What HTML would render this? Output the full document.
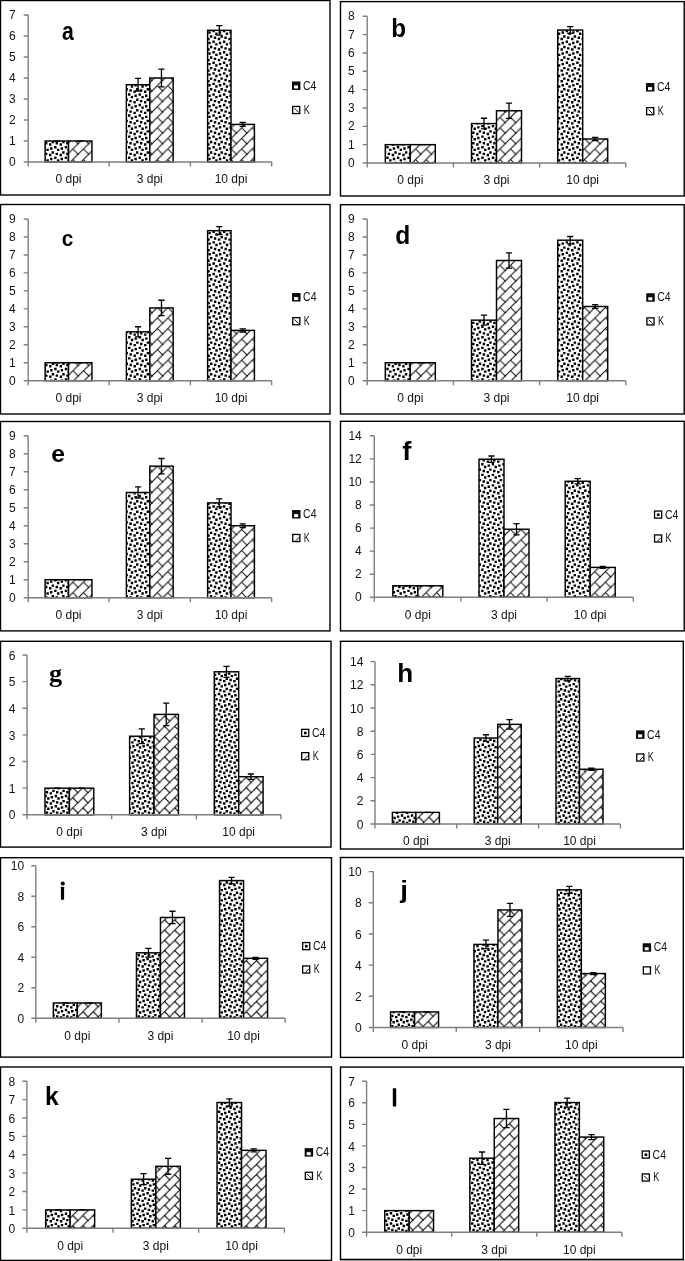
<!DOCTYPE html>
<html><head><meta charset="utf-8"><style>
html,body{margin:0;padding:0;background:#fff;}
svg{display:block;}

.t{font-family:"Liberation Sans",sans-serif;font-size:12px;fill:#111;}
.lg{font-family:"Liberation Sans",sans-serif;font-size:12.3px;fill:#111;}
.L{font-family:"Liberation Sans",sans-serif;font-size:100px;font-weight:bold;fill:#000;}
</style></head><body>
<svg style="will-change:transform" width="685" height="1261" viewBox="0 0 685 1261">
<rect width="685" height="1261" fill="#fff"/>
<defs>
<pattern id="bra" patternUnits="userSpaceOnUse" x="4.3" y="6.56" width="10.55" height="10.55">
<rect width="10.55" height="10.55" fill="#fff"/>
<path d="M-1 11.55 L11.55 -1 M5.28 5.28 L11.55 11.55 M-1 -1 L0.5 0.5" stroke="#000" stroke-width="1" fill="none"/>
</pattern>
<pattern id="brb" patternUnits="userSpaceOnUse" x="9.4" y="6.56" width="10.55" height="10.55">
<rect width="10.55" height="10.55" fill="#fff"/>
<path d="M-1 11.55 L11.55 -1 M5.28 5.28 L11.55 11.55 M-1 -1 L0.5 0.5" stroke="#000" stroke-width="1" fill="none"/>
</pattern>
<pattern id="brc" patternUnits="userSpaceOnUse" x="4.4" y="6.76" width="10.55" height="10.55">
<rect width="10.55" height="10.55" fill="#fff"/>
<path d="M-1 11.55 L11.55 -1 M5.28 5.28 L11.55 11.55 M-1 -1 L0.5 0.5" stroke="#000" stroke-width="1" fill="none"/>
</pattern>
<pattern id="brd" patternUnits="userSpaceOnUse" x="9.4" y="6.76" width="10.55" height="10.55">
<rect width="10.55" height="10.55" fill="#fff"/>
<path d="M-1 11.55 L11.55 -1 M5.28 5.28 L11.55 11.55 M-1 -1 L0.5 0.5" stroke="#000" stroke-width="1" fill="none"/>
</pattern>
<pattern id="bre" patternUnits="userSpaceOnUse" x="4.3" y="7.16" width="10.55" height="10.55">
<rect width="10.55" height="10.55" fill="#fff"/>
<path d="M-1 11.55 L11.55 -1 M5.28 5.28 L11.55 11.55 M-1 -1 L0.5 0.5" stroke="#000" stroke-width="1" fill="none"/>
</pattern>
<pattern id="brf" patternUnits="userSpaceOnUse" x="9.3" y="7.16" width="10.55" height="10.55">
<rect width="10.55" height="10.55" fill="#fff"/>
<path d="M-1 11.55 L11.55 -1 M5.28 5.28 L11.55 11.55 M-1 -1 L0.5 0.5" stroke="#000" stroke-width="1" fill="none"/>
</pattern>
<pattern id="brg" patternUnits="userSpaceOnUse" x="6.46" y="7.2" width="10.2" height="10.2">
<rect width="10.2" height="10.2" fill="#fff"/>
<path d="M-1 11.2 L11.2 -1 M5.1 5.1 L11.2 11.2 M-1 -1 L0.5 0.5" stroke="#000" stroke-width="1" fill="none"/>
</pattern>
<pattern id="brh" patternUnits="userSpaceOnUse" x="9.72" y="4.08" width="10.1" height="10.1">
<rect width="10.1" height="10.1" fill="#fff"/>
<path d="M-1 11.1 L11.1 -1 M5.05 5.05 L11.1 11.1 M-1 -1 L0.5 0.5" stroke="#000" stroke-width="1" fill="none"/>
</pattern>
<pattern id="bri" patternUnits="userSpaceOnUse" x="6.46" y="7" width="10.2" height="10.2">
<rect width="10.2" height="10.2" fill="#fff"/>
<path d="M-1 11.2 L11.2 -1 M5.1 5.1 L11.2 11.2 M-1 -1 L0.5 0.5" stroke="#000" stroke-width="1" fill="none"/>
</pattern>
<pattern id="brj" patternUnits="userSpaceOnUse" x="6.94" y="11.49" width="10.15" height="10.15">
<rect width="10.15" height="10.15" fill="#fff"/>
<path d="M-1 11.15 L11.15 -1 M5.08 5.08 L11.15 11.15 M-1 -1 L0.5 0.5" stroke="#000" stroke-width="1" fill="none"/>
</pattern>
<pattern id="brk" patternUnits="userSpaceOnUse" x="6.46" y="6.7" width="10.2" height="10.2">
<rect width="10.2" height="10.2" fill="#fff"/>
<path d="M-1 11.2 L11.2 -1 M5.1 5.1 L11.2 11.2 M-1 -1 L0.5 0.5" stroke="#000" stroke-width="1" fill="none"/>
</pattern>
<pattern id="brl" patternUnits="userSpaceOnUse" x="6.94" y="2.09" width="10.15" height="10.15">
<rect width="10.15" height="10.15" fill="#fff"/>
<path d="M-1 11.15 L11.15 -1 M5.08 5.08 L11.15 11.15 M-1 -1 L0.5 0.5" stroke="#000" stroke-width="1" fill="none"/>
</pattern>
</defs>
<rect x="0.5" y="0.5" width="329.5" height="194.5" fill="none" stroke="#000" stroke-width="1.4"/>
<rect x="45.13" y="141" width="23.4" height="21" fill="#fff"/>
<path d="M45.13 142.12h2.27v2.4h-2.27zM49 143.3h2.4v2.4h-2.4zM45.13 146h0.87v2.4h-0.87zM50.05 147.3h2.4v2.4h-2.4zM46.4 148.65h2.4v2.4h-2.4zM45.13 152.67h2.27v2.4h-2.27zM49 153.85h2.4v2.4h-2.4zM45.13 156.55h0.87v2.4h-0.87zM50.05 157.85h2.4v2.4h-2.4zM46.4 159.2h2.4v2.4h-2.4zM51.65 141h2.4v2.15h-2.4zM55.55 142.12h2.4v2.4h-2.4zM59.55 143.3h2.4v2.4h-2.4zM54.15 146h2.4v2.4h-2.4zM60.6 147.3h2.4v2.4h-2.4zM56.95 148.65h2.4v2.4h-2.4zM51.65 151.3h2.4v2.4h-2.4zM55.55 152.67h2.4v2.4h-2.4zM59.55 153.85h2.4v2.4h-2.4zM54.15 156.55h2.4v2.4h-2.4zM60.6 157.85h2.4v2.4h-2.4zM56.95 159.2h2.4v2.4h-2.4zM62.2 141h2.4v2.15h-2.4zM66.1 142.12h2.4v2.4h-2.4zM64.7 146h2.4v2.4h-2.4zM67.5 148.65h1.03v2.4h-1.03zM62.2 151.3h2.4v2.4h-2.4zM66.1 152.67h2.4v2.4h-2.4zM64.7 156.55h2.4v2.4h-2.4zM67.5 159.2h1.03v2.4h-1.03z" fill="#000"/>
<rect x="45.13" y="141" width="23.4" height="21" fill="none" stroke="#000" stroke-width="1.45"/>
<path d="M53.73 141 H59.93" stroke="#000" stroke-width="1.3" fill="none"/>
<rect x="68.53" y="141" width="23.4" height="21" fill="url(#bra)" stroke="#000" stroke-width="1.45"/>
<path d="M77.13 141 H83.33" stroke="#000" stroke-width="1.3" fill="none"/>
<rect x="126.38" y="84.72" width="23.4" height="77.28" fill="#fff"/>
<path d="M128 84.72h2.4v0.38h-2.4zM134.45 84.72h2.4v1.68h-2.4zM130.8 85.35h2.4v2.4h-2.4zM126.38 88h1.53v2.4h-1.53zM129.4 89.37h2.4v2.4h-2.4zM133.4 90.55h2.4v2.4h-2.4zM128 93.25h2.4v2.4h-2.4zM134.45 94.55h2.4v2.4h-2.4zM130.8 95.9h2.4v2.4h-2.4zM126.38 98.55h1.53v2.4h-1.53zM129.4 99.92h2.4v2.4h-2.4zM133.4 101.1h2.4v2.4h-2.4zM128 103.8h2.4v2.4h-2.4zM134.45 105.1h2.4v2.4h-2.4zM130.8 106.45h2.4v2.4h-2.4zM126.38 109.1h1.53v2.4h-1.53zM129.4 110.47h2.4v2.4h-2.4zM133.4 111.65h2.4v2.4h-2.4zM128 114.35h2.4v2.4h-2.4zM134.45 115.65h2.4v2.4h-2.4zM130.8 117h2.4v2.4h-2.4zM126.38 119.65h1.53v2.4h-1.53zM129.4 121.02h2.4v2.4h-2.4zM133.4 122.2h2.4v2.4h-2.4zM128 124.9h2.4v2.4h-2.4zM134.45 126.2h2.4v2.4h-2.4zM130.8 127.55h2.4v2.4h-2.4zM126.38 130.2h1.53v2.4h-1.53zM129.4 131.57h2.4v2.4h-2.4zM133.4 132.75h2.4v2.4h-2.4zM128 135.45h2.4v2.4h-2.4zM134.45 136.75h2.4v2.4h-2.4zM130.8 138.1h2.4v2.4h-2.4zM126.38 140.75h1.53v2.4h-1.53zM129.4 142.12h2.4v2.4h-2.4zM133.4 143.3h2.4v2.4h-2.4zM128 146h2.4v2.4h-2.4zM134.45 147.3h2.4v2.4h-2.4zM130.8 148.65h2.4v2.4h-2.4zM126.38 151.3h1.53v2.4h-1.53zM129.4 152.67h2.4v2.4h-2.4zM133.4 153.85h2.4v2.4h-2.4zM128 156.55h2.4v2.4h-2.4zM134.45 157.85h2.4v2.4h-2.4zM130.8 159.2h2.4v2.4h-2.4zM138.55 84.72h2.4v0.38h-2.4zM145 84.72h2.4v1.68h-2.4zM141.35 85.35h2.4v2.4h-2.4zM136.05 88h2.4v2.4h-2.4zM139.95 89.37h2.4v2.4h-2.4zM143.95 90.55h2.4v2.4h-2.4zM138.55 93.25h2.4v2.4h-2.4zM145 94.55h2.4v2.4h-2.4zM141.35 95.9h2.4v2.4h-2.4zM136.05 98.55h2.4v2.4h-2.4zM139.95 99.92h2.4v2.4h-2.4zM143.95 101.1h2.4v2.4h-2.4zM138.55 103.8h2.4v2.4h-2.4zM145 105.1h2.4v2.4h-2.4zM141.35 106.45h2.4v2.4h-2.4zM136.05 109.1h2.4v2.4h-2.4zM139.95 110.47h2.4v2.4h-2.4zM143.95 111.65h2.4v2.4h-2.4zM138.55 114.35h2.4v2.4h-2.4zM145 115.65h2.4v2.4h-2.4zM141.35 117h2.4v2.4h-2.4zM136.05 119.65h2.4v2.4h-2.4zM139.95 121.02h2.4v2.4h-2.4zM143.95 122.2h2.4v2.4h-2.4zM138.55 124.9h2.4v2.4h-2.4zM145 126.2h2.4v2.4h-2.4zM141.35 127.55h2.4v2.4h-2.4zM136.05 130.2h2.4v2.4h-2.4zM139.95 131.57h2.4v2.4h-2.4zM143.95 132.75h2.4v2.4h-2.4zM138.55 135.45h2.4v2.4h-2.4zM145 136.75h2.4v2.4h-2.4zM141.35 138.1h2.4v2.4h-2.4zM136.05 140.75h2.4v2.4h-2.4zM139.95 142.12h2.4v2.4h-2.4zM143.95 143.3h2.4v2.4h-2.4zM138.55 146h2.4v2.4h-2.4zM145 147.3h2.4v2.4h-2.4zM141.35 148.65h2.4v2.4h-2.4zM136.05 151.3h2.4v2.4h-2.4zM139.95 152.67h2.4v2.4h-2.4zM143.95 153.85h2.4v2.4h-2.4zM138.55 156.55h2.4v2.4h-2.4zM145 157.85h2.4v2.4h-2.4zM141.35 159.2h2.4v2.4h-2.4zM149.1 84.72h0.67v0.38h-0.67zM146.6 88h2.4v2.4h-2.4zM149.1 93.25h0.67v2.4h-0.67zM146.6 98.55h2.4v2.4h-2.4zM149.1 103.8h0.67v2.4h-0.67zM146.6 109.1h2.4v2.4h-2.4zM149.1 114.35h0.67v2.4h-0.67zM146.6 119.65h2.4v2.4h-2.4zM149.1 124.9h0.67v2.4h-0.67zM146.6 130.2h2.4v2.4h-2.4zM149.1 135.45h0.67v2.4h-0.67zM146.6 140.75h2.4v2.4h-2.4zM149.1 146h0.67v2.4h-0.67zM146.6 151.3h2.4v2.4h-2.4zM149.1 156.55h0.67v2.4h-0.67z" fill="#000"/>
<rect x="126.38" y="84.72" width="23.4" height="77.28" fill="none" stroke="#000" stroke-width="1.45"/>
<path d="M138.07 78.42 V91.02 M134.97 78.42 H141.17 M134.97 91.02 H141.17" stroke="#000" stroke-width="1.3" fill="none"/>
<rect x="149.78" y="78" width="23.4" height="84" fill="url(#bra)" stroke="#000" stroke-width="1.45"/>
<path d="M161.47 69.1 V86.9 M158.38 69.1 H164.57 M158.38 86.9 H164.57" stroke="#000" stroke-width="1.3" fill="none"/>
<rect x="207.62" y="30.33" width="23.4" height="131.67" fill="#fff"/>
<path d="M208.3 31.25h2.4v2.4h-2.4zM207.62 37.8h2.03v2.4h-2.03zM208.3 41.8h2.4v2.4h-2.4zM207.62 48.35h2.03v2.4h-2.03zM208.3 52.35h2.4v2.4h-2.4zM207.62 58.9h2.03v2.4h-2.03zM208.3 62.9h2.4v2.4h-2.4zM207.62 69.45h2.03v2.4h-2.03zM208.3 73.45h2.4v2.4h-2.4zM207.62 80h2.03v2.4h-2.03zM208.3 84h2.4v2.4h-2.4zM207.62 90.55h2.03v2.4h-2.03zM208.3 94.55h2.4v2.4h-2.4zM207.62 101.1h2.03v2.4h-2.03zM208.3 105.1h2.4v2.4h-2.4zM207.62 111.65h2.03v2.4h-2.03zM208.3 115.65h2.4v2.4h-2.4zM207.62 122.2h2.03v2.4h-2.03zM208.3 126.2h2.4v2.4h-2.4zM207.62 132.75h2.03v2.4h-2.03zM208.3 136.75h2.4v2.4h-2.4zM207.62 143.3h2.03v2.4h-2.03zM208.3 147.3h2.4v2.4h-2.4zM207.62 153.85h2.03v2.4h-2.03zM208.3 157.85h2.4v2.4h-2.4zM212.4 30.33h2.4v2.02h-2.4zM218.85 31.25h2.4v2.4h-2.4zM215.2 32.6h2.4v2.4h-2.4zM209.9 35.25h2.4v2.4h-2.4zM213.8 36.62h2.4v2.4h-2.4zM217.8 37.8h2.4v2.4h-2.4zM212.4 40.5h2.4v2.4h-2.4zM218.85 41.8h2.4v2.4h-2.4zM215.2 43.15h2.4v2.4h-2.4zM209.9 45.8h2.4v2.4h-2.4zM213.8 47.17h2.4v2.4h-2.4zM217.8 48.35h2.4v2.4h-2.4zM212.4 51.05h2.4v2.4h-2.4zM218.85 52.35h2.4v2.4h-2.4zM215.2 53.7h2.4v2.4h-2.4zM209.9 56.35h2.4v2.4h-2.4zM213.8 57.72h2.4v2.4h-2.4zM217.8 58.9h2.4v2.4h-2.4zM212.4 61.6h2.4v2.4h-2.4zM218.85 62.9h2.4v2.4h-2.4zM215.2 64.25h2.4v2.4h-2.4zM209.9 66.9h2.4v2.4h-2.4zM213.8 68.27h2.4v2.4h-2.4zM217.8 69.45h2.4v2.4h-2.4zM212.4 72.15h2.4v2.4h-2.4zM218.85 73.45h2.4v2.4h-2.4zM215.2 74.8h2.4v2.4h-2.4zM209.9 77.45h2.4v2.4h-2.4zM213.8 78.82h2.4v2.4h-2.4zM217.8 80h2.4v2.4h-2.4zM212.4 82.7h2.4v2.4h-2.4zM218.85 84h2.4v2.4h-2.4zM215.2 85.35h2.4v2.4h-2.4zM209.9 88h2.4v2.4h-2.4zM213.8 89.37h2.4v2.4h-2.4zM217.8 90.55h2.4v2.4h-2.4zM212.4 93.25h2.4v2.4h-2.4zM218.85 94.55h2.4v2.4h-2.4zM215.2 95.9h2.4v2.4h-2.4zM209.9 98.55h2.4v2.4h-2.4zM213.8 99.92h2.4v2.4h-2.4zM217.8 101.1h2.4v2.4h-2.4zM212.4 103.8h2.4v2.4h-2.4zM218.85 105.1h2.4v2.4h-2.4zM215.2 106.45h2.4v2.4h-2.4zM209.9 109.1h2.4v2.4h-2.4zM213.8 110.47h2.4v2.4h-2.4zM217.8 111.65h2.4v2.4h-2.4zM212.4 114.35h2.4v2.4h-2.4zM218.85 115.65h2.4v2.4h-2.4zM215.2 117h2.4v2.4h-2.4zM209.9 119.65h2.4v2.4h-2.4zM213.8 121.02h2.4v2.4h-2.4zM217.8 122.2h2.4v2.4h-2.4zM212.4 124.9h2.4v2.4h-2.4zM218.85 126.2h2.4v2.4h-2.4zM215.2 127.55h2.4v2.4h-2.4zM209.9 130.2h2.4v2.4h-2.4zM213.8 131.57h2.4v2.4h-2.4zM217.8 132.75h2.4v2.4h-2.4zM212.4 135.45h2.4v2.4h-2.4zM218.85 136.75h2.4v2.4h-2.4zM215.2 138.1h2.4v2.4h-2.4zM209.9 140.75h2.4v2.4h-2.4zM213.8 142.12h2.4v2.4h-2.4zM217.8 143.3h2.4v2.4h-2.4zM212.4 146h2.4v2.4h-2.4zM218.85 147.3h2.4v2.4h-2.4zM215.2 148.65h2.4v2.4h-2.4zM209.9 151.3h2.4v2.4h-2.4zM213.8 152.67h2.4v2.4h-2.4zM217.8 153.85h2.4v2.4h-2.4zM212.4 156.55h2.4v2.4h-2.4zM218.85 157.85h2.4v2.4h-2.4zM215.2 159.2h2.4v2.4h-2.4zM222.95 30.33h2.4v2.02h-2.4zM229.4 31.25h1.62v2.4h-1.62zM225.75 32.6h2.4v2.4h-2.4zM220.45 35.25h2.4v2.4h-2.4zM224.35 36.62h2.4v2.4h-2.4zM228.35 37.8h2.4v2.4h-2.4zM222.95 40.5h2.4v2.4h-2.4zM229.4 41.8h1.62v2.4h-1.62zM225.75 43.15h2.4v2.4h-2.4zM220.45 45.8h2.4v2.4h-2.4zM224.35 47.17h2.4v2.4h-2.4zM228.35 48.35h2.4v2.4h-2.4zM222.95 51.05h2.4v2.4h-2.4zM229.4 52.35h1.62v2.4h-1.62zM225.75 53.7h2.4v2.4h-2.4zM220.45 56.35h2.4v2.4h-2.4zM224.35 57.72h2.4v2.4h-2.4zM228.35 58.9h2.4v2.4h-2.4zM222.95 61.6h2.4v2.4h-2.4zM229.4 62.9h1.62v2.4h-1.62zM225.75 64.25h2.4v2.4h-2.4zM220.45 66.9h2.4v2.4h-2.4zM224.35 68.27h2.4v2.4h-2.4zM228.35 69.45h2.4v2.4h-2.4zM222.95 72.15h2.4v2.4h-2.4zM229.4 73.45h1.62v2.4h-1.62zM225.75 74.8h2.4v2.4h-2.4zM220.45 77.45h2.4v2.4h-2.4zM224.35 78.82h2.4v2.4h-2.4zM228.35 80h2.4v2.4h-2.4zM222.95 82.7h2.4v2.4h-2.4zM229.4 84h1.62v2.4h-1.62zM225.75 85.35h2.4v2.4h-2.4zM220.45 88h2.4v2.4h-2.4zM224.35 89.37h2.4v2.4h-2.4zM228.35 90.55h2.4v2.4h-2.4zM222.95 93.25h2.4v2.4h-2.4zM229.4 94.55h1.62v2.4h-1.62zM225.75 95.9h2.4v2.4h-2.4zM220.45 98.55h2.4v2.4h-2.4zM224.35 99.92h2.4v2.4h-2.4zM228.35 101.1h2.4v2.4h-2.4zM222.95 103.8h2.4v2.4h-2.4zM229.4 105.1h1.62v2.4h-1.62zM225.75 106.45h2.4v2.4h-2.4zM220.45 109.1h2.4v2.4h-2.4zM224.35 110.47h2.4v2.4h-2.4zM228.35 111.65h2.4v2.4h-2.4zM222.95 114.35h2.4v2.4h-2.4zM229.4 115.65h1.62v2.4h-1.62zM225.75 117h2.4v2.4h-2.4zM220.45 119.65h2.4v2.4h-2.4zM224.35 121.02h2.4v2.4h-2.4zM228.35 122.2h2.4v2.4h-2.4zM222.95 124.9h2.4v2.4h-2.4zM229.4 126.2h1.62v2.4h-1.62zM225.75 127.55h2.4v2.4h-2.4zM220.45 130.2h2.4v2.4h-2.4zM224.35 131.57h2.4v2.4h-2.4zM228.35 132.75h2.4v2.4h-2.4zM222.95 135.45h2.4v2.4h-2.4zM229.4 136.75h1.62v2.4h-1.62zM225.75 138.1h2.4v2.4h-2.4zM220.45 140.75h2.4v2.4h-2.4zM224.35 142.12h2.4v2.4h-2.4zM228.35 143.3h2.4v2.4h-2.4zM222.95 146h2.4v2.4h-2.4zM229.4 147.3h1.62v2.4h-1.62zM225.75 148.65h2.4v2.4h-2.4zM220.45 151.3h2.4v2.4h-2.4zM224.35 152.67h2.4v2.4h-2.4zM228.35 153.85h2.4v2.4h-2.4zM222.95 156.55h2.4v2.4h-2.4zM229.4 157.85h1.62v2.4h-1.62zM225.75 159.2h2.4v2.4h-2.4z" fill="#000"/>
<rect x="207.62" y="30.33" width="23.4" height="131.67" fill="none" stroke="#000" stroke-width="1.45"/>
<path d="M219.32 25.63 V35.03 M216.22 25.63 H222.42 M216.22 35.03 H222.42" stroke="#000" stroke-width="1.3" fill="none"/>
<rect x="231.03" y="124.41" width="23.4" height="37.59" fill="url(#bra)" stroke="#000" stroke-width="1.45"/>
<path d="M242.72 122.51 V126.31 M239.62 122.51 H245.82 M239.62 126.31 H245.82" stroke="#000" stroke-width="1.3" fill="none"/>
<path d="M28.2 15 V162 M23.7 162 H28.2 M23.7 141 H28.2 M23.7 120 H28.2 M23.7 99 H28.2 M23.7 78 H28.2 M23.7 57 H28.2 M23.7 36 H28.2 M23.7 15 H28.2 M27.9 162 H271.65 M28.2 162 V166.5 M109.15 162 V166.5 M190.4 162 V166.5 M271.65 162 V166.5" stroke="#7f7f7f" stroke-width="1.4" fill="none"/>
<text x="15.7" y="166.1" text-anchor="end" class="t">0</text>
<text x="15.7" y="145.1" text-anchor="end" class="t">1</text>
<text x="15.7" y="124.1" text-anchor="end" class="t">2</text>
<text x="15.7" y="103.1" text-anchor="end" class="t">3</text>
<text x="15.7" y="82.1" text-anchor="end" class="t">4</text>
<text x="15.7" y="61.1" text-anchor="end" class="t">5</text>
<text x="15.7" y="40.1" text-anchor="end" class="t">6</text>
<text x="15.7" y="19.1" text-anchor="end" class="t">7</text>
<text x="68.53" y="182.8" text-anchor="middle" class="t">0 dpi</text>
<text x="149.78" y="182.8" text-anchor="middle" class="t">3 dpi</text>
<text x="231.03" y="182.8" text-anchor="middle" class="t">10 dpi</text>
<rect x="292.65" y="82.15" width="7.1" height="7.1" fill="#111" stroke="#000" stroke-width="1.3"/>
<rect x="294" y="85.5" width="4" height="3" fill="#fff"/>
<rect x="292.65" y="106.45" width="7.1" height="7.1" fill="#fff" stroke="#000" stroke-width="1.3"/>
<path d="M294.5 108.3 L298.5 112.3" stroke="#000" stroke-width="1"/>
<text x="303" y="89.6" class="lg" textLength="13.4" lengthAdjust="spacingAndGlyphs">C4</text>
<text x="303.7" y="113.9" class="lg" textLength="6.0" lengthAdjust="spacingAndGlyphs">K</text>
<text transform="translate(61.99 40.15) scale(0.21161 0.25000)" class="L">a</text>
<rect x="340.5" y="1.6" width="343.7" height="194.4" fill="none" stroke="#000" stroke-width="1.4"/>
<rect x="385.3" y="144.66" width="25" height="18.34" fill="#fff"/>
<path d="M391.7 144.66h2.4v1.04h-2.4zM386.3 146h2.4v2.4h-2.4zM392.75 147.3h2.4v2.4h-2.4zM389.1 148.65h2.4v2.4h-2.4zM385.3 151.3h0.9v2.4h-0.9zM387.7 152.67h2.4v2.4h-2.4zM391.7 153.85h2.4v2.4h-2.4zM386.3 156.55h2.4v2.4h-2.4zM392.75 157.85h2.4v2.4h-2.4zM389.1 159.2h2.4v2.4h-2.4zM385.3 161.85h0.9v1.15h-0.9zM402.25 144.66h2.4v1.04h-2.4zM396.85 146h2.4v2.4h-2.4zM403.3 147.3h2.4v2.4h-2.4zM399.65 148.65h2.4v2.4h-2.4zM394.35 151.3h2.4v2.4h-2.4zM398.25 152.67h2.4v2.4h-2.4zM402.25 153.85h2.4v2.4h-2.4zM396.85 156.55h2.4v2.4h-2.4zM403.3 157.85h2.4v2.4h-2.4zM399.65 159.2h2.4v2.4h-2.4zM394.35 161.85h2.4v1.15h-2.4zM407.4 146h2.4v2.4h-2.4zM404.9 151.3h2.4v2.4h-2.4zM408.8 152.67h1.5v2.4h-1.5zM407.4 156.55h2.4v2.4h-2.4zM404.9 161.85h2.4v1.15h-2.4z" fill="#000"/>
<rect x="385.3" y="144.66" width="25" height="18.34" fill="none" stroke="#000" stroke-width="1.45"/>
<path d="M394.7 144.66 H400.9" stroke="#000" stroke-width="1.3" fill="none"/>
<rect x="410.3" y="144.66" width="25" height="18.34" fill="url(#brb)" stroke="#000" stroke-width="1.45"/>
<path d="M419.7 144.66 H425.9" stroke="#000" stroke-width="1.3" fill="none"/>
<rect x="471.5" y="123.57" width="25" height="39.43" fill="#fff"/>
<path d="M476.1 123.57h2.4v1.03h-2.4zM471.5 124.9h1.6v2.4h-1.6zM477.15 126.2h2.4v2.4h-2.4zM473.5 127.55h2.4v2.4h-2.4zM472.1 131.57h2.4v2.4h-2.4zM476.1 132.75h2.4v2.4h-2.4zM471.5 135.45h1.6v2.4h-1.6zM477.15 136.75h2.4v2.4h-2.4zM473.5 138.1h2.4v2.4h-2.4zM472.1 142.12h2.4v2.4h-2.4zM476.1 143.3h2.4v2.4h-2.4zM471.5 146h1.6v2.4h-1.6zM477.15 147.3h2.4v2.4h-2.4zM473.5 148.65h2.4v2.4h-2.4zM472.1 152.67h2.4v2.4h-2.4zM476.1 153.85h2.4v2.4h-2.4zM471.5 156.55h1.6v2.4h-1.6zM477.15 157.85h2.4v2.4h-2.4zM473.5 159.2h2.4v2.4h-2.4zM486.65 123.57h2.4v1.03h-2.4zM481.25 124.9h2.4v2.4h-2.4zM487.7 126.2h2.4v2.4h-2.4zM484.05 127.55h2.4v2.4h-2.4zM478.75 130.2h2.4v2.4h-2.4zM482.65 131.57h2.4v2.4h-2.4zM486.65 132.75h2.4v2.4h-2.4zM481.25 135.45h2.4v2.4h-2.4zM487.7 136.75h2.4v2.4h-2.4zM484.05 138.1h2.4v2.4h-2.4zM478.75 140.75h2.4v2.4h-2.4zM482.65 142.12h2.4v2.4h-2.4zM486.65 143.3h2.4v2.4h-2.4zM481.25 146h2.4v2.4h-2.4zM487.7 147.3h2.4v2.4h-2.4zM484.05 148.65h2.4v2.4h-2.4zM478.75 151.3h2.4v2.4h-2.4zM482.65 152.67h2.4v2.4h-2.4zM486.65 153.85h2.4v2.4h-2.4zM481.25 156.55h2.4v2.4h-2.4zM487.7 157.85h2.4v2.4h-2.4zM484.05 159.2h2.4v2.4h-2.4zM478.75 161.85h2.4v1.15h-2.4zM491.8 124.9h2.4v2.4h-2.4zM494.6 127.55h1.9v2.4h-1.9zM489.3 130.2h2.4v2.4h-2.4zM493.2 131.57h2.4v2.4h-2.4zM491.8 135.45h2.4v2.4h-2.4zM494.6 138.1h1.9v2.4h-1.9zM489.3 140.75h2.4v2.4h-2.4zM493.2 142.12h2.4v2.4h-2.4zM491.8 146h2.4v2.4h-2.4zM494.6 148.65h1.9v2.4h-1.9zM489.3 151.3h2.4v2.4h-2.4zM493.2 152.67h2.4v2.4h-2.4zM491.8 156.55h2.4v2.4h-2.4zM494.6 159.2h1.9v2.4h-1.9zM489.3 161.85h2.4v1.15h-2.4z" fill="#000"/>
<rect x="471.5" y="123.57" width="25" height="39.43" fill="none" stroke="#000" stroke-width="1.45"/>
<path d="M484 118.27 V128.87 M480.9 118.27 H487.1 M480.9 128.87 H487.1" stroke="#000" stroke-width="1.3" fill="none"/>
<rect x="496.5" y="110.74" width="25" height="52.26" fill="url(#brb)" stroke="#000" stroke-width="1.45"/>
<path d="M509 103.14 V118.34 M505.9 103.14 H512.1 M505.9 118.34 H512.1" stroke="#000" stroke-width="1.3" fill="none"/>
<rect x="557.7" y="30.05" width="25" height="132.95" fill="#fff"/>
<path d="M561.55 31.25h2.4v2.4h-2.4zM557.9 32.6h2.4v2.4h-2.4zM557.7 36.62h1.2v2.4h-1.2zM560.5 37.8h2.4v2.4h-2.4zM561.55 41.8h2.4v2.4h-2.4zM557.9 43.15h2.4v2.4h-2.4zM557.7 47.17h1.2v2.4h-1.2zM560.5 48.35h2.4v2.4h-2.4zM561.55 52.35h2.4v2.4h-2.4zM557.9 53.7h2.4v2.4h-2.4zM557.7 57.72h1.2v2.4h-1.2zM560.5 58.9h2.4v2.4h-2.4zM561.55 62.9h2.4v2.4h-2.4zM557.9 64.25h2.4v2.4h-2.4zM557.7 68.27h1.2v2.4h-1.2zM560.5 69.45h2.4v2.4h-2.4zM561.55 73.45h2.4v2.4h-2.4zM557.9 74.8h2.4v2.4h-2.4zM557.7 78.82h1.2v2.4h-1.2zM560.5 80h2.4v2.4h-2.4zM561.55 84h2.4v2.4h-2.4zM557.9 85.35h2.4v2.4h-2.4zM557.7 89.37h1.2v2.4h-1.2zM560.5 90.55h2.4v2.4h-2.4zM561.55 94.55h2.4v2.4h-2.4zM557.9 95.9h2.4v2.4h-2.4zM557.7 99.92h1.2v2.4h-1.2zM560.5 101.1h2.4v2.4h-2.4zM561.55 105.1h2.4v2.4h-2.4zM557.9 106.45h2.4v2.4h-2.4zM557.7 110.47h1.2v2.4h-1.2zM560.5 111.65h2.4v2.4h-2.4zM561.55 115.65h2.4v2.4h-2.4zM557.9 117h2.4v2.4h-2.4zM557.7 121.02h1.2v2.4h-1.2zM560.5 122.2h2.4v2.4h-2.4zM561.55 126.2h2.4v2.4h-2.4zM557.9 127.55h2.4v2.4h-2.4zM557.7 131.57h1.2v2.4h-1.2zM560.5 132.75h2.4v2.4h-2.4zM561.55 136.75h2.4v2.4h-2.4zM557.9 138.1h2.4v2.4h-2.4zM557.7 142.12h1.2v2.4h-1.2zM560.5 143.3h2.4v2.4h-2.4zM561.55 147.3h2.4v2.4h-2.4zM557.9 148.65h2.4v2.4h-2.4zM557.7 152.67h1.2v2.4h-1.2zM560.5 153.85h2.4v2.4h-2.4zM561.55 157.85h2.4v2.4h-2.4zM557.9 159.2h2.4v2.4h-2.4zM565.65 30.05h2.4v2.3h-2.4zM572.1 31.25h2.4v2.4h-2.4zM568.45 32.6h2.4v2.4h-2.4zM563.15 35.25h2.4v2.4h-2.4zM567.05 36.62h2.4v2.4h-2.4zM571.05 37.8h2.4v2.4h-2.4zM565.65 40.5h2.4v2.4h-2.4zM572.1 41.8h2.4v2.4h-2.4zM568.45 43.15h2.4v2.4h-2.4zM563.15 45.8h2.4v2.4h-2.4zM567.05 47.17h2.4v2.4h-2.4zM571.05 48.35h2.4v2.4h-2.4zM565.65 51.05h2.4v2.4h-2.4zM572.1 52.35h2.4v2.4h-2.4zM568.45 53.7h2.4v2.4h-2.4zM563.15 56.35h2.4v2.4h-2.4zM567.05 57.72h2.4v2.4h-2.4zM571.05 58.9h2.4v2.4h-2.4zM565.65 61.6h2.4v2.4h-2.4zM572.1 62.9h2.4v2.4h-2.4zM568.45 64.25h2.4v2.4h-2.4zM563.15 66.9h2.4v2.4h-2.4zM567.05 68.27h2.4v2.4h-2.4zM571.05 69.45h2.4v2.4h-2.4zM565.65 72.15h2.4v2.4h-2.4zM572.1 73.45h2.4v2.4h-2.4zM568.45 74.8h2.4v2.4h-2.4zM563.15 77.45h2.4v2.4h-2.4zM567.05 78.82h2.4v2.4h-2.4zM571.05 80h2.4v2.4h-2.4zM565.65 82.7h2.4v2.4h-2.4zM572.1 84h2.4v2.4h-2.4zM568.45 85.35h2.4v2.4h-2.4zM563.15 88h2.4v2.4h-2.4zM567.05 89.37h2.4v2.4h-2.4zM571.05 90.55h2.4v2.4h-2.4zM565.65 93.25h2.4v2.4h-2.4zM572.1 94.55h2.4v2.4h-2.4zM568.45 95.9h2.4v2.4h-2.4zM563.15 98.55h2.4v2.4h-2.4zM567.05 99.92h2.4v2.4h-2.4zM571.05 101.1h2.4v2.4h-2.4zM565.65 103.8h2.4v2.4h-2.4zM572.1 105.1h2.4v2.4h-2.4zM568.45 106.45h2.4v2.4h-2.4zM563.15 109.1h2.4v2.4h-2.4zM567.05 110.47h2.4v2.4h-2.4zM571.05 111.65h2.4v2.4h-2.4zM565.65 114.35h2.4v2.4h-2.4zM572.1 115.65h2.4v2.4h-2.4zM568.45 117h2.4v2.4h-2.4zM563.15 119.65h2.4v2.4h-2.4zM567.05 121.02h2.4v2.4h-2.4zM571.05 122.2h2.4v2.4h-2.4zM565.65 124.9h2.4v2.4h-2.4zM572.1 126.2h2.4v2.4h-2.4zM568.45 127.55h2.4v2.4h-2.4zM563.15 130.2h2.4v2.4h-2.4zM567.05 131.57h2.4v2.4h-2.4zM571.05 132.75h2.4v2.4h-2.4zM565.65 135.45h2.4v2.4h-2.4zM572.1 136.75h2.4v2.4h-2.4zM568.45 138.1h2.4v2.4h-2.4zM563.15 140.75h2.4v2.4h-2.4zM567.05 142.12h2.4v2.4h-2.4zM571.05 143.3h2.4v2.4h-2.4zM565.65 146h2.4v2.4h-2.4zM572.1 147.3h2.4v2.4h-2.4zM568.45 148.65h2.4v2.4h-2.4zM563.15 151.3h2.4v2.4h-2.4zM567.05 152.67h2.4v2.4h-2.4zM571.05 153.85h2.4v2.4h-2.4zM565.65 156.55h2.4v2.4h-2.4zM572.1 157.85h2.4v2.4h-2.4zM568.45 159.2h2.4v2.4h-2.4zM563.15 161.85h2.4v1.15h-2.4zM576.2 30.05h2.4v2.3h-2.4zM579 32.6h2.4v2.4h-2.4zM573.7 35.25h2.4v2.4h-2.4zM577.6 36.62h2.4v2.4h-2.4zM581.6 37.8h1.1v2.4h-1.1zM576.2 40.5h2.4v2.4h-2.4zM579 43.15h2.4v2.4h-2.4zM573.7 45.8h2.4v2.4h-2.4zM577.6 47.17h2.4v2.4h-2.4zM581.6 48.35h1.1v2.4h-1.1zM576.2 51.05h2.4v2.4h-2.4zM579 53.7h2.4v2.4h-2.4zM573.7 56.35h2.4v2.4h-2.4zM577.6 57.72h2.4v2.4h-2.4zM581.6 58.9h1.1v2.4h-1.1zM576.2 61.6h2.4v2.4h-2.4zM579 64.25h2.4v2.4h-2.4zM573.7 66.9h2.4v2.4h-2.4zM577.6 68.27h2.4v2.4h-2.4zM581.6 69.45h1.1v2.4h-1.1zM576.2 72.15h2.4v2.4h-2.4zM579 74.8h2.4v2.4h-2.4zM573.7 77.45h2.4v2.4h-2.4zM577.6 78.82h2.4v2.4h-2.4zM581.6 80h1.1v2.4h-1.1zM576.2 82.7h2.4v2.4h-2.4zM579 85.35h2.4v2.4h-2.4zM573.7 88h2.4v2.4h-2.4zM577.6 89.37h2.4v2.4h-2.4zM581.6 90.55h1.1v2.4h-1.1zM576.2 93.25h2.4v2.4h-2.4zM579 95.9h2.4v2.4h-2.4zM573.7 98.55h2.4v2.4h-2.4zM577.6 99.92h2.4v2.4h-2.4zM581.6 101.1h1.1v2.4h-1.1zM576.2 103.8h2.4v2.4h-2.4zM579 106.45h2.4v2.4h-2.4zM573.7 109.1h2.4v2.4h-2.4zM577.6 110.47h2.4v2.4h-2.4zM581.6 111.65h1.1v2.4h-1.1zM576.2 114.35h2.4v2.4h-2.4zM579 117h2.4v2.4h-2.4zM573.7 119.65h2.4v2.4h-2.4zM577.6 121.02h2.4v2.4h-2.4zM581.6 122.2h1.1v2.4h-1.1zM576.2 124.9h2.4v2.4h-2.4zM579 127.55h2.4v2.4h-2.4zM573.7 130.2h2.4v2.4h-2.4zM577.6 131.57h2.4v2.4h-2.4zM581.6 132.75h1.1v2.4h-1.1zM576.2 135.45h2.4v2.4h-2.4zM579 138.1h2.4v2.4h-2.4zM573.7 140.75h2.4v2.4h-2.4zM577.6 142.12h2.4v2.4h-2.4zM581.6 143.3h1.1v2.4h-1.1zM576.2 146h2.4v2.4h-2.4zM579 148.65h2.4v2.4h-2.4zM573.7 151.3h2.4v2.4h-2.4zM577.6 152.67h2.4v2.4h-2.4zM581.6 153.85h1.1v2.4h-1.1zM576.2 156.55h2.4v2.4h-2.4zM579 159.2h2.4v2.4h-2.4zM573.7 161.85h2.4v1.15h-2.4z" fill="#000"/>
<rect x="557.7" y="30.05" width="25" height="132.95" fill="none" stroke="#000" stroke-width="1.45"/>
<path d="M570.2 26.65 V33.45 M567.1 26.65 H573.3 M567.1 33.45 H573.3" stroke="#000" stroke-width="1.3" fill="none"/>
<rect x="582.7" y="138.98" width="25" height="24.02" fill="url(#brb)" stroke="#000" stroke-width="1.45"/>
<path d="M595.2 137.38 V140.58 M592.1 137.38 H598.3 M592.1 140.58 H598.3" stroke="#000" stroke-width="1.3" fill="none"/>
<path d="M367.2 16.3 V163 M362.7 163 H367.2 M362.7 144.66 H367.2 M362.7 126.33 H367.2 M362.7 107.99 H367.2 M362.7 89.65 H367.2 M362.7 71.31 H367.2 M362.7 52.98 H367.2 M362.7 34.64 H367.2 M362.7 16.3 H367.2 M367.2 163 H625.8 M367.2 163 V167.5 M453.4 163 V167.5 M539.6 163 V167.5 M625.8 163 V167.5" stroke="#7f7f7f" stroke-width="1.4" fill="none"/>
<text x="354.7" y="167.1" text-anchor="end" class="t">0</text>
<text x="354.7" y="148.76" text-anchor="end" class="t">1</text>
<text x="354.7" y="130.43" text-anchor="end" class="t">2</text>
<text x="354.7" y="112.09" text-anchor="end" class="t">3</text>
<text x="354.7" y="93.75" text-anchor="end" class="t">4</text>
<text x="354.7" y="75.41" text-anchor="end" class="t">5</text>
<text x="354.7" y="57.08" text-anchor="end" class="t">6</text>
<text x="354.7" y="38.74" text-anchor="end" class="t">7</text>
<text x="354.7" y="20.4" text-anchor="end" class="t">8</text>
<text x="410.3" y="184.3" text-anchor="middle" class="t">0 dpi</text>
<text x="496.5" y="184.3" text-anchor="middle" class="t">3 dpi</text>
<text x="582.7" y="184.3" text-anchor="middle" class="t">10 dpi</text>
<rect x="646.65" y="83.75" width="7.1" height="7.1" fill="#111" stroke="#000" stroke-width="1.3"/>
<rect x="648" y="87.1" width="4" height="3" fill="#fff"/>
<rect x="646.65" y="107.65" width="7.1" height="7.1" fill="#fff" stroke="#000" stroke-width="1.3"/>
<path d="M648.5 109.5 L652.5 113.5" stroke="#000" stroke-width="1"/>
<text x="657" y="91.2" class="lg" textLength="13.4" lengthAdjust="spacingAndGlyphs">C4</text>
<text x="657.7" y="115.1" class="lg" textLength="6.0" lengthAdjust="spacingAndGlyphs">K</text>
<text transform="translate(391.2 36.95) scale(0.24206 0.25170)" class="L">b</text>
<rect x="0.5" y="204.5" width="329.5" height="209.5" fill="none" stroke="#000" stroke-width="1.4"/>
<rect x="45.13" y="362.73" width="23.4" height="17.97" fill="#fff"/>
<path d="M45.13 363.87h2.37v2.4h-2.37zM49.1 365.05h2.4v2.4h-2.4zM45.13 367.75h0.97v2.4h-0.97zM50.15 369.05h2.4v2.4h-2.4zM46.5 370.4h2.4v2.4h-2.4zM45.13 374.42h2.37v2.4h-2.37zM49.1 375.6h2.4v2.4h-2.4zM45.13 378.3h0.97v2.4h-0.97zM50.15 379.6h2.4v1.1h-2.4zM51.75 362.73h2.4v2.17h-2.4zM55.65 363.87h2.4v2.4h-2.4zM59.65 365.05h2.4v2.4h-2.4zM54.25 367.75h2.4v2.4h-2.4zM60.7 369.05h2.4v2.4h-2.4zM57.05 370.4h2.4v2.4h-2.4zM51.75 373.05h2.4v2.4h-2.4zM55.65 374.42h2.4v2.4h-2.4zM59.65 375.6h2.4v2.4h-2.4zM54.25 378.3h2.4v2.4h-2.4zM60.7 379.6h2.4v1.1h-2.4zM62.3 362.73h2.4v2.17h-2.4zM66.2 363.87h2.33v2.4h-2.33zM64.8 367.75h2.4v2.4h-2.4zM67.6 370.4h0.92v2.4h-0.92zM62.3 373.05h2.4v2.4h-2.4zM66.2 374.42h2.33v2.4h-2.33zM64.8 378.3h2.4v2.4h-2.4z" fill="#000"/>
<rect x="45.13" y="362.73" width="23.4" height="17.97" fill="none" stroke="#000" stroke-width="1.45"/>
<path d="M53.73 362.73 H59.93" stroke="#000" stroke-width="1.3" fill="none"/>
<rect x="68.53" y="362.73" width="23.4" height="17.97" fill="url(#brc)" stroke="#000" stroke-width="1.45"/>
<path d="M77.13 362.73 H83.33" stroke="#000" stroke-width="1.3" fill="none"/>
<rect x="126.38" y="331.83" width="23.4" height="48.87" fill="#fff"/>
<path d="M126.38 331.83h1.62v1.42h-1.62zM129.5 332.22h2.4v2.4h-2.4zM133.5 333.4h2.4v2.4h-2.4zM128.1 336.1h2.4v2.4h-2.4zM134.55 337.4h2.4v2.4h-2.4zM130.9 338.75h2.4v2.4h-2.4zM126.38 341.4h1.62v2.4h-1.62zM129.5 342.77h2.4v2.4h-2.4zM133.5 343.95h2.4v2.4h-2.4zM128.1 346.65h2.4v2.4h-2.4zM134.55 347.95h2.4v2.4h-2.4zM130.9 349.3h2.4v2.4h-2.4zM126.38 351.95h1.62v2.4h-1.62zM129.5 353.32h2.4v2.4h-2.4zM133.5 354.5h2.4v2.4h-2.4zM128.1 357.2h2.4v2.4h-2.4zM134.55 358.5h2.4v2.4h-2.4zM130.9 359.85h2.4v2.4h-2.4zM126.38 362.5h1.62v2.4h-1.62zM129.5 363.87h2.4v2.4h-2.4zM133.5 365.05h2.4v2.4h-2.4zM128.1 367.75h2.4v2.4h-2.4zM134.55 369.05h2.4v2.4h-2.4zM130.9 370.4h2.4v2.4h-2.4zM126.38 373.05h1.62v2.4h-1.62zM129.5 374.42h2.4v2.4h-2.4zM133.5 375.6h2.4v2.4h-2.4zM128.1 378.3h2.4v2.4h-2.4zM134.55 379.6h2.4v1.1h-2.4zM136.15 331.83h2.4v1.42h-2.4zM140.05 332.22h2.4v2.4h-2.4zM144.05 333.4h2.4v2.4h-2.4zM138.65 336.1h2.4v2.4h-2.4zM145.1 337.4h2.4v2.4h-2.4zM141.45 338.75h2.4v2.4h-2.4zM136.15 341.4h2.4v2.4h-2.4zM140.05 342.77h2.4v2.4h-2.4zM144.05 343.95h2.4v2.4h-2.4zM138.65 346.65h2.4v2.4h-2.4zM145.1 347.95h2.4v2.4h-2.4zM141.45 349.3h2.4v2.4h-2.4zM136.15 351.95h2.4v2.4h-2.4zM140.05 353.32h2.4v2.4h-2.4zM144.05 354.5h2.4v2.4h-2.4zM138.65 357.2h2.4v2.4h-2.4zM145.1 358.5h2.4v2.4h-2.4zM141.45 359.85h2.4v2.4h-2.4zM136.15 362.5h2.4v2.4h-2.4zM140.05 363.87h2.4v2.4h-2.4zM144.05 365.05h2.4v2.4h-2.4zM138.65 367.75h2.4v2.4h-2.4zM145.1 369.05h2.4v2.4h-2.4zM141.45 370.4h2.4v2.4h-2.4zM136.15 373.05h2.4v2.4h-2.4zM140.05 374.42h2.4v2.4h-2.4zM144.05 375.6h2.4v2.4h-2.4zM138.65 378.3h2.4v2.4h-2.4zM145.1 379.6h2.4v1.1h-2.4zM146.7 331.83h2.4v1.42h-2.4zM149.2 336.1h0.57v2.4h-0.57zM146.7 341.4h2.4v2.4h-2.4zM149.2 346.65h0.57v2.4h-0.57zM146.7 351.95h2.4v2.4h-2.4zM149.2 357.2h0.57v2.4h-0.57zM146.7 362.5h2.4v2.4h-2.4zM149.2 367.75h0.57v2.4h-0.57zM146.7 373.05h2.4v2.4h-2.4zM149.2 378.3h0.57v2.4h-0.57z" fill="#000"/>
<rect x="126.38" y="331.83" width="23.4" height="48.87" fill="none" stroke="#000" stroke-width="1.45"/>
<path d="M138.07 326.73 V336.93 M134.97 326.73 H141.17 M134.97 336.93 H141.17" stroke="#000" stroke-width="1.3" fill="none"/>
<rect x="149.78" y="307.94" width="23.4" height="72.76" fill="url(#brc)" stroke="#000" stroke-width="1.45"/>
<path d="M161.47 300.24 V315.63 M158.38 300.24 H164.57 M158.38 315.63 H164.57" stroke="#000" stroke-width="1.3" fill="none"/>
<rect x="207.62" y="230.68" width="23.4" height="150.02" fill="#fff"/>
<path d="M208.4 231.9h2.4v2.4h-2.4zM207.62 238.45h2.13v2.4h-2.13zM208.4 242.45h2.4v2.4h-2.4zM207.62 249h2.13v2.4h-2.13zM208.4 253h2.4v2.4h-2.4zM207.62 259.55h2.13v2.4h-2.13zM208.4 263.55h2.4v2.4h-2.4zM207.62 270.1h2.13v2.4h-2.13zM208.4 274.1h2.4v2.4h-2.4zM207.62 280.65h2.13v2.4h-2.13zM208.4 284.65h2.4v2.4h-2.4zM207.62 291.2h2.13v2.4h-2.13zM208.4 295.2h2.4v2.4h-2.4zM207.62 301.75h2.13v2.4h-2.13zM208.4 305.75h2.4v2.4h-2.4zM207.62 312.3h2.13v2.4h-2.13zM208.4 316.3h2.4v2.4h-2.4zM207.62 322.85h2.13v2.4h-2.13zM208.4 326.85h2.4v2.4h-2.4zM207.62 333.4h2.13v2.4h-2.13zM208.4 337.4h2.4v2.4h-2.4zM207.62 343.95h2.13v2.4h-2.13zM208.4 347.95h2.4v2.4h-2.4zM207.62 354.5h2.13v2.4h-2.13zM208.4 358.5h2.4v2.4h-2.4zM207.62 365.05h2.13v2.4h-2.13zM208.4 369.05h2.4v2.4h-2.4zM207.62 375.6h2.13v2.4h-2.13zM208.4 379.6h2.4v1.1h-2.4zM212.5 230.68h2.4v2.32h-2.4zM218.95 231.9h2.4v2.4h-2.4zM215.3 233.25h2.4v2.4h-2.4zM210 235.9h2.4v2.4h-2.4zM213.9 237.27h2.4v2.4h-2.4zM217.9 238.45h2.4v2.4h-2.4zM212.5 241.15h2.4v2.4h-2.4zM218.95 242.45h2.4v2.4h-2.4zM215.3 243.8h2.4v2.4h-2.4zM210 246.45h2.4v2.4h-2.4zM213.9 247.82h2.4v2.4h-2.4zM217.9 249h2.4v2.4h-2.4zM212.5 251.7h2.4v2.4h-2.4zM218.95 253h2.4v2.4h-2.4zM215.3 254.35h2.4v2.4h-2.4zM210 257h2.4v2.4h-2.4zM213.9 258.37h2.4v2.4h-2.4zM217.9 259.55h2.4v2.4h-2.4zM212.5 262.25h2.4v2.4h-2.4zM218.95 263.55h2.4v2.4h-2.4zM215.3 264.9h2.4v2.4h-2.4zM210 267.55h2.4v2.4h-2.4zM213.9 268.92h2.4v2.4h-2.4zM217.9 270.1h2.4v2.4h-2.4zM212.5 272.8h2.4v2.4h-2.4zM218.95 274.1h2.4v2.4h-2.4zM215.3 275.45h2.4v2.4h-2.4zM210 278.1h2.4v2.4h-2.4zM213.9 279.47h2.4v2.4h-2.4zM217.9 280.65h2.4v2.4h-2.4zM212.5 283.35h2.4v2.4h-2.4zM218.95 284.65h2.4v2.4h-2.4zM215.3 286h2.4v2.4h-2.4zM210 288.65h2.4v2.4h-2.4zM213.9 290.02h2.4v2.4h-2.4zM217.9 291.2h2.4v2.4h-2.4zM212.5 293.9h2.4v2.4h-2.4zM218.95 295.2h2.4v2.4h-2.4zM215.3 296.55h2.4v2.4h-2.4zM210 299.2h2.4v2.4h-2.4zM213.9 300.57h2.4v2.4h-2.4zM217.9 301.75h2.4v2.4h-2.4zM212.5 304.45h2.4v2.4h-2.4zM218.95 305.75h2.4v2.4h-2.4zM215.3 307.1h2.4v2.4h-2.4zM210 309.75h2.4v2.4h-2.4zM213.9 311.12h2.4v2.4h-2.4zM217.9 312.3h2.4v2.4h-2.4zM212.5 315h2.4v2.4h-2.4zM218.95 316.3h2.4v2.4h-2.4zM215.3 317.65h2.4v2.4h-2.4zM210 320.3h2.4v2.4h-2.4zM213.9 321.67h2.4v2.4h-2.4zM217.9 322.85h2.4v2.4h-2.4zM212.5 325.55h2.4v2.4h-2.4zM218.95 326.85h2.4v2.4h-2.4zM215.3 328.2h2.4v2.4h-2.4zM210 330.85h2.4v2.4h-2.4zM213.9 332.22h2.4v2.4h-2.4zM217.9 333.4h2.4v2.4h-2.4zM212.5 336.1h2.4v2.4h-2.4zM218.95 337.4h2.4v2.4h-2.4zM215.3 338.75h2.4v2.4h-2.4zM210 341.4h2.4v2.4h-2.4zM213.9 342.77h2.4v2.4h-2.4zM217.9 343.95h2.4v2.4h-2.4zM212.5 346.65h2.4v2.4h-2.4zM218.95 347.95h2.4v2.4h-2.4zM215.3 349.3h2.4v2.4h-2.4zM210 351.95h2.4v2.4h-2.4zM213.9 353.32h2.4v2.4h-2.4zM217.9 354.5h2.4v2.4h-2.4zM212.5 357.2h2.4v2.4h-2.4zM218.95 358.5h2.4v2.4h-2.4zM215.3 359.85h2.4v2.4h-2.4zM210 362.5h2.4v2.4h-2.4zM213.9 363.87h2.4v2.4h-2.4zM217.9 365.05h2.4v2.4h-2.4zM212.5 367.75h2.4v2.4h-2.4zM218.95 369.05h2.4v2.4h-2.4zM215.3 370.4h2.4v2.4h-2.4zM210 373.05h2.4v2.4h-2.4zM213.9 374.42h2.4v2.4h-2.4zM217.9 375.6h2.4v2.4h-2.4zM212.5 378.3h2.4v2.4h-2.4zM218.95 379.6h2.4v1.1h-2.4zM223.05 230.68h2.4v2.32h-2.4zM229.5 231.9h1.53v2.4h-1.53zM225.85 233.25h2.4v2.4h-2.4zM220.55 235.9h2.4v2.4h-2.4zM224.45 237.27h2.4v2.4h-2.4zM228.45 238.45h2.4v2.4h-2.4zM223.05 241.15h2.4v2.4h-2.4zM229.5 242.45h1.53v2.4h-1.53zM225.85 243.8h2.4v2.4h-2.4zM220.55 246.45h2.4v2.4h-2.4zM224.45 247.82h2.4v2.4h-2.4zM228.45 249h2.4v2.4h-2.4zM223.05 251.7h2.4v2.4h-2.4zM229.5 253h1.53v2.4h-1.53zM225.85 254.35h2.4v2.4h-2.4zM220.55 257h2.4v2.4h-2.4zM224.45 258.37h2.4v2.4h-2.4zM228.45 259.55h2.4v2.4h-2.4zM223.05 262.25h2.4v2.4h-2.4zM229.5 263.55h1.53v2.4h-1.53zM225.85 264.9h2.4v2.4h-2.4zM220.55 267.55h2.4v2.4h-2.4zM224.45 268.92h2.4v2.4h-2.4zM228.45 270.1h2.4v2.4h-2.4zM223.05 272.8h2.4v2.4h-2.4zM229.5 274.1h1.53v2.4h-1.53zM225.85 275.45h2.4v2.4h-2.4zM220.55 278.1h2.4v2.4h-2.4zM224.45 279.47h2.4v2.4h-2.4zM228.45 280.65h2.4v2.4h-2.4zM223.05 283.35h2.4v2.4h-2.4zM229.5 284.65h1.53v2.4h-1.53zM225.85 286h2.4v2.4h-2.4zM220.55 288.65h2.4v2.4h-2.4zM224.45 290.02h2.4v2.4h-2.4zM228.45 291.2h2.4v2.4h-2.4zM223.05 293.9h2.4v2.4h-2.4zM229.5 295.2h1.53v2.4h-1.53zM225.85 296.55h2.4v2.4h-2.4zM220.55 299.2h2.4v2.4h-2.4zM224.45 300.57h2.4v2.4h-2.4zM228.45 301.75h2.4v2.4h-2.4zM223.05 304.45h2.4v2.4h-2.4zM229.5 305.75h1.53v2.4h-1.53zM225.85 307.1h2.4v2.4h-2.4zM220.55 309.75h2.4v2.4h-2.4zM224.45 311.12h2.4v2.4h-2.4zM228.45 312.3h2.4v2.4h-2.4zM223.05 315h2.4v2.4h-2.4zM229.5 316.3h1.53v2.4h-1.53zM225.85 317.65h2.4v2.4h-2.4zM220.55 320.3h2.4v2.4h-2.4zM224.45 321.67h2.4v2.4h-2.4zM228.45 322.85h2.4v2.4h-2.4zM223.05 325.55h2.4v2.4h-2.4zM229.5 326.85h1.53v2.4h-1.53zM225.85 328.2h2.4v2.4h-2.4zM220.55 330.85h2.4v2.4h-2.4zM224.45 332.22h2.4v2.4h-2.4zM228.45 333.4h2.4v2.4h-2.4zM223.05 336.1h2.4v2.4h-2.4zM229.5 337.4h1.53v2.4h-1.53zM225.85 338.75h2.4v2.4h-2.4zM220.55 341.4h2.4v2.4h-2.4zM224.45 342.77h2.4v2.4h-2.4zM228.45 343.95h2.4v2.4h-2.4zM223.05 346.65h2.4v2.4h-2.4zM229.5 347.95h1.53v2.4h-1.53zM225.85 349.3h2.4v2.4h-2.4zM220.55 351.95h2.4v2.4h-2.4zM224.45 353.32h2.4v2.4h-2.4zM228.45 354.5h2.4v2.4h-2.4zM223.05 357.2h2.4v2.4h-2.4zM229.5 358.5h1.53v2.4h-1.53zM225.85 359.85h2.4v2.4h-2.4zM220.55 362.5h2.4v2.4h-2.4zM224.45 363.87h2.4v2.4h-2.4zM228.45 365.05h2.4v2.4h-2.4zM223.05 367.75h2.4v2.4h-2.4zM229.5 369.05h1.53v2.4h-1.53zM225.85 370.4h2.4v2.4h-2.4zM220.55 373.05h2.4v2.4h-2.4zM224.45 374.42h2.4v2.4h-2.4zM228.45 375.6h2.4v2.4h-2.4zM223.05 378.3h2.4v2.4h-2.4zM229.5 379.6h1.53v1.1h-1.53z" fill="#000"/>
<rect x="207.62" y="230.68" width="23.4" height="150.02" fill="none" stroke="#000" stroke-width="1.45"/>
<path d="M219.32 226.68 V234.68 M216.22 226.68 H222.42 M216.22 234.68 H222.42" stroke="#000" stroke-width="1.3" fill="none"/>
<rect x="231.03" y="330.39" width="23.4" height="50.31" fill="url(#brc)" stroke="#000" stroke-width="1.45"/>
<path d="M242.72 328.79 V331.99 M239.62 328.79 H245.82 M239.62 331.99 H245.82" stroke="#000" stroke-width="1.3" fill="none"/>
<path d="M28.2 219 V380.7 M23.7 380.7 H28.2 M23.7 362.73 H28.2 M23.7 344.77 H28.2 M23.7 326.8 H28.2 M23.7 308.83 H28.2 M23.7 290.87 H28.2 M23.7 272.9 H28.2 M23.7 254.93 H28.2 M23.7 236.97 H28.2 M23.7 219 H28.2 M27.9 380.7 H271.65 M28.2 380.7 V385.2 M109.15 380.7 V385.2 M190.4 380.7 V385.2 M271.65 380.7 V385.2" stroke="#7f7f7f" stroke-width="1.4" fill="none"/>
<text x="15.7" y="384.8" text-anchor="end" class="t">0</text>
<text x="15.7" y="366.83" text-anchor="end" class="t">1</text>
<text x="15.7" y="348.87" text-anchor="end" class="t">2</text>
<text x="15.7" y="330.9" text-anchor="end" class="t">3</text>
<text x="15.7" y="312.93" text-anchor="end" class="t">4</text>
<text x="15.7" y="294.97" text-anchor="end" class="t">5</text>
<text x="15.7" y="277" text-anchor="end" class="t">6</text>
<text x="15.7" y="259.03" text-anchor="end" class="t">7</text>
<text x="15.7" y="241.07" text-anchor="end" class="t">8</text>
<text x="15.7" y="223.1" text-anchor="end" class="t">9</text>
<text x="68.53" y="402" text-anchor="middle" class="t">0 dpi</text>
<text x="149.78" y="402" text-anchor="middle" class="t">3 dpi</text>
<text x="231.03" y="402" text-anchor="middle" class="t">10 dpi</text>
<rect x="292.75" y="293.75" width="7.1" height="7.1" fill="#111" stroke="#000" stroke-width="1.3"/>
<rect x="294.1" y="297.1" width="4" height="3" fill="#fff"/>
<rect x="292.75" y="317.65" width="7.1" height="7.1" fill="#fff" stroke="#000" stroke-width="1.3"/>
<path d="M294.6 319.5 L298.6 323.5" stroke="#000" stroke-width="1"/>
<text x="303.1" y="301.2" class="lg" textLength="13.4" lengthAdjust="spacingAndGlyphs">C4</text>
<text x="303.8" y="325.1" class="lg" textLength="6.0" lengthAdjust="spacingAndGlyphs">K</text>
<text transform="translate(61.69 246.38) scale(0.20697 0.21715)" class="L">c</text>
<rect x="340.5" y="204.7" width="343.7" height="209.3" fill="none" stroke="#000" stroke-width="1.4"/>
<rect x="385.3" y="362.73" width="25" height="17.97" fill="#fff"/>
<path d="M385.3 362.73h0.9v2.17h-0.9zM387.7 363.87h2.4v2.4h-2.4zM391.7 365.05h2.4v2.4h-2.4zM386.3 367.75h2.4v2.4h-2.4zM392.75 369.05h2.4v2.4h-2.4zM389.1 370.4h2.4v2.4h-2.4zM385.3 373.05h0.9v2.4h-0.9zM387.7 374.42h2.4v2.4h-2.4zM391.7 375.6h2.4v2.4h-2.4zM386.3 378.3h2.4v2.4h-2.4zM392.75 379.6h2.4v1.1h-2.4zM394.35 362.73h2.4v2.17h-2.4zM398.25 363.87h2.4v2.4h-2.4zM402.25 365.05h2.4v2.4h-2.4zM396.85 367.75h2.4v2.4h-2.4zM403.3 369.05h2.4v2.4h-2.4zM399.65 370.4h2.4v2.4h-2.4zM394.35 373.05h2.4v2.4h-2.4zM398.25 374.42h2.4v2.4h-2.4zM402.25 375.6h2.4v2.4h-2.4zM396.85 378.3h2.4v2.4h-2.4zM403.3 379.6h2.4v1.1h-2.4zM404.9 362.73h2.4v2.17h-2.4zM408.8 363.87h1.5v2.4h-1.5zM407.4 367.75h2.4v2.4h-2.4zM404.9 373.05h2.4v2.4h-2.4zM408.8 374.42h1.5v2.4h-1.5zM407.4 378.3h2.4v2.4h-2.4z" fill="#000"/>
<rect x="385.3" y="362.73" width="25" height="17.97" fill="none" stroke="#000" stroke-width="1.45"/>
<path d="M394.7 362.73 H400.9" stroke="#000" stroke-width="1.3" fill="none"/>
<rect x="410.3" y="362.73" width="25" height="17.97" fill="url(#brd)" stroke="#000" stroke-width="1.45"/>
<path d="M419.7 362.73 H425.9" stroke="#000" stroke-width="1.3" fill="none"/>
<rect x="471.5" y="320.15" width="25" height="60.55" fill="#fff"/>
<path d="M472.1 321.67h2.4v2.4h-2.4zM476.1 322.85h2.4v2.4h-2.4zM471.5 325.55h1.6v2.4h-1.6zM477.15 326.85h2.4v2.4h-2.4zM473.5 328.2h2.4v2.4h-2.4zM472.1 332.22h2.4v2.4h-2.4zM476.1 333.4h2.4v2.4h-2.4zM471.5 336.1h1.6v2.4h-1.6zM477.15 337.4h2.4v2.4h-2.4zM473.5 338.75h2.4v2.4h-2.4zM472.1 342.77h2.4v2.4h-2.4zM476.1 343.95h2.4v2.4h-2.4zM471.5 346.65h1.6v2.4h-1.6zM477.15 347.95h2.4v2.4h-2.4zM473.5 349.3h2.4v2.4h-2.4zM472.1 353.32h2.4v2.4h-2.4zM476.1 354.5h2.4v2.4h-2.4zM471.5 357.2h1.6v2.4h-1.6zM477.15 358.5h2.4v2.4h-2.4zM473.5 359.85h2.4v2.4h-2.4zM472.1 363.87h2.4v2.4h-2.4zM476.1 365.05h2.4v2.4h-2.4zM471.5 367.75h1.6v2.4h-1.6zM477.15 369.05h2.4v2.4h-2.4zM473.5 370.4h2.4v2.4h-2.4zM472.1 374.42h2.4v2.4h-2.4zM476.1 375.6h2.4v2.4h-2.4zM471.5 378.3h1.6v2.4h-1.6zM477.15 379.6h2.4v1.1h-2.4zM478.75 320.3h2.4v2.4h-2.4zM482.65 321.67h2.4v2.4h-2.4zM486.65 322.85h2.4v2.4h-2.4zM481.25 325.55h2.4v2.4h-2.4zM487.7 326.85h2.4v2.4h-2.4zM484.05 328.2h2.4v2.4h-2.4zM478.75 330.85h2.4v2.4h-2.4zM482.65 332.22h2.4v2.4h-2.4zM486.65 333.4h2.4v2.4h-2.4zM481.25 336.1h2.4v2.4h-2.4zM487.7 337.4h2.4v2.4h-2.4zM484.05 338.75h2.4v2.4h-2.4zM478.75 341.4h2.4v2.4h-2.4zM482.65 342.77h2.4v2.4h-2.4zM486.65 343.95h2.4v2.4h-2.4zM481.25 346.65h2.4v2.4h-2.4zM487.7 347.95h2.4v2.4h-2.4zM484.05 349.3h2.4v2.4h-2.4zM478.75 351.95h2.4v2.4h-2.4zM482.65 353.32h2.4v2.4h-2.4zM486.65 354.5h2.4v2.4h-2.4zM481.25 357.2h2.4v2.4h-2.4zM487.7 358.5h2.4v2.4h-2.4zM484.05 359.85h2.4v2.4h-2.4zM478.75 362.5h2.4v2.4h-2.4zM482.65 363.87h2.4v2.4h-2.4zM486.65 365.05h2.4v2.4h-2.4zM481.25 367.75h2.4v2.4h-2.4zM487.7 369.05h2.4v2.4h-2.4zM484.05 370.4h2.4v2.4h-2.4zM478.75 373.05h2.4v2.4h-2.4zM482.65 374.42h2.4v2.4h-2.4zM486.65 375.6h2.4v2.4h-2.4zM481.25 378.3h2.4v2.4h-2.4zM487.7 379.6h2.4v1.1h-2.4zM489.3 320.3h2.4v2.4h-2.4zM493.2 321.67h2.4v2.4h-2.4zM491.8 325.55h2.4v2.4h-2.4zM494.6 328.2h1.9v2.4h-1.9zM489.3 330.85h2.4v2.4h-2.4zM493.2 332.22h2.4v2.4h-2.4zM491.8 336.1h2.4v2.4h-2.4zM494.6 338.75h1.9v2.4h-1.9zM489.3 341.4h2.4v2.4h-2.4zM493.2 342.77h2.4v2.4h-2.4zM491.8 346.65h2.4v2.4h-2.4zM494.6 349.3h1.9v2.4h-1.9zM489.3 351.95h2.4v2.4h-2.4zM493.2 353.32h2.4v2.4h-2.4zM491.8 357.2h2.4v2.4h-2.4zM494.6 359.85h1.9v2.4h-1.9zM489.3 362.5h2.4v2.4h-2.4zM493.2 363.87h2.4v2.4h-2.4zM491.8 367.75h2.4v2.4h-2.4zM494.6 370.4h1.9v2.4h-1.9zM489.3 373.05h2.4v2.4h-2.4zM493.2 374.42h2.4v2.4h-2.4zM491.8 378.3h2.4v2.4h-2.4z" fill="#000"/>
<rect x="471.5" y="320.15" width="25" height="60.55" fill="none" stroke="#000" stroke-width="1.45"/>
<path d="M484 315.15 V325.15 M480.9 315.15 H487.1 M480.9 325.15 H487.1" stroke="#000" stroke-width="1.3" fill="none"/>
<rect x="496.5" y="260.5" width="25" height="120.2" fill="url(#brd)" stroke="#000" stroke-width="1.45"/>
<path d="M509 252.8 V268.2 M505.9 252.8 H512.1 M505.9 268.2 H512.1" stroke="#000" stroke-width="1.3" fill="none"/>
<rect x="557.7" y="240.2" width="25" height="140.5" fill="#fff"/>
<path d="M560.5 240.2h2.4v0.65h-2.4zM561.55 242.45h2.4v2.4h-2.4zM557.9 243.8h2.4v2.4h-2.4zM557.7 247.82h1.2v2.4h-1.2zM560.5 249h2.4v2.4h-2.4zM561.55 253h2.4v2.4h-2.4zM557.9 254.35h2.4v2.4h-2.4zM557.7 258.37h1.2v2.4h-1.2zM560.5 259.55h2.4v2.4h-2.4zM561.55 263.55h2.4v2.4h-2.4zM557.9 264.9h2.4v2.4h-2.4zM557.7 268.92h1.2v2.4h-1.2zM560.5 270.1h2.4v2.4h-2.4zM561.55 274.1h2.4v2.4h-2.4zM557.9 275.45h2.4v2.4h-2.4zM557.7 279.47h1.2v2.4h-1.2zM560.5 280.65h2.4v2.4h-2.4zM561.55 284.65h2.4v2.4h-2.4zM557.9 286h2.4v2.4h-2.4zM557.7 290.02h1.2v2.4h-1.2zM560.5 291.2h2.4v2.4h-2.4zM561.55 295.2h2.4v2.4h-2.4zM557.9 296.55h2.4v2.4h-2.4zM557.7 300.57h1.2v2.4h-1.2zM560.5 301.75h2.4v2.4h-2.4zM561.55 305.75h2.4v2.4h-2.4zM557.9 307.1h2.4v2.4h-2.4zM557.7 311.12h1.2v2.4h-1.2zM560.5 312.3h2.4v2.4h-2.4zM561.55 316.3h2.4v2.4h-2.4zM557.9 317.65h2.4v2.4h-2.4zM557.7 321.67h1.2v2.4h-1.2zM560.5 322.85h2.4v2.4h-2.4zM561.55 326.85h2.4v2.4h-2.4zM557.9 328.2h2.4v2.4h-2.4zM557.7 332.22h1.2v2.4h-1.2zM560.5 333.4h2.4v2.4h-2.4zM561.55 337.4h2.4v2.4h-2.4zM557.9 338.75h2.4v2.4h-2.4zM557.7 342.77h1.2v2.4h-1.2zM560.5 343.95h2.4v2.4h-2.4zM561.55 347.95h2.4v2.4h-2.4zM557.9 349.3h2.4v2.4h-2.4zM557.7 353.32h1.2v2.4h-1.2zM560.5 354.5h2.4v2.4h-2.4zM561.55 358.5h2.4v2.4h-2.4zM557.9 359.85h2.4v2.4h-2.4zM557.7 363.87h1.2v2.4h-1.2zM560.5 365.05h2.4v2.4h-2.4zM561.55 369.05h2.4v2.4h-2.4zM557.9 370.4h2.4v2.4h-2.4zM557.7 374.42h1.2v2.4h-1.2zM560.5 375.6h2.4v2.4h-2.4zM561.55 379.6h2.4v1.1h-2.4zM571.05 240.2h2.4v0.65h-2.4zM565.65 241.15h2.4v2.4h-2.4zM572.1 242.45h2.4v2.4h-2.4zM568.45 243.8h2.4v2.4h-2.4zM563.15 246.45h2.4v2.4h-2.4zM567.05 247.82h2.4v2.4h-2.4zM571.05 249h2.4v2.4h-2.4zM565.65 251.7h2.4v2.4h-2.4zM572.1 253h2.4v2.4h-2.4zM568.45 254.35h2.4v2.4h-2.4zM563.15 257h2.4v2.4h-2.4zM567.05 258.37h2.4v2.4h-2.4zM571.05 259.55h2.4v2.4h-2.4zM565.65 262.25h2.4v2.4h-2.4zM572.1 263.55h2.4v2.4h-2.4zM568.45 264.9h2.4v2.4h-2.4zM563.15 267.55h2.4v2.4h-2.4zM567.05 268.92h2.4v2.4h-2.4zM571.05 270.1h2.4v2.4h-2.4zM565.65 272.8h2.4v2.4h-2.4zM572.1 274.1h2.4v2.4h-2.4zM568.45 275.45h2.4v2.4h-2.4zM563.15 278.1h2.4v2.4h-2.4zM567.05 279.47h2.4v2.4h-2.4zM571.05 280.65h2.4v2.4h-2.4zM565.65 283.35h2.4v2.4h-2.4zM572.1 284.65h2.4v2.4h-2.4zM568.45 286h2.4v2.4h-2.4zM563.15 288.65h2.4v2.4h-2.4zM567.05 290.02h2.4v2.4h-2.4zM571.05 291.2h2.4v2.4h-2.4zM565.65 293.9h2.4v2.4h-2.4zM572.1 295.2h2.4v2.4h-2.4zM568.45 296.55h2.4v2.4h-2.4zM563.15 299.2h2.4v2.4h-2.4zM567.05 300.57h2.4v2.4h-2.4zM571.05 301.75h2.4v2.4h-2.4zM565.65 304.45h2.4v2.4h-2.4zM572.1 305.75h2.4v2.4h-2.4zM568.45 307.1h2.4v2.4h-2.4zM563.15 309.75h2.4v2.4h-2.4zM567.05 311.12h2.4v2.4h-2.4zM571.05 312.3h2.4v2.4h-2.4zM565.65 315h2.4v2.4h-2.4zM572.1 316.3h2.4v2.4h-2.4zM568.45 317.65h2.4v2.4h-2.4zM563.15 320.3h2.4v2.4h-2.4zM567.05 321.67h2.4v2.4h-2.4zM571.05 322.85h2.4v2.4h-2.4zM565.65 325.55h2.4v2.4h-2.4zM572.1 326.85h2.4v2.4h-2.4zM568.45 328.2h2.4v2.4h-2.4zM563.15 330.85h2.4v2.4h-2.4zM567.05 332.22h2.4v2.4h-2.4zM571.05 333.4h2.4v2.4h-2.4zM565.65 336.1h2.4v2.4h-2.4zM572.1 337.4h2.4v2.4h-2.4zM568.45 338.75h2.4v2.4h-2.4zM563.15 341.4h2.4v2.4h-2.4zM567.05 342.77h2.4v2.4h-2.4zM571.05 343.95h2.4v2.4h-2.4zM565.65 346.65h2.4v2.4h-2.4zM572.1 347.95h2.4v2.4h-2.4zM568.45 349.3h2.4v2.4h-2.4zM563.15 351.95h2.4v2.4h-2.4zM567.05 353.32h2.4v2.4h-2.4zM571.05 354.5h2.4v2.4h-2.4zM565.65 357.2h2.4v2.4h-2.4zM572.1 358.5h2.4v2.4h-2.4zM568.45 359.85h2.4v2.4h-2.4zM563.15 362.5h2.4v2.4h-2.4zM567.05 363.87h2.4v2.4h-2.4zM571.05 365.05h2.4v2.4h-2.4zM565.65 367.75h2.4v2.4h-2.4zM572.1 369.05h2.4v2.4h-2.4zM568.45 370.4h2.4v2.4h-2.4zM563.15 373.05h2.4v2.4h-2.4zM567.05 374.42h2.4v2.4h-2.4zM571.05 375.6h2.4v2.4h-2.4zM565.65 378.3h2.4v2.4h-2.4zM572.1 379.6h2.4v1.1h-2.4zM581.6 240.2h1.1v0.65h-1.1zM576.2 241.15h2.4v2.4h-2.4zM579 243.8h2.4v2.4h-2.4zM573.7 246.45h2.4v2.4h-2.4zM577.6 247.82h2.4v2.4h-2.4zM581.6 249h1.1v2.4h-1.1zM576.2 251.7h2.4v2.4h-2.4zM579 254.35h2.4v2.4h-2.4zM573.7 257h2.4v2.4h-2.4zM577.6 258.37h2.4v2.4h-2.4zM581.6 259.55h1.1v2.4h-1.1zM576.2 262.25h2.4v2.4h-2.4zM579 264.9h2.4v2.4h-2.4zM573.7 267.55h2.4v2.4h-2.4zM577.6 268.92h2.4v2.4h-2.4zM581.6 270.1h1.1v2.4h-1.1zM576.2 272.8h2.4v2.4h-2.4zM579 275.45h2.4v2.4h-2.4zM573.7 278.1h2.4v2.4h-2.4zM577.6 279.47h2.4v2.4h-2.4zM581.6 280.65h1.1v2.4h-1.1zM576.2 283.35h2.4v2.4h-2.4zM579 286h2.4v2.4h-2.4zM573.7 288.65h2.4v2.4h-2.4zM577.6 290.02h2.4v2.4h-2.4zM581.6 291.2h1.1v2.4h-1.1zM576.2 293.9h2.4v2.4h-2.4zM579 296.55h2.4v2.4h-2.4zM573.7 299.2h2.4v2.4h-2.4zM577.6 300.57h2.4v2.4h-2.4zM581.6 301.75h1.1v2.4h-1.1zM576.2 304.45h2.4v2.4h-2.4zM579 307.1h2.4v2.4h-2.4zM573.7 309.75h2.4v2.4h-2.4zM577.6 311.12h2.4v2.4h-2.4zM581.6 312.3h1.1v2.4h-1.1zM576.2 315h2.4v2.4h-2.4zM579 317.65h2.4v2.4h-2.4zM573.7 320.3h2.4v2.4h-2.4zM577.6 321.67h2.4v2.4h-2.4zM581.6 322.85h1.1v2.4h-1.1zM576.2 325.55h2.4v2.4h-2.4zM579 328.2h2.4v2.4h-2.4zM573.7 330.85h2.4v2.4h-2.4zM577.6 332.22h2.4v2.4h-2.4zM581.6 333.4h1.1v2.4h-1.1zM576.2 336.1h2.4v2.4h-2.4zM579 338.75h2.4v2.4h-2.4zM573.7 341.4h2.4v2.4h-2.4zM577.6 342.77h2.4v2.4h-2.4zM581.6 343.95h1.1v2.4h-1.1zM576.2 346.65h2.4v2.4h-2.4zM579 349.3h2.4v2.4h-2.4zM573.7 351.95h2.4v2.4h-2.4zM577.6 353.32h2.4v2.4h-2.4zM581.6 354.5h1.1v2.4h-1.1zM576.2 357.2h2.4v2.4h-2.4zM579 359.85h2.4v2.4h-2.4zM573.7 362.5h2.4v2.4h-2.4zM577.6 363.87h2.4v2.4h-2.4zM581.6 365.05h1.1v2.4h-1.1zM576.2 367.75h2.4v2.4h-2.4zM579 370.4h2.4v2.4h-2.4zM573.7 373.05h2.4v2.4h-2.4zM577.6 374.42h2.4v2.4h-2.4zM581.6 375.6h1.1v2.4h-1.1zM576.2 378.3h2.4v2.4h-2.4z" fill="#000"/>
<rect x="557.7" y="240.2" width="25" height="140.5" fill="none" stroke="#000" stroke-width="1.45"/>
<path d="M570.2 236.5 V243.9 M567.1 236.5 H573.3 M567.1 243.9 H573.3" stroke="#000" stroke-width="1.3" fill="none"/>
<rect x="582.7" y="306.5" width="25" height="74.2" fill="url(#brd)" stroke="#000" stroke-width="1.45"/>
<path d="M595.2 304.7 V308.3 M592.1 304.7 H598.3 M592.1 308.3 H598.3" stroke="#000" stroke-width="1.3" fill="none"/>
<path d="M367.2 219 V380.7 M362.7 380.7 H367.2 M362.7 362.73 H367.2 M362.7 344.77 H367.2 M362.7 326.8 H367.2 M362.7 308.83 H367.2 M362.7 290.87 H367.2 M362.7 272.9 H367.2 M362.7 254.93 H367.2 M362.7 236.97 H367.2 M362.7 219 H367.2 M367.2 380.7 H625.8 M367.2 380.7 V385.2 M453.4 380.7 V385.2 M539.6 380.7 V385.2 M625.8 380.7 V385.2" stroke="#7f7f7f" stroke-width="1.4" fill="none"/>
<text x="354.7" y="384.8" text-anchor="end" class="t">0</text>
<text x="354.7" y="366.83" text-anchor="end" class="t">1</text>
<text x="354.7" y="348.87" text-anchor="end" class="t">2</text>
<text x="354.7" y="330.9" text-anchor="end" class="t">3</text>
<text x="354.7" y="312.93" text-anchor="end" class="t">4</text>
<text x="354.7" y="294.97" text-anchor="end" class="t">5</text>
<text x="354.7" y="277" text-anchor="end" class="t">6</text>
<text x="354.7" y="259.03" text-anchor="end" class="t">7</text>
<text x="354.7" y="241.07" text-anchor="end" class="t">8</text>
<text x="354.7" y="223.1" text-anchor="end" class="t">9</text>
<text x="410.3" y="402" text-anchor="middle" class="t">0 dpi</text>
<text x="496.5" y="402" text-anchor="middle" class="t">3 dpi</text>
<text x="582.7" y="402" text-anchor="middle" class="t">10 dpi</text>
<rect x="646.95" y="293.95" width="7.1" height="7.1" fill="#111" stroke="#000" stroke-width="1.3"/>
<rect x="648.3" y="297.3" width="4" height="3" fill="#fff"/>
<rect x="646.95" y="317.85" width="7.1" height="7.1" fill="#fff" stroke="#000" stroke-width="1.3"/>
<path d="M648.8 319.7 L652.8 323.7" stroke="#000" stroke-width="1"/>
<text x="657.3" y="301.4" class="lg" textLength="13.4" lengthAdjust="spacingAndGlyphs">C4</text>
<text x="658" y="325.3" class="lg" textLength="6.0" lengthAdjust="spacingAndGlyphs">K</text>
<text transform="translate(395.19 243.85) scale(0.24603 0.25170)" class="L">d</text>
<rect x="0.5" y="421.5" width="329.5" height="209.4" fill="none" stroke="#000" stroke-width="1.4"/>
<rect x="45.13" y="579.71" width="23.4" height="17.99" fill="#fff"/>
<path d="M45.13 579.71h0.87v1.84h-0.87zM50.05 580.45h2.4v2.4h-2.4zM46.4 581.8h2.4v2.4h-2.4zM45.13 585.82h2.27v2.4h-2.27zM49 587h2.4v2.4h-2.4zM45.13 589.7h0.87v2.4h-0.87zM50.05 591h2.4v2.4h-2.4zM46.4 592.35h2.4v2.4h-2.4zM45.13 596.37h2.27v1.33h-2.27zM54.15 579.71h2.4v1.84h-2.4zM60.6 580.45h2.4v2.4h-2.4zM56.95 581.8h2.4v2.4h-2.4zM51.65 584.45h2.4v2.4h-2.4zM55.55 585.82h2.4v2.4h-2.4zM59.55 587h2.4v2.4h-2.4zM54.15 589.7h2.4v2.4h-2.4zM60.6 591h2.4v2.4h-2.4zM56.95 592.35h2.4v2.4h-2.4zM51.65 595h2.4v2.4h-2.4zM55.55 596.37h2.4v1.33h-2.4zM64.7 579.71h2.4v1.84h-2.4zM67.5 581.8h1.03v2.4h-1.03zM62.2 584.45h2.4v2.4h-2.4zM66.1 585.82h2.4v2.4h-2.4zM64.7 589.7h2.4v2.4h-2.4zM67.5 592.35h1.03v2.4h-1.03zM62.2 595h2.4v2.4h-2.4zM66.1 596.37h2.4v1.33h-2.4z" fill="#000"/>
<rect x="45.13" y="579.71" width="23.4" height="17.99" fill="none" stroke="#000" stroke-width="1.45"/>
<path d="M53.73 579.71 H59.93" stroke="#000" stroke-width="1.3" fill="none"/>
<rect x="68.53" y="579.71" width="23.4" height="17.99" fill="url(#bre)" stroke="#000" stroke-width="1.45"/>
<path d="M77.13 579.71 H83.33" stroke="#000" stroke-width="1.3" fill="none"/>
<rect x="126.38" y="492.47" width="23.4" height="105.24" fill="#fff"/>
<path d="M129.4 492.47h2.4v0.8h-2.4zM133.4 492.47h2.4v1.98h-2.4zM128 494.75h2.4v2.4h-2.4zM134.45 496.05h2.4v2.4h-2.4zM130.8 497.4h2.4v2.4h-2.4zM126.38 500.05h1.53v2.4h-1.53zM129.4 501.42h2.4v2.4h-2.4zM133.4 502.6h2.4v2.4h-2.4zM128 505.3h2.4v2.4h-2.4zM134.45 506.6h2.4v2.4h-2.4zM130.8 507.95h2.4v2.4h-2.4zM126.38 510.6h1.53v2.4h-1.53zM129.4 511.97h2.4v2.4h-2.4zM133.4 513.15h2.4v2.4h-2.4zM128 515.85h2.4v2.4h-2.4zM134.45 517.15h2.4v2.4h-2.4zM130.8 518.5h2.4v2.4h-2.4zM126.38 521.15h1.53v2.4h-1.53zM129.4 522.52h2.4v2.4h-2.4zM133.4 523.7h2.4v2.4h-2.4zM128 526.4h2.4v2.4h-2.4zM134.45 527.7h2.4v2.4h-2.4zM130.8 529.05h2.4v2.4h-2.4zM126.38 531.7h1.53v2.4h-1.53zM129.4 533.07h2.4v2.4h-2.4zM133.4 534.25h2.4v2.4h-2.4zM128 536.95h2.4v2.4h-2.4zM134.45 538.25h2.4v2.4h-2.4zM130.8 539.6h2.4v2.4h-2.4zM126.38 542.25h1.53v2.4h-1.53zM129.4 543.62h2.4v2.4h-2.4zM133.4 544.8h2.4v2.4h-2.4zM128 547.5h2.4v2.4h-2.4zM134.45 548.8h2.4v2.4h-2.4zM130.8 550.15h2.4v2.4h-2.4zM126.38 552.8h1.53v2.4h-1.53zM129.4 554.17h2.4v2.4h-2.4zM133.4 555.35h2.4v2.4h-2.4zM128 558.05h2.4v2.4h-2.4zM134.45 559.35h2.4v2.4h-2.4zM130.8 560.7h2.4v2.4h-2.4zM126.38 563.35h1.53v2.4h-1.53zM129.4 564.72h2.4v2.4h-2.4zM133.4 565.9h2.4v2.4h-2.4zM128 568.6h2.4v2.4h-2.4zM134.45 569.9h2.4v2.4h-2.4zM130.8 571.25h2.4v2.4h-2.4zM126.38 573.9h1.53v2.4h-1.53zM129.4 575.27h2.4v2.4h-2.4zM133.4 576.45h2.4v2.4h-2.4zM128 579.15h2.4v2.4h-2.4zM134.45 580.45h2.4v2.4h-2.4zM130.8 581.8h2.4v2.4h-2.4zM126.38 584.45h1.53v2.4h-1.53zM129.4 585.82h2.4v2.4h-2.4zM133.4 587h2.4v2.4h-2.4zM128 589.7h2.4v2.4h-2.4zM134.45 591h2.4v2.4h-2.4zM130.8 592.35h2.4v2.4h-2.4zM126.38 595h1.53v2.4h-1.53zM129.4 596.37h2.4v1.33h-2.4zM139.95 492.47h2.4v0.8h-2.4zM143.95 492.47h2.4v1.98h-2.4zM138.55 494.75h2.4v2.4h-2.4zM145 496.05h2.4v2.4h-2.4zM141.35 497.4h2.4v2.4h-2.4zM136.05 500.05h2.4v2.4h-2.4zM139.95 501.42h2.4v2.4h-2.4zM143.95 502.6h2.4v2.4h-2.4zM138.55 505.3h2.4v2.4h-2.4zM145 506.6h2.4v2.4h-2.4zM141.35 507.95h2.4v2.4h-2.4zM136.05 510.6h2.4v2.4h-2.4zM139.95 511.97h2.4v2.4h-2.4zM143.95 513.15h2.4v2.4h-2.4zM138.55 515.85h2.4v2.4h-2.4zM145 517.15h2.4v2.4h-2.4zM141.35 518.5h2.4v2.4h-2.4zM136.05 521.15h2.4v2.4h-2.4zM139.95 522.52h2.4v2.4h-2.4zM143.95 523.7h2.4v2.4h-2.4zM138.55 526.4h2.4v2.4h-2.4zM145 527.7h2.4v2.4h-2.4zM141.35 529.05h2.4v2.4h-2.4zM136.05 531.7h2.4v2.4h-2.4zM139.95 533.07h2.4v2.4h-2.4zM143.95 534.25h2.4v2.4h-2.4zM138.55 536.95h2.4v2.4h-2.4zM145 538.25h2.4v2.4h-2.4zM141.35 539.6h2.4v2.4h-2.4zM136.05 542.25h2.4v2.4h-2.4zM139.95 543.62h2.4v2.4h-2.4zM143.95 544.8h2.4v2.4h-2.4zM138.55 547.5h2.4v2.4h-2.4zM145 548.8h2.4v2.4h-2.4zM141.35 550.15h2.4v2.4h-2.4zM136.05 552.8h2.4v2.4h-2.4zM139.95 554.17h2.4v2.4h-2.4zM143.95 555.35h2.4v2.4h-2.4zM138.55 558.05h2.4v2.4h-2.4zM145 559.35h2.4v2.4h-2.4zM141.35 560.7h2.4v2.4h-2.4zM136.05 563.35h2.4v2.4h-2.4zM139.95 564.72h2.4v2.4h-2.4zM143.95 565.9h2.4v2.4h-2.4zM138.55 568.6h2.4v2.4h-2.4zM145 569.9h2.4v2.4h-2.4zM141.35 571.25h2.4v2.4h-2.4zM136.05 573.9h2.4v2.4h-2.4zM139.95 575.27h2.4v2.4h-2.4zM143.95 576.45h2.4v2.4h-2.4zM138.55 579.15h2.4v2.4h-2.4zM145 580.45h2.4v2.4h-2.4zM141.35 581.8h2.4v2.4h-2.4zM136.05 584.45h2.4v2.4h-2.4zM139.95 585.82h2.4v2.4h-2.4zM143.95 587h2.4v2.4h-2.4zM138.55 589.7h2.4v2.4h-2.4zM145 591h2.4v2.4h-2.4zM141.35 592.35h2.4v2.4h-2.4zM136.05 595h2.4v2.4h-2.4zM139.95 596.37h2.4v1.33h-2.4zM149.1 494.75h0.67v2.4h-0.67zM146.6 500.05h2.4v2.4h-2.4zM149.1 505.3h0.67v2.4h-0.67zM146.6 510.6h2.4v2.4h-2.4zM149.1 515.85h0.67v2.4h-0.67zM146.6 521.15h2.4v2.4h-2.4zM149.1 526.4h0.67v2.4h-0.67zM146.6 531.7h2.4v2.4h-2.4zM149.1 536.95h0.67v2.4h-0.67zM146.6 542.25h2.4v2.4h-2.4zM149.1 547.5h0.67v2.4h-0.67zM146.6 552.8h2.4v2.4h-2.4zM149.1 558.05h0.67v2.4h-0.67zM146.6 563.35h2.4v2.4h-2.4zM149.1 568.6h0.67v2.4h-0.67zM146.6 573.9h2.4v2.4h-2.4zM149.1 579.15h0.67v2.4h-0.67zM146.6 584.45h2.4v2.4h-2.4zM149.1 589.7h0.67v2.4h-0.67zM146.6 595h2.4v2.4h-2.4z" fill="#000"/>
<rect x="126.38" y="492.47" width="23.4" height="105.24" fill="none" stroke="#000" stroke-width="1.45"/>
<path d="M138.07 486.87 V498.07 M134.97 486.87 H141.17 M134.97 498.07 H141.17" stroke="#000" stroke-width="1.3" fill="none"/>
<rect x="149.78" y="466.2" width="23.4" height="131.5" fill="url(#bre)" stroke="#000" stroke-width="1.45"/>
<path d="M161.47 458.5 V473.9 M158.38 458.5 H164.57 M158.38 473.9 H164.57" stroke="#000" stroke-width="1.3" fill="none"/>
<rect x="207.62" y="502.9" width="23.4" height="94.8" fill="#fff"/>
<path d="M207.62 502.9h2.03v2.1h-2.03zM208.3 506.6h2.4v2.4h-2.4zM207.62 513.15h2.03v2.4h-2.03zM208.3 517.15h2.4v2.4h-2.4zM207.62 523.7h2.03v2.4h-2.03zM208.3 527.7h2.4v2.4h-2.4zM207.62 534.25h2.03v2.4h-2.03zM208.3 538.25h2.4v2.4h-2.4zM207.62 544.8h2.03v2.4h-2.03zM208.3 548.8h2.4v2.4h-2.4zM207.62 555.35h2.03v2.4h-2.03zM208.3 559.35h2.4v2.4h-2.4zM207.62 565.9h2.03v2.4h-2.03zM208.3 569.9h2.4v2.4h-2.4zM207.62 576.45h2.03v2.4h-2.03zM208.3 580.45h2.4v2.4h-2.4zM207.62 587h2.03v2.4h-2.03zM208.3 591h2.4v2.4h-2.4zM213.8 502.9h2.4v0.92h-2.4zM217.8 502.9h2.4v2.1h-2.4zM212.4 505.3h2.4v2.4h-2.4zM218.85 506.6h2.4v2.4h-2.4zM215.2 507.95h2.4v2.4h-2.4zM209.9 510.6h2.4v2.4h-2.4zM213.8 511.97h2.4v2.4h-2.4zM217.8 513.15h2.4v2.4h-2.4zM212.4 515.85h2.4v2.4h-2.4zM218.85 517.15h2.4v2.4h-2.4zM215.2 518.5h2.4v2.4h-2.4zM209.9 521.15h2.4v2.4h-2.4zM213.8 522.52h2.4v2.4h-2.4zM217.8 523.7h2.4v2.4h-2.4zM212.4 526.4h2.4v2.4h-2.4zM218.85 527.7h2.4v2.4h-2.4zM215.2 529.05h2.4v2.4h-2.4zM209.9 531.7h2.4v2.4h-2.4zM213.8 533.07h2.4v2.4h-2.4zM217.8 534.25h2.4v2.4h-2.4zM212.4 536.95h2.4v2.4h-2.4zM218.85 538.25h2.4v2.4h-2.4zM215.2 539.6h2.4v2.4h-2.4zM209.9 542.25h2.4v2.4h-2.4zM213.8 543.62h2.4v2.4h-2.4zM217.8 544.8h2.4v2.4h-2.4zM212.4 547.5h2.4v2.4h-2.4zM218.85 548.8h2.4v2.4h-2.4zM215.2 550.15h2.4v2.4h-2.4zM209.9 552.8h2.4v2.4h-2.4zM213.8 554.17h2.4v2.4h-2.4zM217.8 555.35h2.4v2.4h-2.4zM212.4 558.05h2.4v2.4h-2.4zM218.85 559.35h2.4v2.4h-2.4zM215.2 560.7h2.4v2.4h-2.4zM209.9 563.35h2.4v2.4h-2.4zM213.8 564.72h2.4v2.4h-2.4zM217.8 565.9h2.4v2.4h-2.4zM212.4 568.6h2.4v2.4h-2.4zM218.85 569.9h2.4v2.4h-2.4zM215.2 571.25h2.4v2.4h-2.4zM209.9 573.9h2.4v2.4h-2.4zM213.8 575.27h2.4v2.4h-2.4zM217.8 576.45h2.4v2.4h-2.4zM212.4 579.15h2.4v2.4h-2.4zM218.85 580.45h2.4v2.4h-2.4zM215.2 581.8h2.4v2.4h-2.4zM209.9 584.45h2.4v2.4h-2.4zM213.8 585.82h2.4v2.4h-2.4zM217.8 587h2.4v2.4h-2.4zM212.4 589.7h2.4v2.4h-2.4zM218.85 591h2.4v2.4h-2.4zM215.2 592.35h2.4v2.4h-2.4zM209.9 595h2.4v2.4h-2.4zM213.8 596.37h2.4v1.33h-2.4zM224.35 502.9h2.4v0.92h-2.4zM228.35 502.9h2.4v2.1h-2.4zM222.95 505.3h2.4v2.4h-2.4zM229.4 506.6h1.62v2.4h-1.62zM225.75 507.95h2.4v2.4h-2.4zM220.45 510.6h2.4v2.4h-2.4zM224.35 511.97h2.4v2.4h-2.4zM228.35 513.15h2.4v2.4h-2.4zM222.95 515.85h2.4v2.4h-2.4zM229.4 517.15h1.62v2.4h-1.62zM225.75 518.5h2.4v2.4h-2.4zM220.45 521.15h2.4v2.4h-2.4zM224.35 522.52h2.4v2.4h-2.4zM228.35 523.7h2.4v2.4h-2.4zM222.95 526.4h2.4v2.4h-2.4zM229.4 527.7h1.62v2.4h-1.62zM225.75 529.05h2.4v2.4h-2.4zM220.45 531.7h2.4v2.4h-2.4zM224.35 533.07h2.4v2.4h-2.4zM228.35 534.25h2.4v2.4h-2.4zM222.95 536.95h2.4v2.4h-2.4zM229.4 538.25h1.62v2.4h-1.62zM225.75 539.6h2.4v2.4h-2.4zM220.45 542.25h2.4v2.4h-2.4zM224.35 543.62h2.4v2.4h-2.4zM228.35 544.8h2.4v2.4h-2.4zM222.95 547.5h2.4v2.4h-2.4zM229.4 548.8h1.62v2.4h-1.62zM225.75 550.15h2.4v2.4h-2.4zM220.45 552.8h2.4v2.4h-2.4zM224.35 554.17h2.4v2.4h-2.4zM228.35 555.35h2.4v2.4h-2.4zM222.95 558.05h2.4v2.4h-2.4zM229.4 559.35h1.62v2.4h-1.62zM225.75 560.7h2.4v2.4h-2.4zM220.45 563.35h2.4v2.4h-2.4zM224.35 564.72h2.4v2.4h-2.4zM228.35 565.9h2.4v2.4h-2.4zM222.95 568.6h2.4v2.4h-2.4zM229.4 569.9h1.62v2.4h-1.62zM225.75 571.25h2.4v2.4h-2.4zM220.45 573.9h2.4v2.4h-2.4zM224.35 575.27h2.4v2.4h-2.4zM228.35 576.45h2.4v2.4h-2.4zM222.95 579.15h2.4v2.4h-2.4zM229.4 580.45h1.62v2.4h-1.62zM225.75 581.8h2.4v2.4h-2.4zM220.45 584.45h2.4v2.4h-2.4zM224.35 585.82h2.4v2.4h-2.4zM228.35 587h2.4v2.4h-2.4zM222.95 589.7h2.4v2.4h-2.4zM229.4 591h1.62v2.4h-1.62zM225.75 592.35h2.4v2.4h-2.4zM220.45 595h2.4v2.4h-2.4zM224.35 596.37h2.4v1.33h-2.4z" fill="#000"/>
<rect x="207.62" y="502.9" width="23.4" height="94.8" fill="none" stroke="#000" stroke-width="1.45"/>
<path d="M219.32 498.9 V506.9 M216.22 498.9 H222.42 M216.22 506.9 H222.42" stroke="#000" stroke-width="1.3" fill="none"/>
<rect x="231.03" y="525.74" width="23.4" height="71.96" fill="url(#bre)" stroke="#000" stroke-width="1.45"/>
<path d="M242.72 523.84 V527.64 M239.62 523.84 H245.82 M239.62 527.64 H245.82" stroke="#000" stroke-width="1.3" fill="none"/>
<path d="M28.2 435.8 V597.7 M23.7 597.7 H28.2 M23.7 579.71 H28.2 M23.7 561.72 H28.2 M23.7 543.73 H28.2 M23.7 525.74 H28.2 M23.7 507.76 H28.2 M23.7 489.77 H28.2 M23.7 471.78 H28.2 M23.7 453.79 H28.2 M23.7 435.8 H28.2 M27.9 597.7 H271.65 M28.2 597.7 V602.2 M109.15 597.7 V602.2 M190.4 597.7 V602.2 M271.65 597.7 V602.2" stroke="#7f7f7f" stroke-width="1.4" fill="none"/>
<text x="15.7" y="601.8" text-anchor="end" class="t">0</text>
<text x="15.7" y="583.81" text-anchor="end" class="t">1</text>
<text x="15.7" y="565.82" text-anchor="end" class="t">2</text>
<text x="15.7" y="547.83" text-anchor="end" class="t">3</text>
<text x="15.7" y="529.84" text-anchor="end" class="t">4</text>
<text x="15.7" y="511.86" text-anchor="end" class="t">5</text>
<text x="15.7" y="493.87" text-anchor="end" class="t">6</text>
<text x="15.7" y="475.88" text-anchor="end" class="t">7</text>
<text x="15.7" y="457.89" text-anchor="end" class="t">8</text>
<text x="15.7" y="439.9" text-anchor="end" class="t">9</text>
<text x="68.53" y="619" text-anchor="middle" class="t">0 dpi</text>
<text x="149.78" y="619" text-anchor="middle" class="t">3 dpi</text>
<text x="231.03" y="619" text-anchor="middle" class="t">10 dpi</text>
<rect x="292.75" y="510.75" width="7.1" height="7.1" fill="#111" stroke="#000" stroke-width="1.3"/>
<rect x="294.1" y="514.1" width="4" height="3" fill="#fff"/>
<rect x="292.75" y="534.45" width="7.1" height="7.1" fill="#fff" stroke="#000" stroke-width="1.3"/>
<path d="M295.6 540.8 L299.1 537.3" stroke="#000" stroke-width="1"/>
<text x="303.1" y="518.2" class="lg" textLength="13.4" lengthAdjust="spacingAndGlyphs">C4</text>
<text x="303.8" y="541.9" class="lg" textLength="6.0" lengthAdjust="spacingAndGlyphs">K</text>
<text transform="translate(51.34 462.36) scale(0.24638 0.24453)" class="L">e</text>
<rect x="340.5" y="421.3" width="343.7" height="209.6" fill="none" stroke="#000" stroke-width="1.4"/>
<rect x="392.8" y="585.76" width="25" height="11.54" fill="#fff"/>
<path d="M392.8 587h1.2v2.4h-1.2zM392.8 591h2.25v2.4h-2.25zM394.25 585.76h2.4v1.09h-2.4zM398.15 585.82h2.4v2.4h-2.4zM402.15 587h2.4v2.4h-2.4zM396.75 589.7h2.4v2.4h-2.4zM403.2 591h2.4v2.4h-2.4zM399.55 592.35h2.4v2.4h-2.4zM394.25 595h2.4v2.3h-2.4zM398.15 596.37h2.4v0.93h-2.4zM404.8 585.76h2.4v1.09h-2.4zM408.7 585.82h2.4v2.4h-2.4zM412.7 587h2.4v2.4h-2.4zM407.3 589.7h2.4v2.4h-2.4zM413.75 591h2.4v2.4h-2.4zM410.1 592.35h2.4v2.4h-2.4zM404.8 595h2.4v2.3h-2.4zM408.7 596.37h2.4v0.93h-2.4zM415.35 585.76h2.4v1.09h-2.4zM415.35 595h2.4v2.3h-2.4z" fill="#000"/>
<rect x="392.8" y="585.76" width="25" height="11.54" fill="none" stroke="#000" stroke-width="1.45"/>
<path d="M402.2 585.76 H408.4" stroke="#000" stroke-width="1.3" fill="none"/>
<rect x="417.8" y="585.76" width="25" height="11.54" fill="url(#brf)" stroke="#000" stroke-width="1.45"/>
<path d="M427.2 585.76 H433.4" stroke="#000" stroke-width="1.3" fill="none"/>
<rect x="479" y="459.22" width="25" height="138.08" fill="#fff"/>
<path d="M479 464.4h0.45v2.4h-0.45zM479 474.95h0.45v2.4h-0.45zM479 485.5h0.45v2.4h-0.45zM479 496.05h0.45v2.4h-0.45zM479 506.6h0.45v2.4h-0.45zM479 517.15h0.45v2.4h-0.45zM479 527.7h0.45v2.4h-0.45zM479 538.25h0.45v2.4h-0.45zM479 548.8h0.45v2.4h-0.45zM479 559.35h0.45v2.4h-0.45zM479 569.9h0.45v2.4h-0.45zM479 580.45h0.45v2.4h-0.45zM479 591h0.45v2.4h-0.45zM479 459.22h2.05v1.03h-2.05zM482.55 459.22h2.4v2.4h-2.4zM486.55 460.4h2.4v2.4h-2.4zM481.15 463.1h2.4v2.4h-2.4zM487.6 464.4h2.4v2.4h-2.4zM483.95 465.75h2.4v2.4h-2.4zM479 468.4h2.05v2.4h-2.05zM482.55 469.77h2.4v2.4h-2.4zM486.55 470.95h2.4v2.4h-2.4zM481.15 473.65h2.4v2.4h-2.4zM487.6 474.95h2.4v2.4h-2.4zM483.95 476.3h2.4v2.4h-2.4zM479 478.95h2.05v2.4h-2.05zM482.55 480.32h2.4v2.4h-2.4zM486.55 481.5h2.4v2.4h-2.4zM481.15 484.2h2.4v2.4h-2.4zM487.6 485.5h2.4v2.4h-2.4zM483.95 486.85h2.4v2.4h-2.4zM479 489.5h2.05v2.4h-2.05zM482.55 490.87h2.4v2.4h-2.4zM486.55 492.05h2.4v2.4h-2.4zM481.15 494.75h2.4v2.4h-2.4zM487.6 496.05h2.4v2.4h-2.4zM483.95 497.4h2.4v2.4h-2.4zM479 500.05h2.05v2.4h-2.05zM482.55 501.42h2.4v2.4h-2.4zM486.55 502.6h2.4v2.4h-2.4zM481.15 505.3h2.4v2.4h-2.4zM487.6 506.6h2.4v2.4h-2.4zM483.95 507.95h2.4v2.4h-2.4zM479 510.6h2.05v2.4h-2.05zM482.55 511.97h2.4v2.4h-2.4zM486.55 513.15h2.4v2.4h-2.4zM481.15 515.85h2.4v2.4h-2.4zM487.6 517.15h2.4v2.4h-2.4zM483.95 518.5h2.4v2.4h-2.4zM479 521.15h2.05v2.4h-2.05zM482.55 522.52h2.4v2.4h-2.4zM486.55 523.7h2.4v2.4h-2.4zM481.15 526.4h2.4v2.4h-2.4zM487.6 527.7h2.4v2.4h-2.4zM483.95 529.05h2.4v2.4h-2.4zM479 531.7h2.05v2.4h-2.05zM482.55 533.07h2.4v2.4h-2.4zM486.55 534.25h2.4v2.4h-2.4zM481.15 536.95h2.4v2.4h-2.4zM487.6 538.25h2.4v2.4h-2.4zM483.95 539.6h2.4v2.4h-2.4zM479 542.25h2.05v2.4h-2.05zM482.55 543.62h2.4v2.4h-2.4zM486.55 544.8h2.4v2.4h-2.4zM481.15 547.5h2.4v2.4h-2.4zM487.6 548.8h2.4v2.4h-2.4zM483.95 550.15h2.4v2.4h-2.4zM479 552.8h2.05v2.4h-2.05zM482.55 554.17h2.4v2.4h-2.4zM486.55 555.35h2.4v2.4h-2.4zM481.15 558.05h2.4v2.4h-2.4zM487.6 559.35h2.4v2.4h-2.4zM483.95 560.7h2.4v2.4h-2.4zM479 563.35h2.05v2.4h-2.05zM482.55 564.72h2.4v2.4h-2.4zM486.55 565.9h2.4v2.4h-2.4zM481.15 568.6h2.4v2.4h-2.4zM487.6 569.9h2.4v2.4h-2.4zM483.95 571.25h2.4v2.4h-2.4zM479 573.9h2.05v2.4h-2.05zM482.55 575.27h2.4v2.4h-2.4zM486.55 576.45h2.4v2.4h-2.4zM481.15 579.15h2.4v2.4h-2.4zM487.6 580.45h2.4v2.4h-2.4zM483.95 581.8h2.4v2.4h-2.4zM479 584.45h2.05v2.4h-2.05zM482.55 585.82h2.4v2.4h-2.4zM486.55 587h2.4v2.4h-2.4zM481.15 589.7h2.4v2.4h-2.4zM487.6 591h2.4v2.4h-2.4zM483.95 592.35h2.4v2.4h-2.4zM479 595h2.05v2.3h-2.05zM482.55 596.37h2.4v0.93h-2.4zM489.2 459.22h2.4v1.03h-2.4zM493.1 459.22h2.4v2.4h-2.4zM497.1 460.4h2.4v2.4h-2.4zM491.7 463.1h2.4v2.4h-2.4zM498.15 464.4h2.4v2.4h-2.4zM494.5 465.75h2.4v2.4h-2.4zM489.2 468.4h2.4v2.4h-2.4zM493.1 469.77h2.4v2.4h-2.4zM497.1 470.95h2.4v2.4h-2.4zM491.7 473.65h2.4v2.4h-2.4zM498.15 474.95h2.4v2.4h-2.4zM494.5 476.3h2.4v2.4h-2.4zM489.2 478.95h2.4v2.4h-2.4zM493.1 480.32h2.4v2.4h-2.4zM497.1 481.5h2.4v2.4h-2.4zM491.7 484.2h2.4v2.4h-2.4zM498.15 485.5h2.4v2.4h-2.4zM494.5 486.85h2.4v2.4h-2.4zM489.2 489.5h2.4v2.4h-2.4zM493.1 490.87h2.4v2.4h-2.4zM497.1 492.05h2.4v2.4h-2.4zM491.7 494.75h2.4v2.4h-2.4zM498.15 496.05h2.4v2.4h-2.4zM494.5 497.4h2.4v2.4h-2.4zM489.2 500.05h2.4v2.4h-2.4zM493.1 501.42h2.4v2.4h-2.4zM497.1 502.6h2.4v2.4h-2.4zM491.7 505.3h2.4v2.4h-2.4zM498.15 506.6h2.4v2.4h-2.4zM494.5 507.95h2.4v2.4h-2.4zM489.2 510.6h2.4v2.4h-2.4zM493.1 511.97h2.4v2.4h-2.4zM497.1 513.15h2.4v2.4h-2.4zM491.7 515.85h2.4v2.4h-2.4zM498.15 517.15h2.4v2.4h-2.4zM494.5 518.5h2.4v2.4h-2.4zM489.2 521.15h2.4v2.4h-2.4zM493.1 522.52h2.4v2.4h-2.4zM497.1 523.7h2.4v2.4h-2.4zM491.7 526.4h2.4v2.4h-2.4zM498.15 527.7h2.4v2.4h-2.4zM494.5 529.05h2.4v2.4h-2.4zM489.2 531.7h2.4v2.4h-2.4zM493.1 533.07h2.4v2.4h-2.4zM497.1 534.25h2.4v2.4h-2.4zM491.7 536.95h2.4v2.4h-2.4zM498.15 538.25h2.4v2.4h-2.4zM494.5 539.6h2.4v2.4h-2.4zM489.2 542.25h2.4v2.4h-2.4zM493.1 543.62h2.4v2.4h-2.4zM497.1 544.8h2.4v2.4h-2.4zM491.7 547.5h2.4v2.4h-2.4zM498.15 548.8h2.4v2.4h-2.4zM494.5 550.15h2.4v2.4h-2.4zM489.2 552.8h2.4v2.4h-2.4zM493.1 554.17h2.4v2.4h-2.4zM497.1 555.35h2.4v2.4h-2.4zM491.7 558.05h2.4v2.4h-2.4zM498.15 559.35h2.4v2.4h-2.4zM494.5 560.7h2.4v2.4h-2.4zM489.2 563.35h2.4v2.4h-2.4zM493.1 564.72h2.4v2.4h-2.4zM497.1 565.9h2.4v2.4h-2.4zM491.7 568.6h2.4v2.4h-2.4zM498.15 569.9h2.4v2.4h-2.4zM494.5 571.25h2.4v2.4h-2.4zM489.2 573.9h2.4v2.4h-2.4zM493.1 575.27h2.4v2.4h-2.4zM497.1 576.45h2.4v2.4h-2.4zM491.7 579.15h2.4v2.4h-2.4zM498.15 580.45h2.4v2.4h-2.4zM494.5 581.8h2.4v2.4h-2.4zM489.2 584.45h2.4v2.4h-2.4zM493.1 585.82h2.4v2.4h-2.4zM497.1 587h2.4v2.4h-2.4zM491.7 589.7h2.4v2.4h-2.4zM498.15 591h2.4v2.4h-2.4zM494.5 592.35h2.4v2.4h-2.4zM489.2 595h2.4v2.3h-2.4zM493.1 596.37h2.4v0.93h-2.4zM499.75 459.22h2.4v1.03h-2.4zM503.65 459.22h0.35v2.4h-0.35zM502.25 463.1h1.75v2.4h-1.75zM499.75 468.4h2.4v2.4h-2.4zM503.65 469.77h0.35v2.4h-0.35zM502.25 473.65h1.75v2.4h-1.75zM499.75 478.95h2.4v2.4h-2.4zM503.65 480.32h0.35v2.4h-0.35zM502.25 484.2h1.75v2.4h-1.75zM499.75 489.5h2.4v2.4h-2.4zM503.65 490.87h0.35v2.4h-0.35zM502.25 494.75h1.75v2.4h-1.75zM499.75 500.05h2.4v2.4h-2.4zM503.65 501.42h0.35v2.4h-0.35zM502.25 505.3h1.75v2.4h-1.75zM499.75 510.6h2.4v2.4h-2.4zM503.65 511.97h0.35v2.4h-0.35zM502.25 515.85h1.75v2.4h-1.75zM499.75 521.15h2.4v2.4h-2.4zM503.65 522.52h0.35v2.4h-0.35zM502.25 526.4h1.75v2.4h-1.75zM499.75 531.7h2.4v2.4h-2.4zM503.65 533.07h0.35v2.4h-0.35zM502.25 536.95h1.75v2.4h-1.75zM499.75 542.25h2.4v2.4h-2.4zM503.65 543.62h0.35v2.4h-0.35zM502.25 547.5h1.75v2.4h-1.75zM499.75 552.8h2.4v2.4h-2.4zM503.65 554.17h0.35v2.4h-0.35zM502.25 558.05h1.75v2.4h-1.75zM499.75 563.35h2.4v2.4h-2.4zM503.65 564.72h0.35v2.4h-0.35zM502.25 568.6h1.75v2.4h-1.75zM499.75 573.9h2.4v2.4h-2.4zM503.65 575.27h0.35v2.4h-0.35zM502.25 579.15h1.75v2.4h-1.75zM499.75 584.45h2.4v2.4h-2.4zM503.65 585.82h0.35v2.4h-0.35zM502.25 589.7h1.75v2.4h-1.75zM499.75 595h2.4v2.3h-2.4zM503.65 596.37h0.35v0.93h-0.35z" fill="#000"/>
<rect x="479" y="459.22" width="25" height="138.08" fill="none" stroke="#000" stroke-width="1.45"/>
<path d="M491.5 456.02 V462.42 M488.4 456.02 H494.6 M488.4 462.42 H494.6" stroke="#000" stroke-width="1.3" fill="none"/>
<rect x="504" y="529.24" width="25" height="68.06" fill="url(#brf)" stroke="#000" stroke-width="1.45"/>
<path d="M516.5 523.64 V534.84 M513.4 523.64 H519.6 M513.4 534.84 H519.6" stroke="#000" stroke-width="1.3" fill="none"/>
<rect x="565.2" y="481.25" width="25" height="116.05" fill="#fff"/>
<path d="M566.95 481.25h2.4v1.47h-2.4zM570.95 481.5h2.4v2.4h-2.4zM565.55 484.2h2.4v2.4h-2.4zM572 485.5h2.4v2.4h-2.4zM568.35 486.85h2.4v2.4h-2.4zM566.95 490.87h2.4v2.4h-2.4zM570.95 492.05h2.4v2.4h-2.4zM565.55 494.75h2.4v2.4h-2.4zM572 496.05h2.4v2.4h-2.4zM568.35 497.4h2.4v2.4h-2.4zM566.95 501.42h2.4v2.4h-2.4zM570.95 502.6h2.4v2.4h-2.4zM565.55 505.3h2.4v2.4h-2.4zM572 506.6h2.4v2.4h-2.4zM568.35 507.95h2.4v2.4h-2.4zM566.95 511.97h2.4v2.4h-2.4zM570.95 513.15h2.4v2.4h-2.4zM565.55 515.85h2.4v2.4h-2.4zM572 517.15h2.4v2.4h-2.4zM568.35 518.5h2.4v2.4h-2.4zM566.95 522.52h2.4v2.4h-2.4zM570.95 523.7h2.4v2.4h-2.4zM565.55 526.4h2.4v2.4h-2.4zM572 527.7h2.4v2.4h-2.4zM568.35 529.05h2.4v2.4h-2.4zM566.95 533.07h2.4v2.4h-2.4zM570.95 534.25h2.4v2.4h-2.4zM565.55 536.95h2.4v2.4h-2.4zM572 538.25h2.4v2.4h-2.4zM568.35 539.6h2.4v2.4h-2.4zM566.95 543.62h2.4v2.4h-2.4zM570.95 544.8h2.4v2.4h-2.4zM565.55 547.5h2.4v2.4h-2.4zM572 548.8h2.4v2.4h-2.4zM568.35 550.15h2.4v2.4h-2.4zM566.95 554.17h2.4v2.4h-2.4zM570.95 555.35h2.4v2.4h-2.4zM565.55 558.05h2.4v2.4h-2.4zM572 559.35h2.4v2.4h-2.4zM568.35 560.7h2.4v2.4h-2.4zM566.95 564.72h2.4v2.4h-2.4zM570.95 565.9h2.4v2.4h-2.4zM565.55 568.6h2.4v2.4h-2.4zM572 569.9h2.4v2.4h-2.4zM568.35 571.25h2.4v2.4h-2.4zM566.95 575.27h2.4v2.4h-2.4zM570.95 576.45h2.4v2.4h-2.4zM565.55 579.15h2.4v2.4h-2.4zM572 580.45h2.4v2.4h-2.4zM568.35 581.8h2.4v2.4h-2.4zM566.95 585.82h2.4v2.4h-2.4zM570.95 587h2.4v2.4h-2.4zM565.55 589.7h2.4v2.4h-2.4zM572 591h2.4v2.4h-2.4zM568.35 592.35h2.4v2.4h-2.4zM566.95 596.37h2.4v0.93h-2.4zM577.5 481.25h2.4v1.47h-2.4zM581.5 481.5h2.4v2.4h-2.4zM576.1 484.2h2.4v2.4h-2.4zM582.55 485.5h2.4v2.4h-2.4zM578.9 486.85h2.4v2.4h-2.4zM573.6 489.5h2.4v2.4h-2.4zM577.5 490.87h2.4v2.4h-2.4zM581.5 492.05h2.4v2.4h-2.4zM576.1 494.75h2.4v2.4h-2.4zM582.55 496.05h2.4v2.4h-2.4zM578.9 497.4h2.4v2.4h-2.4zM573.6 500.05h2.4v2.4h-2.4zM577.5 501.42h2.4v2.4h-2.4zM581.5 502.6h2.4v2.4h-2.4zM576.1 505.3h2.4v2.4h-2.4zM582.55 506.6h2.4v2.4h-2.4zM578.9 507.95h2.4v2.4h-2.4zM573.6 510.6h2.4v2.4h-2.4zM577.5 511.97h2.4v2.4h-2.4zM581.5 513.15h2.4v2.4h-2.4zM576.1 515.85h2.4v2.4h-2.4zM582.55 517.15h2.4v2.4h-2.4zM578.9 518.5h2.4v2.4h-2.4zM573.6 521.15h2.4v2.4h-2.4zM577.5 522.52h2.4v2.4h-2.4zM581.5 523.7h2.4v2.4h-2.4zM576.1 526.4h2.4v2.4h-2.4zM582.55 527.7h2.4v2.4h-2.4zM578.9 529.05h2.4v2.4h-2.4zM573.6 531.7h2.4v2.4h-2.4zM577.5 533.07h2.4v2.4h-2.4zM581.5 534.25h2.4v2.4h-2.4zM576.1 536.95h2.4v2.4h-2.4zM582.55 538.25h2.4v2.4h-2.4zM578.9 539.6h2.4v2.4h-2.4zM573.6 542.25h2.4v2.4h-2.4zM577.5 543.62h2.4v2.4h-2.4zM581.5 544.8h2.4v2.4h-2.4zM576.1 547.5h2.4v2.4h-2.4zM582.55 548.8h2.4v2.4h-2.4zM578.9 550.15h2.4v2.4h-2.4zM573.6 552.8h2.4v2.4h-2.4zM577.5 554.17h2.4v2.4h-2.4zM581.5 555.35h2.4v2.4h-2.4zM576.1 558.05h2.4v2.4h-2.4zM582.55 559.35h2.4v2.4h-2.4zM578.9 560.7h2.4v2.4h-2.4zM573.6 563.35h2.4v2.4h-2.4zM577.5 564.72h2.4v2.4h-2.4zM581.5 565.9h2.4v2.4h-2.4zM576.1 568.6h2.4v2.4h-2.4zM582.55 569.9h2.4v2.4h-2.4zM578.9 571.25h2.4v2.4h-2.4zM573.6 573.9h2.4v2.4h-2.4zM577.5 575.27h2.4v2.4h-2.4zM581.5 576.45h2.4v2.4h-2.4zM576.1 579.15h2.4v2.4h-2.4zM582.55 580.45h2.4v2.4h-2.4zM578.9 581.8h2.4v2.4h-2.4zM573.6 584.45h2.4v2.4h-2.4zM577.5 585.82h2.4v2.4h-2.4zM581.5 587h2.4v2.4h-2.4zM576.1 589.7h2.4v2.4h-2.4zM582.55 591h2.4v2.4h-2.4zM578.9 592.35h2.4v2.4h-2.4zM573.6 595h2.4v2.3h-2.4zM577.5 596.37h2.4v0.93h-2.4zM588.05 481.25h2.15v1.47h-2.15zM586.65 484.2h2.4v2.4h-2.4zM589.45 486.85h0.75v2.4h-0.75zM584.15 489.5h2.4v2.4h-2.4zM588.05 490.87h2.15v2.4h-2.15zM586.65 494.75h2.4v2.4h-2.4zM589.45 497.4h0.75v2.4h-0.75zM584.15 500.05h2.4v2.4h-2.4zM588.05 501.42h2.15v2.4h-2.15zM586.65 505.3h2.4v2.4h-2.4zM589.45 507.95h0.75v2.4h-0.75zM584.15 510.6h2.4v2.4h-2.4zM588.05 511.97h2.15v2.4h-2.15zM586.65 515.85h2.4v2.4h-2.4zM589.45 518.5h0.75v2.4h-0.75zM584.15 521.15h2.4v2.4h-2.4zM588.05 522.52h2.15v2.4h-2.15zM586.65 526.4h2.4v2.4h-2.4zM589.45 529.05h0.75v2.4h-0.75zM584.15 531.7h2.4v2.4h-2.4zM588.05 533.07h2.15v2.4h-2.15zM586.65 536.95h2.4v2.4h-2.4zM589.45 539.6h0.75v2.4h-0.75zM584.15 542.25h2.4v2.4h-2.4zM588.05 543.62h2.15v2.4h-2.15zM586.65 547.5h2.4v2.4h-2.4zM589.45 550.15h0.75v2.4h-0.75zM584.15 552.8h2.4v2.4h-2.4zM588.05 554.17h2.15v2.4h-2.15zM586.65 558.05h2.4v2.4h-2.4zM589.45 560.7h0.75v2.4h-0.75zM584.15 563.35h2.4v2.4h-2.4zM588.05 564.72h2.15v2.4h-2.15zM586.65 568.6h2.4v2.4h-2.4zM589.45 571.25h0.75v2.4h-0.75zM584.15 573.9h2.4v2.4h-2.4zM588.05 575.27h2.15v2.4h-2.15zM586.65 579.15h2.4v2.4h-2.4zM589.45 581.8h0.75v2.4h-0.75zM584.15 584.45h2.4v2.4h-2.4zM588.05 585.82h2.15v2.4h-2.15zM586.65 589.7h2.4v2.4h-2.4zM589.45 592.35h0.75v2.4h-0.75zM584.15 595h2.4v2.3h-2.4zM588.05 596.37h2.15v0.93h-2.15z" fill="#000"/>
<rect x="565.2" y="481.25" width="25" height="116.05" fill="none" stroke="#000" stroke-width="1.45"/>
<path d="M577.7 478.55 V483.95 M574.6 478.55 H580.8 M574.6 483.95 H580.8" stroke="#000" stroke-width="1.3" fill="none"/>
<rect x="590.2" y="567.42" width="25" height="29.88" fill="url(#brf)" stroke="#000" stroke-width="1.45"/>
<path d="M602.7 566.42 V568.42 M599.6 566.42 H605.8 M599.6 568.42 H605.8" stroke="#000" stroke-width="1.3" fill="none"/>
<path d="M374.3 435.8 V597.3 M369.8 597.3 H374.3 M369.8 574.23 H374.3 M369.8 551.16 H374.3 M369.8 528.09 H374.3 M369.8 505.01 H374.3 M369.8 481.94 H374.3 M369.8 458.87 H374.3 M369.8 435.8 H374.3 M374.3 597.3 H633.3 M374.3 597.3 V601.8 M460.9 597.3 V601.8 M547.1 597.3 V601.8 M633.3 597.3 V601.8" stroke="#7f7f7f" stroke-width="1.4" fill="none"/>
<text x="361.8" y="601.4" text-anchor="end" class="t">0</text>
<text x="361.8" y="578.33" text-anchor="end" class="t">2</text>
<text x="361.8" y="555.26" text-anchor="end" class="t">4</text>
<text x="361.8" y="532.19" text-anchor="end" class="t">6</text>
<text x="361.8" y="509.11" text-anchor="end" class="t">8</text>
<text x="361.8" y="486.04" text-anchor="end" class="t">10</text>
<text x="361.8" y="462.97" text-anchor="end" class="t">12</text>
<text x="361.8" y="439.9" text-anchor="end" class="t">14</text>
<text x="417.8" y="618.6" text-anchor="middle" class="t">0 dpi</text>
<text x="504" y="618.6" text-anchor="middle" class="t">3 dpi</text>
<text x="590.2" y="618.6" text-anchor="middle" class="t">10 dpi</text>
<rect x="654.55" y="511.05" width="7.1" height="7.1" fill="#fff" stroke="#000" stroke-width="1.3"/>
<rect x="656.9" y="513.4" width="2.6" height="2.6" fill="#000"/>
<rect x="654.55" y="534.95" width="7.1" height="7.1" fill="#fff" stroke="#000" stroke-width="1.3"/>
<path d="M657.4 541.3 L660.9 537.8" stroke="#000" stroke-width="1"/>
<text x="664.9" y="518.5" class="lg" textLength="13.4" lengthAdjust="spacingAndGlyphs">C4</text>
<text x="665.6" y="542.4" class="lg" textLength="6.0" lengthAdjust="spacingAndGlyphs">K</text>
<text transform="translate(402.33 459.7) scale(0.27358 0.24966)" class="L">f</text>
<rect x="0.5" y="641.3" width="330.5" height="205.8" fill="none" stroke="#000" stroke-width="1.4"/>
<rect x="44.98" y="788.17" width="24.4" height="26.63" fill="#fff"/>
<path d="M47.12 788.17h2.4v1.37h-2.4zM45.77 791.02h2.4v2.4h-2.4zM49.64 792.17h2.4v2.4h-2.4zM44.98 794.78h1.84v2.4h-1.84zM50.65 796.03h2.4v2.4h-2.4zM47.12 797.34h2.4v2.4h-2.4zM45.77 801.22h2.4v2.4h-2.4zM49.64 802.37h2.4v2.4h-2.4zM44.98 804.98h1.84v2.4h-1.84zM50.65 806.23h2.4v2.4h-2.4zM47.12 807.54h2.4v2.4h-2.4zM45.77 811.42h2.4v2.4h-2.4zM49.64 812.57h2.4v2.23h-2.4zM57.32 788.17h2.4v1.37h-2.4zM52.2 789.7h2.4v2.4h-2.4zM55.97 791.02h2.4v2.4h-2.4zM59.84 792.17h2.4v2.4h-2.4zM54.62 794.78h2.4v2.4h-2.4zM60.85 796.03h2.4v2.4h-2.4zM57.32 797.34h2.4v2.4h-2.4zM52.2 799.9h2.4v2.4h-2.4zM55.97 801.22h2.4v2.4h-2.4zM59.84 802.37h2.4v2.4h-2.4zM54.62 804.98h2.4v2.4h-2.4zM60.85 806.23h2.4v2.4h-2.4zM57.32 807.54h2.4v2.4h-2.4zM52.2 810.1h2.4v2.4h-2.4zM55.97 811.42h2.4v2.4h-2.4zM59.84 812.57h2.4v2.23h-2.4zM67.52 788.17h1.85v1.37h-1.85zM62.4 789.7h2.4v2.4h-2.4zM66.17 791.02h2.4v2.4h-2.4zM64.82 794.78h2.4v2.4h-2.4zM67.52 797.34h1.85v2.4h-1.85zM62.4 799.9h2.4v2.4h-2.4zM66.17 801.22h2.4v2.4h-2.4zM64.82 804.98h2.4v2.4h-2.4zM67.52 807.54h1.85v2.4h-1.85zM62.4 810.1h2.4v2.4h-2.4zM66.17 811.42h2.4v2.4h-2.4z" fill="#000"/>
<rect x="44.98" y="788.17" width="24.4" height="26.63" fill="none" stroke="#000" stroke-width="1.45"/>
<path d="M54.07 788.17 H60.27" stroke="#000" stroke-width="1.3" fill="none"/>
<rect x="69.38" y="788.17" width="24.4" height="26.63" fill="url(#brg)" stroke="#000" stroke-width="1.45"/>
<path d="M78.48 788.17 H84.67" stroke="#000" stroke-width="1.3" fill="none"/>
<rect x="129.62" y="736.23" width="24.4" height="78.57" fill="#fff"/>
<path d="M132.25 736.23h2.4v1h-2.4zM129.62 736.23h1.5v2.31h-1.5zM131.24 741.17h2.4v2.4h-2.4zM132.25 745.03h2.4v2.4h-2.4zM129.62 746.34h1.5v2.4h-1.5zM131.24 751.37h2.4v2.4h-2.4zM132.25 755.23h2.4v2.4h-2.4zM129.62 756.54h1.5v2.4h-1.5zM131.24 761.57h2.4v2.4h-2.4zM132.25 765.43h2.4v2.4h-2.4zM129.62 766.74h1.5v2.4h-1.5zM131.24 771.77h2.4v2.4h-2.4zM132.25 775.63h2.4v2.4h-2.4zM129.62 776.94h1.5v2.4h-1.5zM131.24 781.97h2.4v2.4h-2.4zM132.25 785.83h2.4v2.4h-2.4zM129.62 787.14h1.5v2.4h-1.5zM131.24 792.17h2.4v2.4h-2.4zM132.25 796.03h2.4v2.4h-2.4zM129.62 797.34h1.5v2.4h-1.5zM131.24 802.37h2.4v2.4h-2.4zM132.25 806.23h2.4v2.4h-2.4zM129.62 807.54h1.5v2.4h-1.5zM131.24 812.57h2.4v2.23h-2.4zM142.45 736.23h2.4v1h-2.4zM138.92 736.23h2.4v2.31h-2.4zM133.8 738.7h2.4v2.4h-2.4zM137.57 740.02h2.4v2.4h-2.4zM141.44 741.17h2.4v2.4h-2.4zM136.22 743.78h2.4v2.4h-2.4zM142.45 745.03h2.4v2.4h-2.4zM138.92 746.34h2.4v2.4h-2.4zM133.8 748.9h2.4v2.4h-2.4zM137.57 750.22h2.4v2.4h-2.4zM141.44 751.37h2.4v2.4h-2.4zM136.22 753.98h2.4v2.4h-2.4zM142.45 755.23h2.4v2.4h-2.4zM138.92 756.54h2.4v2.4h-2.4zM133.8 759.1h2.4v2.4h-2.4zM137.57 760.42h2.4v2.4h-2.4zM141.44 761.57h2.4v2.4h-2.4zM136.22 764.18h2.4v2.4h-2.4zM142.45 765.43h2.4v2.4h-2.4zM138.92 766.74h2.4v2.4h-2.4zM133.8 769.3h2.4v2.4h-2.4zM137.57 770.62h2.4v2.4h-2.4zM141.44 771.77h2.4v2.4h-2.4zM136.22 774.38h2.4v2.4h-2.4zM142.45 775.63h2.4v2.4h-2.4zM138.92 776.94h2.4v2.4h-2.4zM133.8 779.5h2.4v2.4h-2.4zM137.57 780.82h2.4v2.4h-2.4zM141.44 781.97h2.4v2.4h-2.4zM136.22 784.58h2.4v2.4h-2.4zM142.45 785.83h2.4v2.4h-2.4zM138.92 787.14h2.4v2.4h-2.4zM133.8 789.7h2.4v2.4h-2.4zM137.57 791.02h2.4v2.4h-2.4zM141.44 792.17h2.4v2.4h-2.4zM136.22 794.78h2.4v2.4h-2.4zM142.45 796.03h2.4v2.4h-2.4zM138.92 797.34h2.4v2.4h-2.4zM133.8 799.9h2.4v2.4h-2.4zM137.57 801.22h2.4v2.4h-2.4zM141.44 802.37h2.4v2.4h-2.4zM136.22 804.98h2.4v2.4h-2.4zM142.45 806.23h2.4v2.4h-2.4zM138.92 807.54h2.4v2.4h-2.4zM133.8 810.1h2.4v2.4h-2.4zM137.57 811.42h2.4v2.4h-2.4zM141.44 812.57h2.4v2.23h-2.4zM152.65 736.23h1.37v1h-1.37zM149.12 736.23h2.4v2.31h-2.4zM144 738.7h2.4v2.4h-2.4zM147.77 740.02h2.4v2.4h-2.4zM151.64 741.17h2.39v2.4h-2.39zM146.42 743.78h2.4v2.4h-2.4zM152.65 745.03h1.37v2.4h-1.37zM149.12 746.34h2.4v2.4h-2.4zM144 748.9h2.4v2.4h-2.4zM147.77 750.22h2.4v2.4h-2.4zM151.64 751.37h2.39v2.4h-2.39zM146.42 753.98h2.4v2.4h-2.4zM152.65 755.23h1.37v2.4h-1.37zM149.12 756.54h2.4v2.4h-2.4zM144 759.1h2.4v2.4h-2.4zM147.77 760.42h2.4v2.4h-2.4zM151.64 761.57h2.39v2.4h-2.39zM146.42 764.18h2.4v2.4h-2.4zM152.65 765.43h1.37v2.4h-1.37zM149.12 766.74h2.4v2.4h-2.4zM144 769.3h2.4v2.4h-2.4zM147.77 770.62h2.4v2.4h-2.4zM151.64 771.77h2.39v2.4h-2.39zM146.42 774.38h2.4v2.4h-2.4zM152.65 775.63h1.37v2.4h-1.37zM149.12 776.94h2.4v2.4h-2.4zM144 779.5h2.4v2.4h-2.4zM147.77 780.82h2.4v2.4h-2.4zM151.64 781.97h2.39v2.4h-2.39zM146.42 784.58h2.4v2.4h-2.4zM152.65 785.83h1.37v2.4h-1.37zM149.12 787.14h2.4v2.4h-2.4zM144 789.7h2.4v2.4h-2.4zM147.77 791.02h2.4v2.4h-2.4zM151.64 792.17h2.39v2.4h-2.39zM146.42 794.78h2.4v2.4h-2.4zM152.65 796.03h1.37v2.4h-1.37zM149.12 797.34h2.4v2.4h-2.4zM144 799.9h2.4v2.4h-2.4zM147.77 801.22h2.4v2.4h-2.4zM151.64 802.37h2.39v2.4h-2.39zM146.42 804.98h2.4v2.4h-2.4zM152.65 806.23h1.37v2.4h-1.37zM149.12 807.54h2.4v2.4h-2.4zM144 810.1h2.4v2.4h-2.4zM147.77 811.42h2.4v2.4h-2.4zM151.64 812.57h2.39v2.23h-2.39z" fill="#000"/>
<rect x="129.62" y="736.23" width="24.4" height="78.57" fill="none" stroke="#000" stroke-width="1.45"/>
<path d="M141.82 728.83 V743.63 M138.72 728.83 H144.92 M138.72 743.63 H144.92" stroke="#000" stroke-width="1.3" fill="none"/>
<rect x="154.03" y="714.39" width="24.4" height="100.41" fill="url(#brg)" stroke="#000" stroke-width="1.45"/>
<path d="M166.22 703.19 V725.59 M163.12 703.19 H169.32 M163.12 725.59 H169.32" stroke="#000" stroke-width="1.3" fill="none"/>
<rect x="214.28" y="671.78" width="24.4" height="143.02" fill="#fff"/>
<path d="M214.28 671.78h0.96v0.39h-0.96zM214.28 673.63h1.98v2.4h-1.98zM214.28 679.97h0.96v2.4h-0.96zM214.28 683.83h1.98v2.4h-1.98zM214.28 690.17h0.96v2.4h-0.96zM214.28 694.03h1.98v2.4h-1.98zM214.28 700.37h0.96v2.4h-0.96zM214.28 704.23h1.98v2.4h-1.98zM214.28 710.57h0.96v2.4h-0.96zM214.28 714.43h1.98v2.4h-1.98zM214.28 720.77h0.96v2.4h-0.96zM214.28 724.63h1.98v2.4h-1.98zM214.28 730.97h0.96v2.4h-0.96zM214.28 734.83h1.98v2.4h-1.98zM214.28 741.17h0.96v2.4h-0.96zM214.28 745.03h1.98v2.4h-1.98zM214.28 751.37h0.96v2.4h-0.96zM214.28 755.23h1.98v2.4h-1.98zM214.28 761.57h0.96v2.4h-0.96zM214.28 765.43h1.98v2.4h-1.98zM214.28 771.77h0.96v2.4h-0.96zM214.28 775.63h1.98v2.4h-1.98zM214.28 781.97h0.96v2.4h-0.96zM214.28 785.83h1.98v2.4h-1.98zM214.28 792.17h0.96v2.4h-0.96zM214.28 796.03h1.98v2.4h-1.98zM214.28 802.37h0.96v2.4h-0.96zM214.28 806.23h1.98v2.4h-1.98zM214.28 812.57h0.96v2.23h-0.96zM223.04 671.78h2.4v0.39h-2.4zM217.82 672.38h2.4v2.4h-2.4zM224.05 673.63h2.4v2.4h-2.4zM220.52 674.94h2.4v2.4h-2.4zM215.4 677.5h2.4v2.4h-2.4zM219.17 678.82h2.4v2.4h-2.4zM223.04 679.97h2.4v2.4h-2.4zM217.82 682.58h2.4v2.4h-2.4zM224.05 683.83h2.4v2.4h-2.4zM220.52 685.14h2.4v2.4h-2.4zM215.4 687.7h2.4v2.4h-2.4zM219.17 689.02h2.4v2.4h-2.4zM223.04 690.17h2.4v2.4h-2.4zM217.82 692.78h2.4v2.4h-2.4zM224.05 694.03h2.4v2.4h-2.4zM220.52 695.34h2.4v2.4h-2.4zM215.4 697.9h2.4v2.4h-2.4zM219.17 699.22h2.4v2.4h-2.4zM223.04 700.37h2.4v2.4h-2.4zM217.82 702.98h2.4v2.4h-2.4zM224.05 704.23h2.4v2.4h-2.4zM220.52 705.54h2.4v2.4h-2.4zM215.4 708.1h2.4v2.4h-2.4zM219.17 709.42h2.4v2.4h-2.4zM223.04 710.57h2.4v2.4h-2.4zM217.82 713.18h2.4v2.4h-2.4zM224.05 714.43h2.4v2.4h-2.4zM220.52 715.74h2.4v2.4h-2.4zM215.4 718.3h2.4v2.4h-2.4zM219.17 719.62h2.4v2.4h-2.4zM223.04 720.77h2.4v2.4h-2.4zM217.82 723.38h2.4v2.4h-2.4zM224.05 724.63h2.4v2.4h-2.4zM220.52 725.94h2.4v2.4h-2.4zM215.4 728.5h2.4v2.4h-2.4zM219.17 729.82h2.4v2.4h-2.4zM223.04 730.97h2.4v2.4h-2.4zM217.82 733.58h2.4v2.4h-2.4zM224.05 734.83h2.4v2.4h-2.4zM220.52 736.14h2.4v2.4h-2.4zM215.4 738.7h2.4v2.4h-2.4zM219.17 740.02h2.4v2.4h-2.4zM223.04 741.17h2.4v2.4h-2.4zM217.82 743.78h2.4v2.4h-2.4zM224.05 745.03h2.4v2.4h-2.4zM220.52 746.34h2.4v2.4h-2.4zM215.4 748.9h2.4v2.4h-2.4zM219.17 750.22h2.4v2.4h-2.4zM223.04 751.37h2.4v2.4h-2.4zM217.82 753.98h2.4v2.4h-2.4zM224.05 755.23h2.4v2.4h-2.4zM220.52 756.54h2.4v2.4h-2.4zM215.4 759.1h2.4v2.4h-2.4zM219.17 760.42h2.4v2.4h-2.4zM223.04 761.57h2.4v2.4h-2.4zM217.82 764.18h2.4v2.4h-2.4zM224.05 765.43h2.4v2.4h-2.4zM220.52 766.74h2.4v2.4h-2.4zM215.4 769.3h2.4v2.4h-2.4zM219.17 770.62h2.4v2.4h-2.4zM223.04 771.77h2.4v2.4h-2.4zM217.82 774.38h2.4v2.4h-2.4zM224.05 775.63h2.4v2.4h-2.4zM220.52 776.94h2.4v2.4h-2.4zM215.4 779.5h2.4v2.4h-2.4zM219.17 780.82h2.4v2.4h-2.4zM223.04 781.97h2.4v2.4h-2.4zM217.82 784.58h2.4v2.4h-2.4zM224.05 785.83h2.4v2.4h-2.4zM220.52 787.14h2.4v2.4h-2.4zM215.4 789.7h2.4v2.4h-2.4zM219.17 791.02h2.4v2.4h-2.4zM223.04 792.17h2.4v2.4h-2.4zM217.82 794.78h2.4v2.4h-2.4zM224.05 796.03h2.4v2.4h-2.4zM220.52 797.34h2.4v2.4h-2.4zM215.4 799.9h2.4v2.4h-2.4zM219.17 801.22h2.4v2.4h-2.4zM223.04 802.37h2.4v2.4h-2.4zM217.82 804.98h2.4v2.4h-2.4zM224.05 806.23h2.4v2.4h-2.4zM220.52 807.54h2.4v2.4h-2.4zM215.4 810.1h2.4v2.4h-2.4zM219.17 811.42h2.4v2.4h-2.4zM223.04 812.57h2.4v2.23h-2.4zM233.24 671.78h2.4v0.39h-2.4zM228.02 672.38h2.4v2.4h-2.4zM234.25 673.63h2.4v2.4h-2.4zM230.72 674.94h2.4v2.4h-2.4zM225.6 677.5h2.4v2.4h-2.4zM229.37 678.82h2.4v2.4h-2.4zM233.24 679.97h2.4v2.4h-2.4zM228.02 682.58h2.4v2.4h-2.4zM234.25 683.83h2.4v2.4h-2.4zM230.72 685.14h2.4v2.4h-2.4zM225.6 687.7h2.4v2.4h-2.4zM229.37 689.02h2.4v2.4h-2.4zM233.24 690.17h2.4v2.4h-2.4zM228.02 692.78h2.4v2.4h-2.4zM234.25 694.03h2.4v2.4h-2.4zM230.72 695.34h2.4v2.4h-2.4zM225.6 697.9h2.4v2.4h-2.4zM229.37 699.22h2.4v2.4h-2.4zM233.24 700.37h2.4v2.4h-2.4zM228.02 702.98h2.4v2.4h-2.4zM234.25 704.23h2.4v2.4h-2.4zM230.72 705.54h2.4v2.4h-2.4zM225.6 708.1h2.4v2.4h-2.4zM229.37 709.42h2.4v2.4h-2.4zM233.24 710.57h2.4v2.4h-2.4zM228.02 713.18h2.4v2.4h-2.4zM234.25 714.43h2.4v2.4h-2.4zM230.72 715.74h2.4v2.4h-2.4zM225.6 718.3h2.4v2.4h-2.4zM229.37 719.62h2.4v2.4h-2.4zM233.24 720.77h2.4v2.4h-2.4zM228.02 723.38h2.4v2.4h-2.4zM234.25 724.63h2.4v2.4h-2.4zM230.72 725.94h2.4v2.4h-2.4zM225.6 728.5h2.4v2.4h-2.4zM229.37 729.82h2.4v2.4h-2.4zM233.24 730.97h2.4v2.4h-2.4zM228.02 733.58h2.4v2.4h-2.4zM234.25 734.83h2.4v2.4h-2.4zM230.72 736.14h2.4v2.4h-2.4zM225.6 738.7h2.4v2.4h-2.4zM229.37 740.02h2.4v2.4h-2.4zM233.24 741.17h2.4v2.4h-2.4zM228.02 743.78h2.4v2.4h-2.4zM234.25 745.03h2.4v2.4h-2.4zM230.72 746.34h2.4v2.4h-2.4zM225.6 748.9h2.4v2.4h-2.4zM229.37 750.22h2.4v2.4h-2.4zM233.24 751.37h2.4v2.4h-2.4zM228.02 753.98h2.4v2.4h-2.4zM234.25 755.23h2.4v2.4h-2.4zM230.72 756.54h2.4v2.4h-2.4zM225.6 759.1h2.4v2.4h-2.4zM229.37 760.42h2.4v2.4h-2.4zM233.24 761.57h2.4v2.4h-2.4zM228.02 764.18h2.4v2.4h-2.4zM234.25 765.43h2.4v2.4h-2.4zM230.72 766.74h2.4v2.4h-2.4zM225.6 769.3h2.4v2.4h-2.4zM229.37 770.62h2.4v2.4h-2.4zM233.24 771.77h2.4v2.4h-2.4zM228.02 774.38h2.4v2.4h-2.4zM234.25 775.63h2.4v2.4h-2.4zM230.72 776.94h2.4v2.4h-2.4zM225.6 779.5h2.4v2.4h-2.4zM229.37 780.82h2.4v2.4h-2.4zM233.24 781.97h2.4v2.4h-2.4zM228.02 784.58h2.4v2.4h-2.4zM234.25 785.83h2.4v2.4h-2.4zM230.72 787.14h2.4v2.4h-2.4zM225.6 789.7h2.4v2.4h-2.4zM229.37 791.02h2.4v2.4h-2.4zM233.24 792.17h2.4v2.4h-2.4zM228.02 794.78h2.4v2.4h-2.4zM234.25 796.03h2.4v2.4h-2.4zM230.72 797.34h2.4v2.4h-2.4zM225.6 799.9h2.4v2.4h-2.4zM229.37 801.22h2.4v2.4h-2.4zM233.24 802.37h2.4v2.4h-2.4zM228.02 804.98h2.4v2.4h-2.4zM234.25 806.23h2.4v2.4h-2.4zM230.72 807.54h2.4v2.4h-2.4zM225.6 810.1h2.4v2.4h-2.4zM229.37 811.42h2.4v2.4h-2.4zM233.24 812.57h2.4v2.23h-2.4zM238.22 672.38h0.46v2.4h-0.46zM235.8 677.5h2.4v2.4h-2.4zM238.22 682.58h0.46v2.4h-0.46zM235.8 687.7h2.4v2.4h-2.4zM238.22 692.78h0.46v2.4h-0.46zM235.8 697.9h2.4v2.4h-2.4zM238.22 702.98h0.46v2.4h-0.46zM235.8 708.1h2.4v2.4h-2.4zM238.22 713.18h0.46v2.4h-0.46zM235.8 718.3h2.4v2.4h-2.4zM238.22 723.38h0.46v2.4h-0.46zM235.8 728.5h2.4v2.4h-2.4zM238.22 733.58h0.46v2.4h-0.46zM235.8 738.7h2.4v2.4h-2.4zM238.22 743.78h0.46v2.4h-0.46zM235.8 748.9h2.4v2.4h-2.4zM238.22 753.98h0.46v2.4h-0.46zM235.8 759.1h2.4v2.4h-2.4zM238.22 764.18h0.46v2.4h-0.46zM235.8 769.3h2.4v2.4h-2.4zM238.22 774.38h0.46v2.4h-0.46zM235.8 779.5h2.4v2.4h-2.4zM238.22 784.58h0.46v2.4h-0.46zM235.8 789.7h2.4v2.4h-2.4zM238.22 794.78h0.46v2.4h-0.46zM235.8 799.9h2.4v2.4h-2.4zM238.22 804.98h0.46v2.4h-0.46zM235.8 810.1h2.4v2.4h-2.4z" fill="#000"/>
<rect x="214.28" y="671.78" width="24.4" height="143.02" fill="none" stroke="#000" stroke-width="1.45"/>
<path d="M226.47 666.28 V677.28 M223.38 666.28 H229.57 M223.38 677.28 H229.57" stroke="#000" stroke-width="1.3" fill="none"/>
<rect x="238.68" y="776.71" width="24.4" height="38.09" fill="url(#brg)" stroke="#000" stroke-width="1.45"/>
<path d="M250.88 774.01 V779.41 M247.78 774.01 H253.97 M247.78 779.41 H253.97" stroke="#000" stroke-width="1.3" fill="none"/>
<path d="M27.05 655 V814.8 M22.55 814.8 H27.05 M22.55 788.17 H27.05 M22.55 761.53 H27.05 M22.55 734.9 H27.05 M22.55 708.27 H27.05 M22.55 681.63 H27.05 M22.55 655 H27.05 M27.05 814.8 H281 M27.05 814.8 V819.3 M111.7 814.8 V819.3 M196.35 814.8 V819.3 M281 814.8 V819.3" stroke="#7f7f7f" stroke-width="1.4" fill="none"/>
<text x="15.45" y="819.4" text-anchor="end" class="t">0</text>
<text x="15.45" y="792.77" text-anchor="end" class="t">1</text>
<text x="15.45" y="766.13" text-anchor="end" class="t">2</text>
<text x="15.45" y="739.5" text-anchor="end" class="t">3</text>
<text x="15.45" y="712.87" text-anchor="end" class="t">4</text>
<text x="15.45" y="686.23" text-anchor="end" class="t">5</text>
<text x="15.45" y="659.6" text-anchor="end" class="t">6</text>
<text x="69.38" y="836.1" text-anchor="middle" class="t">0 dpi</text>
<text x="154.03" y="836.1" text-anchor="middle" class="t">3 dpi</text>
<text x="238.68" y="836.1" text-anchor="middle" class="t">10 dpi</text>
<rect x="301.65" y="729.35" width="7.1" height="7.1" fill="#fff" stroke="#000" stroke-width="1.3"/>
<rect x="304" y="731.7" width="2.6" height="2.6" fill="#000"/>
<rect x="301.65" y="752.65" width="7.1" height="7.1" fill="#fff" stroke="#000" stroke-width="1.3"/>
<path d="M304.5 759 L308 755.5" stroke="#000" stroke-width="1"/>
<text x="312" y="736.8" class="lg" textLength="13.4" lengthAdjust="spacingAndGlyphs">C4</text>
<text x="312.7" y="760.1" class="lg" textLength="6.0" lengthAdjust="spacingAndGlyphs">K</text>
<text transform="translate(49.12 682.23) scale(0.26293 0.25204)" class="L" style="font-family:'Liberation Serif',serif">g</text>
<rect x="340.5" y="641.3" width="342.8" height="207.7" fill="none" stroke="#000" stroke-width="1.4"/>
<rect x="392.4" y="812.4" width="23.5" height="11.6" fill="#fff"/>
<path d="M392.4 812.4h2.03v0.51h-2.03zM395.86 812.4h2.4v1.64h-2.4zM392.4 814.23h0.69v2.4h-0.69zM396.87 815.47h2.4v2.4h-2.4zM393.37 816.76h2.4v2.4h-2.4zM392.4 820.61h2.03v2.4h-2.03zM395.86 821.74h2.4v2.26h-2.4zM402.13 812.4h2.4v0.51h-2.4zM405.96 812.4h2.4v1.64h-2.4zM400.79 814.23h2.4v2.4h-2.4zM406.97 815.47h2.4v2.4h-2.4zM403.47 816.76h2.4v2.4h-2.4zM398.4 819.3h2.4v2.4h-2.4zM402.13 820.61h2.4v2.4h-2.4zM405.96 821.74h2.4v2.26h-2.4zM412.23 812.4h2.4v0.51h-2.4zM410.89 814.23h2.4v2.4h-2.4zM413.57 816.76h2.33v2.4h-2.33zM408.5 819.3h2.4v2.4h-2.4zM412.23 820.61h2.4v2.4h-2.4z" fill="#000"/>
<rect x="392.4" y="812.4" width="23.5" height="11.6" fill="none" stroke="#000" stroke-width="1.45"/>
<path d="M401.05 812.4 H407.25" stroke="#000" stroke-width="1.3" fill="none"/>
<rect x="415.9" y="812.4" width="23.5" height="11.6" fill="url(#brh)" stroke="#000" stroke-width="1.45"/>
<path d="M424.55 812.4 H430.75" stroke="#000" stroke-width="1.3" fill="none"/>
<rect x="474.2" y="738.04" width="23.5" height="85.96" fill="#fff"/>
<path d="M474.2 738.04h2.37v0.32h-2.37zM474.2 739.81h1.03v2.4h-1.03zM476.66 740.94h2.4v2.4h-2.4zM477.67 744.77h2.4v2.4h-2.4zM474.2 746.06h2.37v2.4h-2.37zM474.2 749.91h1.03v2.4h-1.03zM476.66 751.04h2.4v2.4h-2.4zM477.67 754.87h2.4v2.4h-2.4zM474.2 756.16h2.37v2.4h-2.37zM474.2 760.01h1.03v2.4h-1.03zM476.66 761.14h2.4v2.4h-2.4zM477.67 764.97h2.4v2.4h-2.4zM474.2 766.26h2.37v2.4h-2.37zM474.2 770.11h1.03v2.4h-1.03zM476.66 771.24h2.4v2.4h-2.4zM477.67 775.07h2.4v2.4h-2.4zM474.2 776.36h2.37v2.4h-2.37zM474.2 780.21h1.03v2.4h-1.03zM476.66 781.34h2.4v2.4h-2.4zM477.67 785.17h2.4v2.4h-2.4zM474.2 786.46h2.37v2.4h-2.37zM474.2 790.31h1.03v2.4h-1.03zM476.66 791.44h2.4v2.4h-2.4zM477.67 795.27h2.4v2.4h-2.4zM474.2 796.56h2.37v2.4h-2.37zM474.2 800.41h1.03v2.4h-1.03zM476.66 801.54h2.4v2.4h-2.4zM477.67 805.37h2.4v2.4h-2.4zM474.2 806.66h2.37v2.4h-2.37zM474.2 810.51h1.03v2.4h-1.03zM476.66 811.64h2.4v2.4h-2.4zM477.67 815.47h2.4v2.4h-2.4zM474.2 816.76h2.37v2.4h-2.37zM474.2 820.61h1.03v2.4h-1.03zM476.66 821.74h2.4v2.26h-2.4zM484.27 738.04h2.4v0.32h-2.4zM479.2 738.5h2.4v2.4h-2.4zM482.93 739.81h2.4v2.4h-2.4zM486.76 740.94h2.4v2.4h-2.4zM481.59 743.53h2.4v2.4h-2.4zM487.77 744.77h2.4v2.4h-2.4zM484.27 746.06h2.4v2.4h-2.4zM479.2 748.6h2.4v2.4h-2.4zM482.93 749.91h2.4v2.4h-2.4zM486.76 751.04h2.4v2.4h-2.4zM481.59 753.63h2.4v2.4h-2.4zM487.77 754.87h2.4v2.4h-2.4zM484.27 756.16h2.4v2.4h-2.4zM479.2 758.7h2.4v2.4h-2.4zM482.93 760.01h2.4v2.4h-2.4zM486.76 761.14h2.4v2.4h-2.4zM481.59 763.73h2.4v2.4h-2.4zM487.77 764.97h2.4v2.4h-2.4zM484.27 766.26h2.4v2.4h-2.4zM479.2 768.8h2.4v2.4h-2.4zM482.93 770.11h2.4v2.4h-2.4zM486.76 771.24h2.4v2.4h-2.4zM481.59 773.83h2.4v2.4h-2.4zM487.77 775.07h2.4v2.4h-2.4zM484.27 776.36h2.4v2.4h-2.4zM479.2 778.9h2.4v2.4h-2.4zM482.93 780.21h2.4v2.4h-2.4zM486.76 781.34h2.4v2.4h-2.4zM481.59 783.93h2.4v2.4h-2.4zM487.77 785.17h2.4v2.4h-2.4zM484.27 786.46h2.4v2.4h-2.4zM479.2 789h2.4v2.4h-2.4zM482.93 790.31h2.4v2.4h-2.4zM486.76 791.44h2.4v2.4h-2.4zM481.59 794.03h2.4v2.4h-2.4zM487.77 795.27h2.4v2.4h-2.4zM484.27 796.56h2.4v2.4h-2.4zM479.2 799.1h2.4v2.4h-2.4zM482.93 800.41h2.4v2.4h-2.4zM486.76 801.54h2.4v2.4h-2.4zM481.59 804.13h2.4v2.4h-2.4zM487.77 805.37h2.4v2.4h-2.4zM484.27 806.66h2.4v2.4h-2.4zM479.2 809.2h2.4v2.4h-2.4zM482.93 810.51h2.4v2.4h-2.4zM486.76 811.64h2.4v2.4h-2.4zM481.59 814.23h2.4v2.4h-2.4zM487.77 815.47h2.4v2.4h-2.4zM484.27 816.76h2.4v2.4h-2.4zM479.2 819.3h2.4v2.4h-2.4zM482.93 820.61h2.4v2.4h-2.4zM486.76 821.74h2.4v2.26h-2.4zM494.37 738.04h2.4v0.32h-2.4zM489.3 738.5h2.4v2.4h-2.4zM493.03 739.81h2.4v2.4h-2.4zM496.86 740.94h0.84v2.4h-0.84zM491.69 743.53h2.4v2.4h-2.4zM494.37 746.06h2.4v2.4h-2.4zM489.3 748.6h2.4v2.4h-2.4zM493.03 749.91h2.4v2.4h-2.4zM496.86 751.04h0.84v2.4h-0.84zM491.69 753.63h2.4v2.4h-2.4zM494.37 756.16h2.4v2.4h-2.4zM489.3 758.7h2.4v2.4h-2.4zM493.03 760.01h2.4v2.4h-2.4zM496.86 761.14h0.84v2.4h-0.84zM491.69 763.73h2.4v2.4h-2.4zM494.37 766.26h2.4v2.4h-2.4zM489.3 768.8h2.4v2.4h-2.4zM493.03 770.11h2.4v2.4h-2.4zM496.86 771.24h0.84v2.4h-0.84zM491.69 773.83h2.4v2.4h-2.4zM494.37 776.36h2.4v2.4h-2.4zM489.3 778.9h2.4v2.4h-2.4zM493.03 780.21h2.4v2.4h-2.4zM496.86 781.34h0.84v2.4h-0.84zM491.69 783.93h2.4v2.4h-2.4zM494.37 786.46h2.4v2.4h-2.4zM489.3 789h2.4v2.4h-2.4zM493.03 790.31h2.4v2.4h-2.4zM496.86 791.44h0.84v2.4h-0.84zM491.69 794.03h2.4v2.4h-2.4zM494.37 796.56h2.4v2.4h-2.4zM489.3 799.1h2.4v2.4h-2.4zM493.03 800.41h2.4v2.4h-2.4zM496.86 801.54h0.84v2.4h-0.84zM491.69 804.13h2.4v2.4h-2.4zM494.37 806.66h2.4v2.4h-2.4zM489.3 809.2h2.4v2.4h-2.4zM493.03 810.51h2.4v2.4h-2.4zM496.86 811.64h0.84v2.4h-0.84zM491.69 814.23h2.4v2.4h-2.4zM494.37 816.76h2.4v2.4h-2.4zM489.3 819.3h2.4v2.4h-2.4zM493.03 820.61h2.4v2.4h-2.4zM496.86 821.74h0.84v2.26h-0.84z" fill="#000"/>
<rect x="474.2" y="738.04" width="23.5" height="85.96" fill="none" stroke="#000" stroke-width="1.45"/>
<path d="M485.95 734.74 V741.34 M482.85 734.74 H489.05 M482.85 741.34 H489.05" stroke="#000" stroke-width="1.3" fill="none"/>
<rect x="497.7" y="724.36" width="23.5" height="99.64" fill="url(#brh)" stroke="#000" stroke-width="1.45"/>
<path d="M509.45 719.66 V729.06 M506.35 719.66 H512.55 M506.35 729.06 H512.55" stroke="#000" stroke-width="1.3" fill="none"/>
<rect x="556" y="678.54" width="23.5" height="145.46" fill="#fff"/>
<path d="M557.46 680.34h2.4v2.4h-2.4zM558.47 684.17h2.4v2.4h-2.4zM556 685.46h1.37v2.4h-1.37zM557.46 690.44h2.4v2.4h-2.4zM558.47 694.27h2.4v2.4h-2.4zM556 695.56h1.37v2.4h-1.37zM557.46 700.54h2.4v2.4h-2.4zM558.47 704.37h2.4v2.4h-2.4zM556 705.66h1.37v2.4h-1.37zM557.46 710.64h2.4v2.4h-2.4zM558.47 714.47h2.4v2.4h-2.4zM556 715.76h1.37v2.4h-1.37zM557.46 720.74h2.4v2.4h-2.4zM558.47 724.57h2.4v2.4h-2.4zM556 725.86h1.37v2.4h-1.37zM557.46 730.84h2.4v2.4h-2.4zM558.47 734.67h2.4v2.4h-2.4zM556 735.96h1.37v2.4h-1.37zM557.46 740.94h2.4v2.4h-2.4zM558.47 744.77h2.4v2.4h-2.4zM556 746.06h1.37v2.4h-1.37zM557.46 751.04h2.4v2.4h-2.4zM558.47 754.87h2.4v2.4h-2.4zM556 756.16h1.37v2.4h-1.37zM557.46 761.14h2.4v2.4h-2.4zM558.47 764.97h2.4v2.4h-2.4zM556 766.26h1.37v2.4h-1.37zM557.46 771.24h2.4v2.4h-2.4zM558.47 775.07h2.4v2.4h-2.4zM556 776.36h1.37v2.4h-1.37zM557.46 781.34h2.4v2.4h-2.4zM558.47 785.17h2.4v2.4h-2.4zM556 786.46h1.37v2.4h-1.37zM557.46 791.44h2.4v2.4h-2.4zM558.47 795.27h2.4v2.4h-2.4zM556 796.56h1.37v2.4h-1.37zM557.46 801.54h2.4v2.4h-2.4zM558.47 805.37h2.4v2.4h-2.4zM556 806.66h1.37v2.4h-1.37zM557.46 811.64h2.4v2.4h-2.4zM558.47 815.47h2.4v2.4h-2.4zM556 816.76h1.37v2.4h-1.37zM557.46 821.74h2.4v2.26h-2.4zM560 678.54h2.4v1.76h-2.4zM563.73 679.21h2.4v2.4h-2.4zM567.56 680.34h2.4v2.4h-2.4zM562.39 682.93h2.4v2.4h-2.4zM568.57 684.17h2.4v2.4h-2.4zM565.07 685.46h2.4v2.4h-2.4zM560 688h2.4v2.4h-2.4zM563.73 689.31h2.4v2.4h-2.4zM567.56 690.44h2.4v2.4h-2.4zM562.39 693.03h2.4v2.4h-2.4zM568.57 694.27h2.4v2.4h-2.4zM565.07 695.56h2.4v2.4h-2.4zM560 698.1h2.4v2.4h-2.4zM563.73 699.41h2.4v2.4h-2.4zM567.56 700.54h2.4v2.4h-2.4zM562.39 703.13h2.4v2.4h-2.4zM568.57 704.37h2.4v2.4h-2.4zM565.07 705.66h2.4v2.4h-2.4zM560 708.2h2.4v2.4h-2.4zM563.73 709.51h2.4v2.4h-2.4zM567.56 710.64h2.4v2.4h-2.4zM562.39 713.23h2.4v2.4h-2.4zM568.57 714.47h2.4v2.4h-2.4zM565.07 715.76h2.4v2.4h-2.4zM560 718.3h2.4v2.4h-2.4zM563.73 719.61h2.4v2.4h-2.4zM567.56 720.74h2.4v2.4h-2.4zM562.39 723.33h2.4v2.4h-2.4zM568.57 724.57h2.4v2.4h-2.4zM565.07 725.86h2.4v2.4h-2.4zM560 728.4h2.4v2.4h-2.4zM563.73 729.71h2.4v2.4h-2.4zM567.56 730.84h2.4v2.4h-2.4zM562.39 733.43h2.4v2.4h-2.4zM568.57 734.67h2.4v2.4h-2.4zM565.07 735.96h2.4v2.4h-2.4zM560 738.5h2.4v2.4h-2.4zM563.73 739.81h2.4v2.4h-2.4zM567.56 740.94h2.4v2.4h-2.4zM562.39 743.53h2.4v2.4h-2.4zM568.57 744.77h2.4v2.4h-2.4zM565.07 746.06h2.4v2.4h-2.4zM560 748.6h2.4v2.4h-2.4zM563.73 749.91h2.4v2.4h-2.4zM567.56 751.04h2.4v2.4h-2.4zM562.39 753.63h2.4v2.4h-2.4zM568.57 754.87h2.4v2.4h-2.4zM565.07 756.16h2.4v2.4h-2.4zM560 758.7h2.4v2.4h-2.4zM563.73 760.01h2.4v2.4h-2.4zM567.56 761.14h2.4v2.4h-2.4zM562.39 763.73h2.4v2.4h-2.4zM568.57 764.97h2.4v2.4h-2.4zM565.07 766.26h2.4v2.4h-2.4zM560 768.8h2.4v2.4h-2.4zM563.73 770.11h2.4v2.4h-2.4zM567.56 771.24h2.4v2.4h-2.4zM562.39 773.83h2.4v2.4h-2.4zM568.57 775.07h2.4v2.4h-2.4zM565.07 776.36h2.4v2.4h-2.4zM560 778.9h2.4v2.4h-2.4zM563.73 780.21h2.4v2.4h-2.4zM567.56 781.34h2.4v2.4h-2.4zM562.39 783.93h2.4v2.4h-2.4zM568.57 785.17h2.4v2.4h-2.4zM565.07 786.46h2.4v2.4h-2.4zM560 789h2.4v2.4h-2.4zM563.73 790.31h2.4v2.4h-2.4zM567.56 791.44h2.4v2.4h-2.4zM562.39 794.03h2.4v2.4h-2.4zM568.57 795.27h2.4v2.4h-2.4zM565.07 796.56h2.4v2.4h-2.4zM560 799.1h2.4v2.4h-2.4zM563.73 800.41h2.4v2.4h-2.4zM567.56 801.54h2.4v2.4h-2.4zM562.39 804.13h2.4v2.4h-2.4zM568.57 805.37h2.4v2.4h-2.4zM565.07 806.66h2.4v2.4h-2.4zM560 809.2h2.4v2.4h-2.4zM563.73 810.51h2.4v2.4h-2.4zM567.56 811.64h2.4v2.4h-2.4zM562.39 814.23h2.4v2.4h-2.4zM568.57 815.47h2.4v2.4h-2.4zM565.07 816.76h2.4v2.4h-2.4zM560 819.3h2.4v2.4h-2.4zM563.73 820.61h2.4v2.4h-2.4zM567.56 821.74h2.4v2.26h-2.4zM570.1 678.54h2.4v1.76h-2.4zM573.83 679.21h2.4v2.4h-2.4zM577.66 680.34h1.84v2.4h-1.84zM572.49 682.93h2.4v2.4h-2.4zM578.67 684.17h0.83v2.4h-0.83zM575.17 685.46h2.4v2.4h-2.4zM570.1 688h2.4v2.4h-2.4zM573.83 689.31h2.4v2.4h-2.4zM577.66 690.44h1.84v2.4h-1.84zM572.49 693.03h2.4v2.4h-2.4zM578.67 694.27h0.83v2.4h-0.83zM575.17 695.56h2.4v2.4h-2.4zM570.1 698.1h2.4v2.4h-2.4zM573.83 699.41h2.4v2.4h-2.4zM577.66 700.54h1.84v2.4h-1.84zM572.49 703.13h2.4v2.4h-2.4zM578.67 704.37h0.83v2.4h-0.83zM575.17 705.66h2.4v2.4h-2.4zM570.1 708.2h2.4v2.4h-2.4zM573.83 709.51h2.4v2.4h-2.4zM577.66 710.64h1.84v2.4h-1.84zM572.49 713.23h2.4v2.4h-2.4zM578.67 714.47h0.83v2.4h-0.83zM575.17 715.76h2.4v2.4h-2.4zM570.1 718.3h2.4v2.4h-2.4zM573.83 719.61h2.4v2.4h-2.4zM577.66 720.74h1.84v2.4h-1.84zM572.49 723.33h2.4v2.4h-2.4zM578.67 724.57h0.83v2.4h-0.83zM575.17 725.86h2.4v2.4h-2.4zM570.1 728.4h2.4v2.4h-2.4zM573.83 729.71h2.4v2.4h-2.4zM577.66 730.84h1.84v2.4h-1.84zM572.49 733.43h2.4v2.4h-2.4zM578.67 734.67h0.83v2.4h-0.83zM575.17 735.96h2.4v2.4h-2.4zM570.1 738.5h2.4v2.4h-2.4zM573.83 739.81h2.4v2.4h-2.4zM577.66 740.94h1.84v2.4h-1.84zM572.49 743.53h2.4v2.4h-2.4zM578.67 744.77h0.83v2.4h-0.83zM575.17 746.06h2.4v2.4h-2.4zM570.1 748.6h2.4v2.4h-2.4zM573.83 749.91h2.4v2.4h-2.4zM577.66 751.04h1.84v2.4h-1.84zM572.49 753.63h2.4v2.4h-2.4zM578.67 754.87h0.83v2.4h-0.83zM575.17 756.16h2.4v2.4h-2.4zM570.1 758.7h2.4v2.4h-2.4zM573.83 760.01h2.4v2.4h-2.4zM577.66 761.14h1.84v2.4h-1.84zM572.49 763.73h2.4v2.4h-2.4zM578.67 764.97h0.83v2.4h-0.83zM575.17 766.26h2.4v2.4h-2.4zM570.1 768.8h2.4v2.4h-2.4zM573.83 770.11h2.4v2.4h-2.4zM577.66 771.24h1.84v2.4h-1.84zM572.49 773.83h2.4v2.4h-2.4zM578.67 775.07h0.83v2.4h-0.83zM575.17 776.36h2.4v2.4h-2.4zM570.1 778.9h2.4v2.4h-2.4zM573.83 780.21h2.4v2.4h-2.4zM577.66 781.34h1.84v2.4h-1.84zM572.49 783.93h2.4v2.4h-2.4zM578.67 785.17h0.83v2.4h-0.83zM575.17 786.46h2.4v2.4h-2.4zM570.1 789h2.4v2.4h-2.4zM573.83 790.31h2.4v2.4h-2.4zM577.66 791.44h1.84v2.4h-1.84zM572.49 794.03h2.4v2.4h-2.4zM578.67 795.27h0.83v2.4h-0.83zM575.17 796.56h2.4v2.4h-2.4zM570.1 799.1h2.4v2.4h-2.4zM573.83 800.41h2.4v2.4h-2.4zM577.66 801.54h1.84v2.4h-1.84zM572.49 804.13h2.4v2.4h-2.4zM578.67 805.37h0.83v2.4h-0.83zM575.17 806.66h2.4v2.4h-2.4zM570.1 809.2h2.4v2.4h-2.4zM573.83 810.51h2.4v2.4h-2.4zM577.66 811.64h1.84v2.4h-1.84zM572.49 814.23h2.4v2.4h-2.4zM578.67 815.47h0.83v2.4h-0.83zM575.17 816.76h2.4v2.4h-2.4zM570.1 819.3h2.4v2.4h-2.4zM573.83 820.61h2.4v2.4h-2.4zM577.66 821.74h1.84v2.26h-1.84z" fill="#000"/>
<rect x="556" y="678.54" width="23.5" height="145.46" fill="none" stroke="#000" stroke-width="1.45"/>
<path d="M567.75 676.34 V680.74 M564.65 676.34 H570.85 M564.65 680.74 H570.85" stroke="#000" stroke-width="1.3" fill="none"/>
<rect x="579.5" y="769.25" width="23.5" height="54.75" fill="url(#brh)" stroke="#000" stroke-width="1.45"/>
<path d="M591.25 768.25 V770.25 M588.15 768.25 H594.35 M588.15 770.25 H594.35" stroke="#000" stroke-width="1.3" fill="none"/>
<path d="M375 661.6 V824 M370.5 824 H375 M370.5 800.8 H375 M370.5 777.6 H375 M370.5 754.4 H375 M370.5 731.2 H375 M370.5 708 H375 M370.5 684.8 H375 M370.5 661.6 H375 M375 824 H620.4 M375 824 V828.5 M456.8 824 V828.5 M538.6 824 V828.5 M620.4 824 V828.5" stroke="#7f7f7f" stroke-width="1.4" fill="none"/>
<text x="363.4" y="828.6" text-anchor="end" class="t">0</text>
<text x="363.4" y="805.4" text-anchor="end" class="t">2</text>
<text x="363.4" y="782.2" text-anchor="end" class="t">4</text>
<text x="363.4" y="759" text-anchor="end" class="t">6</text>
<text x="363.4" y="735.8" text-anchor="end" class="t">8</text>
<text x="363.4" y="712.6" text-anchor="end" class="t">10</text>
<text x="363.4" y="689.4" text-anchor="end" class="t">12</text>
<text x="363.4" y="666.2" text-anchor="end" class="t">14</text>
<text x="415.9" y="845.3" text-anchor="middle" class="t">0 dpi</text>
<text x="497.7" y="845.3" text-anchor="middle" class="t">3 dpi</text>
<text x="579.5" y="845.3" text-anchor="middle" class="t">10 dpi</text>
<rect x="636.75" y="731.05" width="7.1" height="7.1" fill="#111" stroke="#000" stroke-width="1.3"/>
<rect x="638.1" y="734.4" width="4" height="3" fill="#fff"/>
<rect x="636.75" y="753.95" width="7.1" height="7.1" fill="#fff" stroke="#000" stroke-width="1.3"/>
<path d="M639.6 760.3 L643.1 756.8" stroke="#000" stroke-width="1"/>
<text x="647.1" y="738.5" class="lg" textLength="13.4" lengthAdjust="spacingAndGlyphs">C4</text>
<text x="647.8" y="761.4" class="lg" textLength="6.0" lengthAdjust="spacingAndGlyphs">K</text>
<text transform="translate(397.17 681.6) scale(0.26096 0.25103)" class="L">h</text>
<rect x="0.5" y="857.7" width="331" height="199.4" fill="none" stroke="#000" stroke-width="1.4"/>
<rect x="53.35" y="1002.96" width="24" height="15.24" fill="#fff"/>
<path d="M57.32 1002.96h2.4v0.58h-2.4zM53.35 1003.7h1.25v2.4h-1.25zM55.97 1005.02h2.4v2.4h-2.4zM59.84 1006.17h2.4v2.4h-2.4zM54.62 1008.78h2.4v2.4h-2.4zM60.85 1010.03h2.4v2.4h-2.4zM57.32 1011.34h2.4v2.4h-2.4zM53.35 1013.9h1.25v2.4h-1.25zM55.97 1015.22h2.4v2.4h-2.4zM59.84 1016.37h2.4v1.83h-2.4zM67.52 1002.96h2.4v0.58h-2.4zM62.4 1003.7h2.4v2.4h-2.4zM66.17 1005.02h2.4v2.4h-2.4zM70.04 1006.17h2.4v2.4h-2.4zM64.82 1008.78h2.4v2.4h-2.4zM71.05 1010.03h2.4v2.4h-2.4zM67.52 1011.34h2.4v2.4h-2.4zM62.4 1013.9h2.4v2.4h-2.4zM66.17 1015.22h2.4v2.4h-2.4zM70.04 1016.37h2.4v1.83h-2.4zM72.6 1003.7h2.4v2.4h-2.4zM76.37 1005.02h0.98v2.4h-0.98zM75.02 1008.78h2.33v2.4h-2.33zM72.6 1013.9h2.4v2.4h-2.4zM76.37 1015.22h0.98v2.4h-0.98z" fill="#000"/>
<rect x="53.35" y="1002.96" width="24" height="15.24" fill="none" stroke="#000" stroke-width="1.45"/>
<path d="M62.25 1002.96 H68.45" stroke="#000" stroke-width="1.3" fill="none"/>
<rect x="77.35" y="1002.96" width="24" height="15.24" fill="url(#bri)" stroke="#000" stroke-width="1.45"/>
<path d="M86.25 1002.96 H92.45" stroke="#000" stroke-width="1.3" fill="none"/>
<rect x="136.45" y="952.82" width="24" height="65.38" fill="#fff"/>
<path d="M137.57 954.02h2.4v2.4h-2.4zM141.44 955.17h2.4v2.4h-2.4zM136.45 957.78h2.17v2.4h-2.17zM142.45 959.03h2.4v2.4h-2.4zM138.92 960.34h2.4v2.4h-2.4zM137.57 964.22h2.4v2.4h-2.4zM141.44 965.37h2.4v2.4h-2.4zM136.45 967.98h2.17v2.4h-2.17zM142.45 969.23h2.4v2.4h-2.4zM138.92 970.54h2.4v2.4h-2.4zM137.57 974.42h2.4v2.4h-2.4zM141.44 975.57h2.4v2.4h-2.4zM136.45 978.18h2.17v2.4h-2.17zM142.45 979.43h2.4v2.4h-2.4zM138.92 980.74h2.4v2.4h-2.4zM137.57 984.62h2.4v2.4h-2.4zM141.44 985.77h2.4v2.4h-2.4zM136.45 988.38h2.17v2.4h-2.17zM142.45 989.63h2.4v2.4h-2.4zM138.92 990.94h2.4v2.4h-2.4zM137.57 994.82h2.4v2.4h-2.4zM141.44 995.97h2.4v2.4h-2.4zM136.45 998.58h2.17v2.4h-2.17zM142.45 999.83h2.4v2.4h-2.4zM138.92 1001.14h2.4v2.4h-2.4zM137.57 1005.02h2.4v2.4h-2.4zM141.44 1006.17h2.4v2.4h-2.4zM136.45 1008.78h2.17v2.4h-2.17zM142.45 1010.03h2.4v2.4h-2.4zM138.92 1011.34h2.4v2.4h-2.4zM137.57 1015.22h2.4v2.4h-2.4zM141.44 1016.37h2.4v1.83h-2.4zM144 952.82h2.4v2.28h-2.4zM147.77 954.02h2.4v2.4h-2.4zM151.64 955.17h2.4v2.4h-2.4zM146.42 957.78h2.4v2.4h-2.4zM152.65 959.03h2.4v2.4h-2.4zM149.12 960.34h2.4v2.4h-2.4zM144 962.9h2.4v2.4h-2.4zM147.77 964.22h2.4v2.4h-2.4zM151.64 965.37h2.4v2.4h-2.4zM146.42 967.98h2.4v2.4h-2.4zM152.65 969.23h2.4v2.4h-2.4zM149.12 970.54h2.4v2.4h-2.4zM144 973.1h2.4v2.4h-2.4zM147.77 974.42h2.4v2.4h-2.4zM151.64 975.57h2.4v2.4h-2.4zM146.42 978.18h2.4v2.4h-2.4zM152.65 979.43h2.4v2.4h-2.4zM149.12 980.74h2.4v2.4h-2.4zM144 983.3h2.4v2.4h-2.4zM147.77 984.62h2.4v2.4h-2.4zM151.64 985.77h2.4v2.4h-2.4zM146.42 988.38h2.4v2.4h-2.4zM152.65 989.63h2.4v2.4h-2.4zM149.12 990.94h2.4v2.4h-2.4zM144 993.5h2.4v2.4h-2.4zM147.77 994.82h2.4v2.4h-2.4zM151.64 995.97h2.4v2.4h-2.4zM146.42 998.58h2.4v2.4h-2.4zM152.65 999.83h2.4v2.4h-2.4zM149.12 1001.14h2.4v2.4h-2.4zM144 1003.7h2.4v2.4h-2.4zM147.77 1005.02h2.4v2.4h-2.4zM151.64 1006.17h2.4v2.4h-2.4zM146.42 1008.78h2.4v2.4h-2.4zM152.65 1010.03h2.4v2.4h-2.4zM149.12 1011.34h2.4v2.4h-2.4zM144 1013.9h2.4v2.4h-2.4zM147.77 1015.22h2.4v2.4h-2.4zM151.64 1016.37h2.4v1.83h-2.4zM154.2 952.82h2.4v2.28h-2.4zM157.97 954.02h2.4v2.4h-2.4zM156.62 957.78h2.4v2.4h-2.4zM159.32 960.34h1.13v2.4h-1.13zM154.2 962.9h2.4v2.4h-2.4zM157.97 964.22h2.4v2.4h-2.4zM156.62 967.98h2.4v2.4h-2.4zM159.32 970.54h1.13v2.4h-1.13zM154.2 973.1h2.4v2.4h-2.4zM157.97 974.42h2.4v2.4h-2.4zM156.62 978.18h2.4v2.4h-2.4zM159.32 980.74h1.13v2.4h-1.13zM154.2 983.3h2.4v2.4h-2.4zM157.97 984.62h2.4v2.4h-2.4zM156.62 988.38h2.4v2.4h-2.4zM159.32 990.94h1.13v2.4h-1.13zM154.2 993.5h2.4v2.4h-2.4zM157.97 994.82h2.4v2.4h-2.4zM156.62 998.58h2.4v2.4h-2.4zM159.32 1001.14h1.13v2.4h-1.13zM154.2 1003.7h2.4v2.4h-2.4zM157.97 1005.02h2.4v2.4h-2.4zM156.62 1008.78h2.4v2.4h-2.4zM159.32 1011.34h1.13v2.4h-1.13zM154.2 1013.9h2.4v2.4h-2.4zM157.97 1015.22h2.4v2.4h-2.4z" fill="#000"/>
<rect x="136.45" y="952.82" width="24" height="65.38" fill="none" stroke="#000" stroke-width="1.45"/>
<path d="M148.45 948.42 V957.22 M145.35 948.42 H151.55 M145.35 957.22 H151.55" stroke="#000" stroke-width="1.3" fill="none"/>
<rect x="160.45" y="917.46" width="24" height="100.74" fill="url(#bri)" stroke="#000" stroke-width="1.45"/>
<path d="M172.45 911.26 V923.66 M169.35 911.26 H175.55 M169.35 923.66 H175.55" stroke="#000" stroke-width="1.3" fill="none"/>
<rect x="219.55" y="880.58" width="24" height="137.62" fill="#fff"/>
<path d="M220.52 880.58h2.4v0.56h-2.4zM219.55 882.62h2.02v2.4h-2.02zM223.04 883.77h2.4v2.4h-2.4zM219.55 886.38h0.67v2.4h-0.67zM224.05 887.63h2.4v2.4h-2.4zM220.52 888.94h2.4v2.4h-2.4zM219.55 892.82h2.02v2.4h-2.02zM223.04 893.97h2.4v2.4h-2.4zM219.55 896.58h0.67v2.4h-0.67zM224.05 897.83h2.4v2.4h-2.4zM220.52 899.14h2.4v2.4h-2.4zM219.55 903.02h2.02v2.4h-2.02zM223.04 904.17h2.4v2.4h-2.4zM219.55 906.78h0.67v2.4h-0.67zM224.05 908.03h2.4v2.4h-2.4zM220.52 909.34h2.4v2.4h-2.4zM219.55 913.22h2.02v2.4h-2.02zM223.04 914.37h2.4v2.4h-2.4zM219.55 916.98h0.67v2.4h-0.67zM224.05 918.23h2.4v2.4h-2.4zM220.52 919.54h2.4v2.4h-2.4zM219.55 923.42h2.02v2.4h-2.02zM223.04 924.57h2.4v2.4h-2.4zM219.55 927.18h0.67v2.4h-0.67zM224.05 928.43h2.4v2.4h-2.4zM220.52 929.74h2.4v2.4h-2.4zM219.55 933.62h2.02v2.4h-2.02zM223.04 934.77h2.4v2.4h-2.4zM219.55 937.38h0.67v2.4h-0.67zM224.05 938.63h2.4v2.4h-2.4zM220.52 939.94h2.4v2.4h-2.4zM219.55 943.82h2.02v2.4h-2.02zM223.04 944.97h2.4v2.4h-2.4zM219.55 947.58h0.67v2.4h-0.67zM224.05 948.83h2.4v2.4h-2.4zM220.52 950.14h2.4v2.4h-2.4zM219.55 954.02h2.02v2.4h-2.02zM223.04 955.17h2.4v2.4h-2.4zM219.55 957.78h0.67v2.4h-0.67zM224.05 959.03h2.4v2.4h-2.4zM220.52 960.34h2.4v2.4h-2.4zM219.55 964.22h2.02v2.4h-2.02zM223.04 965.37h2.4v2.4h-2.4zM219.55 967.98h0.67v2.4h-0.67zM224.05 969.23h2.4v2.4h-2.4zM220.52 970.54h2.4v2.4h-2.4zM219.55 974.42h2.02v2.4h-2.02zM223.04 975.57h2.4v2.4h-2.4zM219.55 978.18h0.67v2.4h-0.67zM224.05 979.43h2.4v2.4h-2.4zM220.52 980.74h2.4v2.4h-2.4zM219.55 984.62h2.02v2.4h-2.02zM223.04 985.77h2.4v2.4h-2.4zM219.55 988.38h0.67v2.4h-0.67zM224.05 989.63h2.4v2.4h-2.4zM220.52 990.94h2.4v2.4h-2.4zM219.55 994.82h2.02v2.4h-2.02zM223.04 995.97h2.4v2.4h-2.4zM219.55 998.58h0.67v2.4h-0.67zM224.05 999.83h2.4v2.4h-2.4zM220.52 1001.14h2.4v2.4h-2.4zM219.55 1005.02h2.02v2.4h-2.02zM223.04 1006.17h2.4v2.4h-2.4zM219.55 1008.78h0.67v2.4h-0.67zM224.05 1010.03h2.4v2.4h-2.4zM220.52 1011.34h2.4v2.4h-2.4zM219.55 1015.22h2.02v2.4h-2.02zM223.04 1016.37h2.4v1.83h-2.4zM230.72 880.58h2.4v0.56h-2.4zM225.6 881.3h2.4v2.4h-2.4zM229.37 882.62h2.4v2.4h-2.4zM233.24 883.77h2.4v2.4h-2.4zM228.02 886.38h2.4v2.4h-2.4zM234.25 887.63h2.4v2.4h-2.4zM230.72 888.94h2.4v2.4h-2.4zM225.6 891.5h2.4v2.4h-2.4zM229.37 892.82h2.4v2.4h-2.4zM233.24 893.97h2.4v2.4h-2.4zM228.02 896.58h2.4v2.4h-2.4zM234.25 897.83h2.4v2.4h-2.4zM230.72 899.14h2.4v2.4h-2.4zM225.6 901.7h2.4v2.4h-2.4zM229.37 903.02h2.4v2.4h-2.4zM233.24 904.17h2.4v2.4h-2.4zM228.02 906.78h2.4v2.4h-2.4zM234.25 908.03h2.4v2.4h-2.4zM230.72 909.34h2.4v2.4h-2.4zM225.6 911.9h2.4v2.4h-2.4zM229.37 913.22h2.4v2.4h-2.4zM233.24 914.37h2.4v2.4h-2.4zM228.02 916.98h2.4v2.4h-2.4zM234.25 918.23h2.4v2.4h-2.4zM230.72 919.54h2.4v2.4h-2.4zM225.6 922.1h2.4v2.4h-2.4zM229.37 923.42h2.4v2.4h-2.4zM233.24 924.57h2.4v2.4h-2.4zM228.02 927.18h2.4v2.4h-2.4zM234.25 928.43h2.4v2.4h-2.4zM230.72 929.74h2.4v2.4h-2.4zM225.6 932.3h2.4v2.4h-2.4zM229.37 933.62h2.4v2.4h-2.4zM233.24 934.77h2.4v2.4h-2.4zM228.02 937.38h2.4v2.4h-2.4zM234.25 938.63h2.4v2.4h-2.4zM230.72 939.94h2.4v2.4h-2.4zM225.6 942.5h2.4v2.4h-2.4zM229.37 943.82h2.4v2.4h-2.4zM233.24 944.97h2.4v2.4h-2.4zM228.02 947.58h2.4v2.4h-2.4zM234.25 948.83h2.4v2.4h-2.4zM230.72 950.14h2.4v2.4h-2.4zM225.6 952.7h2.4v2.4h-2.4zM229.37 954.02h2.4v2.4h-2.4zM233.24 955.17h2.4v2.4h-2.4zM228.02 957.78h2.4v2.4h-2.4zM234.25 959.03h2.4v2.4h-2.4zM230.72 960.34h2.4v2.4h-2.4zM225.6 962.9h2.4v2.4h-2.4zM229.37 964.22h2.4v2.4h-2.4zM233.24 965.37h2.4v2.4h-2.4zM228.02 967.98h2.4v2.4h-2.4zM234.25 969.23h2.4v2.4h-2.4zM230.72 970.54h2.4v2.4h-2.4zM225.6 973.1h2.4v2.4h-2.4zM229.37 974.42h2.4v2.4h-2.4zM233.24 975.57h2.4v2.4h-2.4zM228.02 978.18h2.4v2.4h-2.4zM234.25 979.43h2.4v2.4h-2.4zM230.72 980.74h2.4v2.4h-2.4zM225.6 983.3h2.4v2.4h-2.4zM229.37 984.62h2.4v2.4h-2.4zM233.24 985.77h2.4v2.4h-2.4zM228.02 988.38h2.4v2.4h-2.4zM234.25 989.63h2.4v2.4h-2.4zM230.72 990.94h2.4v2.4h-2.4zM225.6 993.5h2.4v2.4h-2.4zM229.37 994.82h2.4v2.4h-2.4zM233.24 995.97h2.4v2.4h-2.4zM228.02 998.58h2.4v2.4h-2.4zM234.25 999.83h2.4v2.4h-2.4zM230.72 1001.14h2.4v2.4h-2.4zM225.6 1003.7h2.4v2.4h-2.4zM229.37 1005.02h2.4v2.4h-2.4zM233.24 1006.17h2.4v2.4h-2.4zM228.02 1008.78h2.4v2.4h-2.4zM234.25 1010.03h2.4v2.4h-2.4zM230.72 1011.34h2.4v2.4h-2.4zM225.6 1013.9h2.4v2.4h-2.4zM229.37 1015.22h2.4v2.4h-2.4zM233.24 1016.37h2.4v1.83h-2.4zM240.92 880.58h2.4v0.56h-2.4zM235.8 881.3h2.4v2.4h-2.4zM239.57 882.62h2.4v2.4h-2.4zM238.22 886.38h2.4v2.4h-2.4zM240.92 888.94h2.4v2.4h-2.4zM235.8 891.5h2.4v2.4h-2.4zM239.57 892.82h2.4v2.4h-2.4zM238.22 896.58h2.4v2.4h-2.4zM240.92 899.14h2.4v2.4h-2.4zM235.8 901.7h2.4v2.4h-2.4zM239.57 903.02h2.4v2.4h-2.4zM238.22 906.78h2.4v2.4h-2.4zM240.92 909.34h2.4v2.4h-2.4zM235.8 911.9h2.4v2.4h-2.4zM239.57 913.22h2.4v2.4h-2.4zM238.22 916.98h2.4v2.4h-2.4zM240.92 919.54h2.4v2.4h-2.4zM235.8 922.1h2.4v2.4h-2.4zM239.57 923.42h2.4v2.4h-2.4zM238.22 927.18h2.4v2.4h-2.4zM240.92 929.74h2.4v2.4h-2.4zM235.8 932.3h2.4v2.4h-2.4zM239.57 933.62h2.4v2.4h-2.4zM238.22 937.38h2.4v2.4h-2.4zM240.92 939.94h2.4v2.4h-2.4zM235.8 942.5h2.4v2.4h-2.4zM239.57 943.82h2.4v2.4h-2.4zM238.22 947.58h2.4v2.4h-2.4zM240.92 950.14h2.4v2.4h-2.4zM235.8 952.7h2.4v2.4h-2.4zM239.57 954.02h2.4v2.4h-2.4zM238.22 957.78h2.4v2.4h-2.4zM240.92 960.34h2.4v2.4h-2.4zM235.8 962.9h2.4v2.4h-2.4zM239.57 964.22h2.4v2.4h-2.4zM238.22 967.98h2.4v2.4h-2.4zM240.92 970.54h2.4v2.4h-2.4zM235.8 973.1h2.4v2.4h-2.4zM239.57 974.42h2.4v2.4h-2.4zM238.22 978.18h2.4v2.4h-2.4zM240.92 980.74h2.4v2.4h-2.4zM235.8 983.3h2.4v2.4h-2.4zM239.57 984.62h2.4v2.4h-2.4zM238.22 988.38h2.4v2.4h-2.4zM240.92 990.94h2.4v2.4h-2.4zM235.8 993.5h2.4v2.4h-2.4zM239.57 994.82h2.4v2.4h-2.4zM238.22 998.58h2.4v2.4h-2.4zM240.92 1001.14h2.4v2.4h-2.4zM235.8 1003.7h2.4v2.4h-2.4zM239.57 1005.02h2.4v2.4h-2.4zM238.22 1008.78h2.4v2.4h-2.4zM240.92 1011.34h2.4v2.4h-2.4zM235.8 1013.9h2.4v2.4h-2.4zM239.57 1015.22h2.4v2.4h-2.4z" fill="#000"/>
<rect x="219.55" y="880.58" width="24" height="137.62" fill="none" stroke="#000" stroke-width="1.45"/>
<path d="M231.55 877.28 V883.88 M228.45 877.28 H234.65 M228.45 883.88 H234.65" stroke="#000" stroke-width="1.3" fill="none"/>
<rect x="243.55" y="958.31" width="24" height="59.89" fill="url(#bri)" stroke="#000" stroke-width="1.45"/>
<path d="M255.55 957.31 V959.31 M252.45 957.31 H258.65 M252.45 959.31 H258.65" stroke="#000" stroke-width="1.3" fill="none"/>
<path d="M35.8 865.8 V1018.2 M31.3 1018.2 H35.8 M31.3 987.72 H35.8 M31.3 957.24 H35.8 M31.3 926.76 H35.8 M31.3 896.28 H35.8 M31.3 865.8 H35.8 M35.8 1018.2 H285.1 M35.8 1018.2 V1022.7 M118.9 1018.2 V1022.7 M202 1018.2 V1022.7 M285.1 1018.2 V1022.7" stroke="#7f7f7f" stroke-width="1.4" fill="none"/>
<text x="24.2" y="1022.8" text-anchor="end" class="t">0</text>
<text x="24.2" y="992.32" text-anchor="end" class="t">2</text>
<text x="24.2" y="961.84" text-anchor="end" class="t">4</text>
<text x="24.2" y="931.36" text-anchor="end" class="t">6</text>
<text x="24.2" y="900.88" text-anchor="end" class="t">8</text>
<text x="24.2" y="870.4" text-anchor="end" class="t">10</text>
<text x="77.35" y="1039.5" text-anchor="middle" class="t">0 dpi</text>
<text x="160.45" y="1039.5" text-anchor="middle" class="t">3 dpi</text>
<text x="243.55" y="1039.5" text-anchor="middle" class="t">10 dpi</text>
<rect x="302.65" y="942.55" width="7.1" height="7.1" fill="#fff" stroke="#000" stroke-width="1.3"/>
<rect x="305" y="944.9" width="2.6" height="2.6" fill="#000"/>
<rect x="302.65" y="965.95" width="7.1" height="7.1" fill="#fff" stroke="#000" stroke-width="1.3"/>
<path d="M305.5 972.3 L309 968.8" stroke="#000" stroke-width="1"/>
<text x="313" y="950" class="lg" textLength="13.4" lengthAdjust="spacingAndGlyphs">C4</text>
<text x="313.7" y="973.4" class="lg" textLength="6.0" lengthAdjust="spacingAndGlyphs">K</text>
<rect x="60.9" y="886.7" width="3.2" height="12.95" rx="0.6" fill="#000"/>
<circle cx="62.75" cy="883.45" r="2.05" fill="#000"/>
<rect x="340.5" y="857.5" width="342.8" height="199.9" fill="none" stroke="#000" stroke-width="1.4"/>
<rect x="390.55" y="1011.91" width="24" height="15.59" fill="#fff"/>
<path d="M392.5 1011.91h2.4v1.39h-2.4zM391.15 1014.77h2.4v2.4h-2.4zM395 1015.9h2.4v2.4h-2.4zM390.55 1018.5h1.66v2.4h-1.66zM396.01 1019.75h2.4v2.4h-2.4zM392.5 1021.05h2.4v2.4h-2.4zM391.15 1024.92h2.4v2.4h-2.4zM395 1026.05h2.4v1.45h-2.4zM402.65 1011.91h2.4v1.39h-2.4zM397.55 1013.45h2.4v2.4h-2.4zM401.3 1014.77h2.4v2.4h-2.4zM405.15 1015.9h2.4v2.4h-2.4zM399.96 1018.5h2.4v2.4h-2.4zM406.16 1019.75h2.4v2.4h-2.4zM402.65 1021.05h2.4v2.4h-2.4zM397.55 1023.6h2.4v2.4h-2.4zM401.3 1024.92h2.4v2.4h-2.4zM405.15 1026.05h2.4v1.45h-2.4zM412.8 1011.91h1.75v1.39h-1.75zM407.7 1013.45h2.4v2.4h-2.4zM411.45 1014.77h2.4v2.4h-2.4zM410.11 1018.5h2.4v2.4h-2.4zM412.8 1021.05h1.75v2.4h-1.75zM407.7 1023.6h2.4v2.4h-2.4zM411.45 1024.92h2.4v2.4h-2.4z" fill="#000"/>
<rect x="390.55" y="1011.91" width="24" height="15.59" fill="none" stroke="#000" stroke-width="1.45"/>
<path d="M399.45 1011.91 H405.65" stroke="#000" stroke-width="1.3" fill="none"/>
<rect x="414.55" y="1011.91" width="24" height="15.59" fill="url(#brj)" stroke="#000" stroke-width="1.45"/>
<path d="M423.45 1011.91 H429.65" stroke="#000" stroke-width="1.3" fill="none"/>
<rect x="473.95" y="944.41" width="24" height="83.09" fill="#fff"/>
<path d="M473.95 944.41h0.8v1.71h-0.8zM476.2 944.85h2.4v2.4h-2.4zM477.21 948.7h2.4v2.4h-2.4zM473.95 950h2.15v2.4h-2.15zM473.95 953.87h0.8v2.4h-0.8zM476.2 955h2.4v2.4h-2.4zM477.21 958.85h2.4v2.4h-2.4zM473.95 960.15h2.15v2.4h-2.15zM473.95 964.02h0.8v2.4h-0.8zM476.2 965.15h2.4v2.4h-2.4zM477.21 969h2.4v2.4h-2.4zM473.95 970.3h2.15v2.4h-2.15zM473.95 974.17h0.8v2.4h-0.8zM476.2 975.3h2.4v2.4h-2.4zM477.21 979.15h2.4v2.4h-2.4zM473.95 980.45h2.15v2.4h-2.15zM473.95 984.32h0.8v2.4h-0.8zM476.2 985.45h2.4v2.4h-2.4zM477.21 989.3h2.4v2.4h-2.4zM473.95 990.6h2.15v2.4h-2.15zM473.95 994.47h0.8v2.4h-0.8zM476.2 995.6h2.4v2.4h-2.4zM477.21 999.45h2.4v2.4h-2.4zM473.95 1000.75h2.15v2.4h-2.15zM473.95 1004.62h0.8v2.4h-0.8zM476.2 1005.75h2.4v2.4h-2.4zM477.21 1009.6h2.4v2.4h-2.4zM473.95 1010.9h2.15v2.4h-2.15zM473.95 1014.77h0.8v2.4h-0.8zM476.2 1015.9h2.4v2.4h-2.4zM477.21 1019.75h2.4v2.4h-2.4zM473.95 1021.05h2.15v2.4h-2.15zM473.95 1024.92h0.8v2.4h-0.8zM476.2 1026.05h2.4v1.45h-2.4zM478.75 944.41h2.4v0.39h-2.4zM482.5 944.41h2.4v1.71h-2.4zM486.35 944.85h2.4v2.4h-2.4zM481.16 947.45h2.4v2.4h-2.4zM487.36 948.7h2.4v2.4h-2.4zM483.85 950h2.4v2.4h-2.4zM478.75 952.55h2.4v2.4h-2.4zM482.5 953.87h2.4v2.4h-2.4zM486.35 955h2.4v2.4h-2.4zM481.16 957.6h2.4v2.4h-2.4zM487.36 958.85h2.4v2.4h-2.4zM483.85 960.15h2.4v2.4h-2.4zM478.75 962.7h2.4v2.4h-2.4zM482.5 964.02h2.4v2.4h-2.4zM486.35 965.15h2.4v2.4h-2.4zM481.16 967.75h2.4v2.4h-2.4zM487.36 969h2.4v2.4h-2.4zM483.85 970.3h2.4v2.4h-2.4zM478.75 972.85h2.4v2.4h-2.4zM482.5 974.17h2.4v2.4h-2.4zM486.35 975.3h2.4v2.4h-2.4zM481.16 977.9h2.4v2.4h-2.4zM487.36 979.15h2.4v2.4h-2.4zM483.85 980.45h2.4v2.4h-2.4zM478.75 983h2.4v2.4h-2.4zM482.5 984.32h2.4v2.4h-2.4zM486.35 985.45h2.4v2.4h-2.4zM481.16 988.05h2.4v2.4h-2.4zM487.36 989.3h2.4v2.4h-2.4zM483.85 990.6h2.4v2.4h-2.4zM478.75 993.15h2.4v2.4h-2.4zM482.5 994.47h2.4v2.4h-2.4zM486.35 995.6h2.4v2.4h-2.4zM481.16 998.2h2.4v2.4h-2.4zM487.36 999.45h2.4v2.4h-2.4zM483.85 1000.75h2.4v2.4h-2.4zM478.75 1003.3h2.4v2.4h-2.4zM482.5 1004.62h2.4v2.4h-2.4zM486.35 1005.75h2.4v2.4h-2.4zM481.16 1008.35h2.4v2.4h-2.4zM487.36 1009.6h2.4v2.4h-2.4zM483.85 1010.9h2.4v2.4h-2.4zM478.75 1013.45h2.4v2.4h-2.4zM482.5 1014.77h2.4v2.4h-2.4zM486.35 1015.9h2.4v2.4h-2.4zM481.16 1018.5h2.4v2.4h-2.4zM487.36 1019.75h2.4v2.4h-2.4zM483.85 1021.05h2.4v2.4h-2.4zM478.75 1023.6h2.4v2.4h-2.4zM482.5 1024.92h2.4v2.4h-2.4zM486.35 1026.05h2.4v1.45h-2.4zM488.9 944.41h2.4v0.39h-2.4zM492.65 944.41h2.4v1.71h-2.4zM496.5 944.85h1.45v2.4h-1.45zM491.31 947.45h2.4v2.4h-2.4zM497.51 948.7h0.44v2.4h-0.44zM494 950h2.4v2.4h-2.4zM488.9 952.55h2.4v2.4h-2.4zM492.65 953.87h2.4v2.4h-2.4zM496.5 955h1.45v2.4h-1.45zM491.31 957.6h2.4v2.4h-2.4zM497.51 958.85h0.44v2.4h-0.44zM494 960.15h2.4v2.4h-2.4zM488.9 962.7h2.4v2.4h-2.4zM492.65 964.02h2.4v2.4h-2.4zM496.5 965.15h1.45v2.4h-1.45zM491.31 967.75h2.4v2.4h-2.4zM497.51 969h0.44v2.4h-0.44zM494 970.3h2.4v2.4h-2.4zM488.9 972.85h2.4v2.4h-2.4zM492.65 974.17h2.4v2.4h-2.4zM496.5 975.3h1.45v2.4h-1.45zM491.31 977.9h2.4v2.4h-2.4zM497.51 979.15h0.44v2.4h-0.44zM494 980.45h2.4v2.4h-2.4zM488.9 983h2.4v2.4h-2.4zM492.65 984.32h2.4v2.4h-2.4zM496.5 985.45h1.45v2.4h-1.45zM491.31 988.05h2.4v2.4h-2.4zM497.51 989.3h0.44v2.4h-0.44zM494 990.6h2.4v2.4h-2.4zM488.9 993.15h2.4v2.4h-2.4zM492.65 994.47h2.4v2.4h-2.4zM496.5 995.6h1.45v2.4h-1.45zM491.31 998.2h2.4v2.4h-2.4zM497.51 999.45h0.44v2.4h-0.44zM494 1000.75h2.4v2.4h-2.4zM488.9 1003.3h2.4v2.4h-2.4zM492.65 1004.62h2.4v2.4h-2.4zM496.5 1005.75h1.45v2.4h-1.45zM491.31 1008.35h2.4v2.4h-2.4zM497.51 1009.6h0.44v2.4h-0.44zM494 1010.9h2.4v2.4h-2.4zM488.9 1013.45h2.4v2.4h-2.4zM492.65 1014.77h2.4v2.4h-2.4zM496.5 1015.9h1.45v2.4h-1.45zM491.31 1018.5h2.4v2.4h-2.4zM497.51 1019.75h0.44v2.4h-0.44zM494 1021.05h2.4v2.4h-2.4zM488.9 1023.6h2.4v2.4h-2.4zM492.65 1024.92h2.4v2.4h-2.4zM496.5 1026.05h1.45v1.45h-1.45z" fill="#000"/>
<rect x="473.95" y="944.41" width="24" height="83.09" fill="none" stroke="#000" stroke-width="1.45"/>
<path d="M485.95 940.21 V948.61 M482.85 940.21 H489.05 M482.85 948.61 H489.05" stroke="#000" stroke-width="1.3" fill="none"/>
<rect x="497.95" y="909.95" width="24" height="117.55" fill="url(#brj)" stroke="#000" stroke-width="1.45"/>
<path d="M509.95 903.45 V916.45 M506.85 903.45 H513.05 M506.85 916.45 H513.05" stroke="#000" stroke-width="1.3" fill="none"/>
<rect x="557.35" y="889.84" width="24" height="137.66" fill="#fff"/>
<path d="M558.41 889.84h2.4v0.36h-2.4zM557.4 894.1h2.4v2.4h-2.4zM558.41 897.95h2.4v2.4h-2.4zM557.4 904.25h2.4v2.4h-2.4zM558.41 908.1h2.4v2.4h-2.4zM557.4 914.4h2.4v2.4h-2.4zM558.41 918.25h2.4v2.4h-2.4zM557.4 924.55h2.4v2.4h-2.4zM558.41 928.4h2.4v2.4h-2.4zM557.4 934.7h2.4v2.4h-2.4zM558.41 938.55h2.4v2.4h-2.4zM557.4 944.85h2.4v2.4h-2.4zM558.41 948.7h2.4v2.4h-2.4zM557.4 955h2.4v2.4h-2.4zM558.41 958.85h2.4v2.4h-2.4zM557.4 965.15h2.4v2.4h-2.4zM558.41 969h2.4v2.4h-2.4zM557.4 975.3h2.4v2.4h-2.4zM558.41 979.15h2.4v2.4h-2.4zM557.4 985.45h2.4v2.4h-2.4zM558.41 989.3h2.4v2.4h-2.4zM557.4 995.6h2.4v2.4h-2.4zM558.41 999.45h2.4v2.4h-2.4zM557.4 1005.75h2.4v2.4h-2.4zM558.41 1009.6h2.4v2.4h-2.4zM557.4 1015.9h2.4v2.4h-2.4zM558.41 1019.75h2.4v2.4h-2.4zM557.4 1026.05h2.4v1.45h-2.4zM568.56 889.84h2.4v0.36h-2.4zM565.05 889.84h2.4v1.66h-2.4zM559.95 891.65h2.4v2.4h-2.4zM563.7 892.97h2.4v2.4h-2.4zM567.55 894.1h2.4v2.4h-2.4zM562.36 896.7h2.4v2.4h-2.4zM568.56 897.95h2.4v2.4h-2.4zM565.05 899.25h2.4v2.4h-2.4zM559.95 901.8h2.4v2.4h-2.4zM563.7 903.12h2.4v2.4h-2.4zM567.55 904.25h2.4v2.4h-2.4zM562.36 906.85h2.4v2.4h-2.4zM568.56 908.1h2.4v2.4h-2.4zM565.05 909.4h2.4v2.4h-2.4zM559.95 911.95h2.4v2.4h-2.4zM563.7 913.27h2.4v2.4h-2.4zM567.55 914.4h2.4v2.4h-2.4zM562.36 917h2.4v2.4h-2.4zM568.56 918.25h2.4v2.4h-2.4zM565.05 919.55h2.4v2.4h-2.4zM559.95 922.1h2.4v2.4h-2.4zM563.7 923.42h2.4v2.4h-2.4zM567.55 924.55h2.4v2.4h-2.4zM562.36 927.15h2.4v2.4h-2.4zM568.56 928.4h2.4v2.4h-2.4zM565.05 929.7h2.4v2.4h-2.4zM559.95 932.25h2.4v2.4h-2.4zM563.7 933.57h2.4v2.4h-2.4zM567.55 934.7h2.4v2.4h-2.4zM562.36 937.3h2.4v2.4h-2.4zM568.56 938.55h2.4v2.4h-2.4zM565.05 939.85h2.4v2.4h-2.4zM559.95 942.4h2.4v2.4h-2.4zM563.7 943.72h2.4v2.4h-2.4zM567.55 944.85h2.4v2.4h-2.4zM562.36 947.45h2.4v2.4h-2.4zM568.56 948.7h2.4v2.4h-2.4zM565.05 950h2.4v2.4h-2.4zM559.95 952.55h2.4v2.4h-2.4zM563.7 953.87h2.4v2.4h-2.4zM567.55 955h2.4v2.4h-2.4zM562.36 957.6h2.4v2.4h-2.4zM568.56 958.85h2.4v2.4h-2.4zM565.05 960.15h2.4v2.4h-2.4zM559.95 962.7h2.4v2.4h-2.4zM563.7 964.02h2.4v2.4h-2.4zM567.55 965.15h2.4v2.4h-2.4zM562.36 967.75h2.4v2.4h-2.4zM568.56 969h2.4v2.4h-2.4zM565.05 970.3h2.4v2.4h-2.4zM559.95 972.85h2.4v2.4h-2.4zM563.7 974.17h2.4v2.4h-2.4zM567.55 975.3h2.4v2.4h-2.4zM562.36 977.9h2.4v2.4h-2.4zM568.56 979.15h2.4v2.4h-2.4zM565.05 980.45h2.4v2.4h-2.4zM559.95 983h2.4v2.4h-2.4zM563.7 984.32h2.4v2.4h-2.4zM567.55 985.45h2.4v2.4h-2.4zM562.36 988.05h2.4v2.4h-2.4zM568.56 989.3h2.4v2.4h-2.4zM565.05 990.6h2.4v2.4h-2.4zM559.95 993.15h2.4v2.4h-2.4zM563.7 994.47h2.4v2.4h-2.4zM567.55 995.6h2.4v2.4h-2.4zM562.36 998.2h2.4v2.4h-2.4zM568.56 999.45h2.4v2.4h-2.4zM565.05 1000.75h2.4v2.4h-2.4zM559.95 1003.3h2.4v2.4h-2.4zM563.7 1004.62h2.4v2.4h-2.4zM567.55 1005.75h2.4v2.4h-2.4zM562.36 1008.35h2.4v2.4h-2.4zM568.56 1009.6h2.4v2.4h-2.4zM565.05 1010.9h2.4v2.4h-2.4zM559.95 1013.45h2.4v2.4h-2.4zM563.7 1014.77h2.4v2.4h-2.4zM567.55 1015.9h2.4v2.4h-2.4zM562.36 1018.5h2.4v2.4h-2.4zM568.56 1019.75h2.4v2.4h-2.4zM565.05 1021.05h2.4v2.4h-2.4zM559.95 1023.6h2.4v2.4h-2.4zM563.7 1024.92h2.4v2.4h-2.4zM567.55 1026.05h2.4v1.45h-2.4zM578.71 889.84h2.4v0.36h-2.4zM575.2 889.84h2.4v1.66h-2.4zM570.1 891.65h2.4v2.4h-2.4zM573.85 892.97h2.4v2.4h-2.4zM577.7 894.1h2.4v2.4h-2.4zM572.51 896.7h2.4v2.4h-2.4zM578.71 897.95h2.4v2.4h-2.4zM575.2 899.25h2.4v2.4h-2.4zM570.1 901.8h2.4v2.4h-2.4zM573.85 903.12h2.4v2.4h-2.4zM577.7 904.25h2.4v2.4h-2.4zM572.51 906.85h2.4v2.4h-2.4zM578.71 908.1h2.4v2.4h-2.4zM575.2 909.4h2.4v2.4h-2.4zM570.1 911.95h2.4v2.4h-2.4zM573.85 913.27h2.4v2.4h-2.4zM577.7 914.4h2.4v2.4h-2.4zM572.51 917h2.4v2.4h-2.4zM578.71 918.25h2.4v2.4h-2.4zM575.2 919.55h2.4v2.4h-2.4zM570.1 922.1h2.4v2.4h-2.4zM573.85 923.42h2.4v2.4h-2.4zM577.7 924.55h2.4v2.4h-2.4zM572.51 927.15h2.4v2.4h-2.4zM578.71 928.4h2.4v2.4h-2.4zM575.2 929.7h2.4v2.4h-2.4zM570.1 932.25h2.4v2.4h-2.4zM573.85 933.57h2.4v2.4h-2.4zM577.7 934.7h2.4v2.4h-2.4zM572.51 937.3h2.4v2.4h-2.4zM578.71 938.55h2.4v2.4h-2.4zM575.2 939.85h2.4v2.4h-2.4zM570.1 942.4h2.4v2.4h-2.4zM573.85 943.72h2.4v2.4h-2.4zM577.7 944.85h2.4v2.4h-2.4zM572.51 947.45h2.4v2.4h-2.4zM578.71 948.7h2.4v2.4h-2.4zM575.2 950h2.4v2.4h-2.4zM570.1 952.55h2.4v2.4h-2.4zM573.85 953.87h2.4v2.4h-2.4zM577.7 955h2.4v2.4h-2.4zM572.51 957.6h2.4v2.4h-2.4zM578.71 958.85h2.4v2.4h-2.4zM575.2 960.15h2.4v2.4h-2.4zM570.1 962.7h2.4v2.4h-2.4zM573.85 964.02h2.4v2.4h-2.4zM577.7 965.15h2.4v2.4h-2.4zM572.51 967.75h2.4v2.4h-2.4zM578.71 969h2.4v2.4h-2.4zM575.2 970.3h2.4v2.4h-2.4zM570.1 972.85h2.4v2.4h-2.4zM573.85 974.17h2.4v2.4h-2.4zM577.7 975.3h2.4v2.4h-2.4zM572.51 977.9h2.4v2.4h-2.4zM578.71 979.15h2.4v2.4h-2.4zM575.2 980.45h2.4v2.4h-2.4zM570.1 983h2.4v2.4h-2.4zM573.85 984.32h2.4v2.4h-2.4zM577.7 985.45h2.4v2.4h-2.4zM572.51 988.05h2.4v2.4h-2.4zM578.71 989.3h2.4v2.4h-2.4zM575.2 990.6h2.4v2.4h-2.4zM570.1 993.15h2.4v2.4h-2.4zM573.85 994.47h2.4v2.4h-2.4zM577.7 995.6h2.4v2.4h-2.4zM572.51 998.2h2.4v2.4h-2.4zM578.71 999.45h2.4v2.4h-2.4zM575.2 1000.75h2.4v2.4h-2.4zM570.1 1003.3h2.4v2.4h-2.4zM573.85 1004.62h2.4v2.4h-2.4zM577.7 1005.75h2.4v2.4h-2.4zM572.51 1008.35h2.4v2.4h-2.4zM578.71 1009.6h2.4v2.4h-2.4zM575.2 1010.9h2.4v2.4h-2.4zM570.1 1013.45h2.4v2.4h-2.4zM573.85 1014.77h2.4v2.4h-2.4zM577.7 1015.9h2.4v2.4h-2.4zM572.51 1018.5h2.4v2.4h-2.4zM578.71 1019.75h2.4v2.4h-2.4zM575.2 1021.05h2.4v2.4h-2.4zM570.1 1023.6h2.4v2.4h-2.4zM573.85 1024.92h2.4v2.4h-2.4zM577.7 1026.05h2.4v1.45h-2.4zM580.25 891.65h1.1v2.4h-1.1zM580.25 901.8h1.1v2.4h-1.1zM580.25 911.95h1.1v2.4h-1.1zM580.25 922.1h1.1v2.4h-1.1zM580.25 932.25h1.1v2.4h-1.1zM580.25 942.4h1.1v2.4h-1.1zM580.25 952.55h1.1v2.4h-1.1zM580.25 962.7h1.1v2.4h-1.1zM580.25 972.85h1.1v2.4h-1.1zM580.25 983h1.1v2.4h-1.1zM580.25 993.15h1.1v2.4h-1.1zM580.25 1003.3h1.1v2.4h-1.1zM580.25 1013.45h1.1v2.4h-1.1zM580.25 1023.6h1.1v2.4h-1.1z" fill="#000"/>
<rect x="557.35" y="889.84" width="24" height="137.66" fill="none" stroke="#000" stroke-width="1.45"/>
<path d="M569.35 886.34 V893.34 M566.25 886.34 H572.45 M566.25 893.34 H572.45" stroke="#000" stroke-width="1.3" fill="none"/>
<rect x="581.35" y="973.56" width="24" height="53.94" fill="url(#brj)" stroke="#000" stroke-width="1.45"/>
<path d="M593.35 972.56 V974.56 M590.25 972.56 H596.45 M590.25 974.56 H596.45" stroke="#000" stroke-width="1.3" fill="none"/>
<path d="M373.3 871.6 V1027.5 M368.8 1027.5 H373.3 M368.8 996.32 H373.3 M368.8 965.14 H373.3 M368.8 933.96 H373.3 M368.8 902.78 H373.3 M368.8 871.6 H373.3 M372.85 1027.5 H623.05 M373.3 1027.5 V1032 M456.25 1027.5 V1032 M539.65 1027.5 V1032 M623.05 1027.5 V1032" stroke="#7f7f7f" stroke-width="1.4" fill="none"/>
<text x="361.7" y="1032.1" text-anchor="end" class="t">0</text>
<text x="361.7" y="1000.92" text-anchor="end" class="t">2</text>
<text x="361.7" y="969.74" text-anchor="end" class="t">4</text>
<text x="361.7" y="938.56" text-anchor="end" class="t">6</text>
<text x="361.7" y="907.38" text-anchor="end" class="t">8</text>
<text x="361.7" y="876.2" text-anchor="end" class="t">10</text>
<text x="414.55" y="1048.8" text-anchor="middle" class="t">0 dpi</text>
<text x="497.95" y="1048.8" text-anchor="middle" class="t">3 dpi</text>
<text x="581.35" y="1048.8" text-anchor="middle" class="t">10 dpi</text>
<rect x="643.35" y="943.95" width="7.1" height="7.1" fill="#111" stroke="#000" stroke-width="1.3"/>
<rect x="644.7" y="947.3" width="4" height="3" fill="#fff"/>
<rect x="643.35" y="966.85" width="7.1" height="7.1" fill="#fff" stroke="#000" stroke-width="1.3"/>
<text x="653.7" y="951.4" class="lg" textLength="13.4" lengthAdjust="spacingAndGlyphs">C4</text>
<text x="654.4" y="974.3" class="lg" textLength="6.0" lengthAdjust="spacingAndGlyphs">K</text>
<text transform="translate(400.14 897.82) scale(0.27679 0.24437)" class="L">j</text>
<rect x="0.5" y="1067" width="331" height="193.4" fill="none" stroke="#000" stroke-width="1.4"/>
<rect x="45.65" y="1209.91" width="24.5" height="18.39" fill="#fff"/>
<path d="M45.77 1209.91h2.4v1.21h-2.4zM49.64 1209.91h2.4v2.35h-2.4zM45.65 1212.48h1.17v2.4h-1.17zM50.65 1213.73h2.4v2.4h-2.4zM47.12 1215.04h2.4v2.4h-2.4zM45.77 1218.92h2.4v2.4h-2.4zM49.64 1220.07h2.4v2.4h-2.4zM45.65 1222.68h1.17v2.4h-1.17zM50.65 1223.93h2.4v2.4h-2.4zM47.12 1225.24h2.4v2.4h-2.4zM55.97 1209.91h2.4v1.21h-2.4zM59.84 1209.91h2.4v2.35h-2.4zM54.62 1212.48h2.4v2.4h-2.4zM60.85 1213.73h2.4v2.4h-2.4zM57.32 1215.04h2.4v2.4h-2.4zM52.2 1217.6h2.4v2.4h-2.4zM55.97 1218.92h2.4v2.4h-2.4zM59.84 1220.07h2.4v2.4h-2.4zM54.62 1222.68h2.4v2.4h-2.4zM60.85 1223.93h2.4v2.4h-2.4zM57.32 1225.24h2.4v2.4h-2.4zM52.2 1227.8h2.4v0.5h-2.4zM66.17 1209.91h2.4v1.21h-2.4zM64.82 1212.48h2.4v2.4h-2.4zM67.52 1215.04h2.4v2.4h-2.4zM62.4 1217.6h2.4v2.4h-2.4zM66.17 1218.92h2.4v2.4h-2.4zM64.82 1222.68h2.4v2.4h-2.4zM67.52 1225.24h2.4v2.4h-2.4zM62.4 1227.8h2.4v0.5h-2.4z" fill="#000"/>
<rect x="45.65" y="1209.91" width="24.5" height="18.39" fill="none" stroke="#000" stroke-width="1.45"/>
<path d="M54.8 1209.91 H61" stroke="#000" stroke-width="1.3" fill="none"/>
<rect x="70.15" y="1209.91" width="24.5" height="18.39" fill="url(#brk)" stroke="#000" stroke-width="1.45"/>
<path d="M79.3 1209.91 H85.5" stroke="#000" stroke-width="1.3" fill="none"/>
<rect x="131.35" y="1179.21" width="24.5" height="49.09" fill="#fff"/>
<path d="M131.35 1179.27h2.29v2.4h-2.29zM132.25 1183.13h2.4v2.4h-2.4zM131.35 1189.47h2.29v2.4h-2.29zM132.25 1193.33h2.4v2.4h-2.4zM131.35 1199.67h2.29v2.4h-2.29zM132.25 1203.53h2.4v2.4h-2.4zM131.35 1209.87h2.29v2.4h-2.29zM132.25 1213.73h2.4v2.4h-2.4zM131.35 1220.07h2.29v2.4h-2.29zM132.25 1223.93h2.4v2.4h-2.4zM137.57 1179.21h2.4v1.32h-2.4zM141.44 1179.27h2.4v2.4h-2.4zM136.22 1181.88h2.4v2.4h-2.4zM142.45 1183.13h2.4v2.4h-2.4zM138.92 1184.44h2.4v2.4h-2.4zM133.8 1187h2.4v2.4h-2.4zM137.57 1188.32h2.4v2.4h-2.4zM141.44 1189.47h2.4v2.4h-2.4zM136.22 1192.08h2.4v2.4h-2.4zM142.45 1193.33h2.4v2.4h-2.4zM138.92 1194.64h2.4v2.4h-2.4zM133.8 1197.2h2.4v2.4h-2.4zM137.57 1198.52h2.4v2.4h-2.4zM141.44 1199.67h2.4v2.4h-2.4zM136.22 1202.28h2.4v2.4h-2.4zM142.45 1203.53h2.4v2.4h-2.4zM138.92 1204.84h2.4v2.4h-2.4zM133.8 1207.4h2.4v2.4h-2.4zM137.57 1208.72h2.4v2.4h-2.4zM141.44 1209.87h2.4v2.4h-2.4zM136.22 1212.48h2.4v2.4h-2.4zM142.45 1213.73h2.4v2.4h-2.4zM138.92 1215.04h2.4v2.4h-2.4zM133.8 1217.6h2.4v2.4h-2.4zM137.57 1218.92h2.4v2.4h-2.4zM141.44 1220.07h2.4v2.4h-2.4zM136.22 1222.68h2.4v2.4h-2.4zM142.45 1223.93h2.4v2.4h-2.4zM138.92 1225.24h2.4v2.4h-2.4zM133.8 1227.8h2.4v0.5h-2.4zM147.77 1179.21h2.4v1.32h-2.4zM151.64 1179.27h2.4v2.4h-2.4zM146.42 1181.88h2.4v2.4h-2.4zM152.65 1183.13h2.4v2.4h-2.4zM149.12 1184.44h2.4v2.4h-2.4zM144 1187h2.4v2.4h-2.4zM147.77 1188.32h2.4v2.4h-2.4zM151.64 1189.47h2.4v2.4h-2.4zM146.42 1192.08h2.4v2.4h-2.4zM152.65 1193.33h2.4v2.4h-2.4zM149.12 1194.64h2.4v2.4h-2.4zM144 1197.2h2.4v2.4h-2.4zM147.77 1198.52h2.4v2.4h-2.4zM151.64 1199.67h2.4v2.4h-2.4zM146.42 1202.28h2.4v2.4h-2.4zM152.65 1203.53h2.4v2.4h-2.4zM149.12 1204.84h2.4v2.4h-2.4zM144 1207.4h2.4v2.4h-2.4zM147.77 1208.72h2.4v2.4h-2.4zM151.64 1209.87h2.4v2.4h-2.4zM146.42 1212.48h2.4v2.4h-2.4zM152.65 1213.73h2.4v2.4h-2.4zM149.12 1215.04h2.4v2.4h-2.4zM144 1217.6h2.4v2.4h-2.4zM147.77 1218.92h2.4v2.4h-2.4zM151.64 1220.07h2.4v2.4h-2.4zM146.42 1222.68h2.4v2.4h-2.4zM152.65 1223.93h2.4v2.4h-2.4zM149.12 1225.24h2.4v2.4h-2.4zM144 1227.8h2.4v0.5h-2.4zM154.2 1187h1.65v2.4h-1.65zM154.2 1197.2h1.65v2.4h-1.65zM154.2 1207.4h1.65v2.4h-1.65zM154.2 1217.6h1.65v2.4h-1.65zM154.2 1227.8h1.65v0.5h-1.65z" fill="#000"/>
<rect x="131.35" y="1179.21" width="24.5" height="49.09" fill="none" stroke="#000" stroke-width="1.45"/>
<path d="M143.6 1173.71 V1184.71 M140.5 1173.71 H146.7 M140.5 1184.71 H146.7" stroke="#000" stroke-width="1.3" fill="none"/>
<rect x="155.85" y="1166.33" width="24.5" height="61.97" fill="url(#brk)" stroke="#000" stroke-width="1.45"/>
<path d="M168.1 1158.43 V1174.23 M165 1158.43 H171.2 M165 1174.23 H171.2" stroke="#000" stroke-width="1.3" fill="none"/>
<rect x="217.05" y="1102.53" width="24.5" height="125.77" fill="#fff"/>
<path d="M224.05 1102.53h2.4v1.4h-2.4zM220.52 1102.84h2.4v2.4h-2.4zM217.05 1105.4h0.75v2.4h-0.75zM219.17 1106.72h2.4v2.4h-2.4zM223.04 1107.87h2.4v2.4h-2.4zM217.82 1110.48h2.4v2.4h-2.4zM224.05 1111.73h2.4v2.4h-2.4zM220.52 1113.04h2.4v2.4h-2.4zM217.05 1115.6h0.75v2.4h-0.75zM219.17 1116.92h2.4v2.4h-2.4zM223.04 1118.07h2.4v2.4h-2.4zM217.82 1120.68h2.4v2.4h-2.4zM224.05 1121.93h2.4v2.4h-2.4zM220.52 1123.24h2.4v2.4h-2.4zM217.05 1125.8h0.75v2.4h-0.75zM219.17 1127.12h2.4v2.4h-2.4zM223.04 1128.27h2.4v2.4h-2.4zM217.82 1130.88h2.4v2.4h-2.4zM224.05 1132.13h2.4v2.4h-2.4zM220.52 1133.44h2.4v2.4h-2.4zM217.05 1136h0.75v2.4h-0.75zM219.17 1137.32h2.4v2.4h-2.4zM223.04 1138.47h2.4v2.4h-2.4zM217.82 1141.08h2.4v2.4h-2.4zM224.05 1142.33h2.4v2.4h-2.4zM220.52 1143.64h2.4v2.4h-2.4zM217.05 1146.2h0.75v2.4h-0.75zM219.17 1147.52h2.4v2.4h-2.4zM223.04 1148.67h2.4v2.4h-2.4zM217.82 1151.28h2.4v2.4h-2.4zM224.05 1152.53h2.4v2.4h-2.4zM220.52 1153.84h2.4v2.4h-2.4zM217.05 1156.4h0.75v2.4h-0.75zM219.17 1157.72h2.4v2.4h-2.4zM223.04 1158.87h2.4v2.4h-2.4zM217.82 1161.48h2.4v2.4h-2.4zM224.05 1162.73h2.4v2.4h-2.4zM220.52 1164.04h2.4v2.4h-2.4zM217.05 1166.6h0.75v2.4h-0.75zM219.17 1167.92h2.4v2.4h-2.4zM223.04 1169.07h2.4v2.4h-2.4zM217.82 1171.68h2.4v2.4h-2.4zM224.05 1172.93h2.4v2.4h-2.4zM220.52 1174.24h2.4v2.4h-2.4zM217.05 1176.8h0.75v2.4h-0.75zM219.17 1178.12h2.4v2.4h-2.4zM223.04 1179.27h2.4v2.4h-2.4zM217.82 1181.88h2.4v2.4h-2.4zM224.05 1183.13h2.4v2.4h-2.4zM220.52 1184.44h2.4v2.4h-2.4zM217.05 1187h0.75v2.4h-0.75zM219.17 1188.32h2.4v2.4h-2.4zM223.04 1189.47h2.4v2.4h-2.4zM217.82 1192.08h2.4v2.4h-2.4zM224.05 1193.33h2.4v2.4h-2.4zM220.52 1194.64h2.4v2.4h-2.4zM217.05 1197.2h0.75v2.4h-0.75zM219.17 1198.52h2.4v2.4h-2.4zM223.04 1199.67h2.4v2.4h-2.4zM217.82 1202.28h2.4v2.4h-2.4zM224.05 1203.53h2.4v2.4h-2.4zM220.52 1204.84h2.4v2.4h-2.4zM217.05 1207.4h0.75v2.4h-0.75zM219.17 1208.72h2.4v2.4h-2.4zM223.04 1209.87h2.4v2.4h-2.4zM217.82 1212.48h2.4v2.4h-2.4zM224.05 1213.73h2.4v2.4h-2.4zM220.52 1215.04h2.4v2.4h-2.4zM217.05 1217.6h0.75v2.4h-0.75zM219.17 1218.92h2.4v2.4h-2.4zM223.04 1220.07h2.4v2.4h-2.4zM217.82 1222.68h2.4v2.4h-2.4zM224.05 1223.93h2.4v2.4h-2.4zM220.52 1225.24h2.4v2.4h-2.4zM217.05 1227.8h0.75v0.5h-0.75zM234.25 1102.53h2.4v1.4h-2.4zM230.72 1102.84h2.4v2.4h-2.4zM225.6 1105.4h2.4v2.4h-2.4zM229.37 1106.72h2.4v2.4h-2.4zM233.24 1107.87h2.4v2.4h-2.4zM228.02 1110.48h2.4v2.4h-2.4zM234.25 1111.73h2.4v2.4h-2.4zM230.72 1113.04h2.4v2.4h-2.4zM225.6 1115.6h2.4v2.4h-2.4zM229.37 1116.92h2.4v2.4h-2.4zM233.24 1118.07h2.4v2.4h-2.4zM228.02 1120.68h2.4v2.4h-2.4zM234.25 1121.93h2.4v2.4h-2.4zM230.72 1123.24h2.4v2.4h-2.4zM225.6 1125.8h2.4v2.4h-2.4zM229.37 1127.12h2.4v2.4h-2.4zM233.24 1128.27h2.4v2.4h-2.4zM228.02 1130.88h2.4v2.4h-2.4zM234.25 1132.13h2.4v2.4h-2.4zM230.72 1133.44h2.4v2.4h-2.4zM225.6 1136h2.4v2.4h-2.4zM229.37 1137.32h2.4v2.4h-2.4zM233.24 1138.47h2.4v2.4h-2.4zM228.02 1141.08h2.4v2.4h-2.4zM234.25 1142.33h2.4v2.4h-2.4zM230.72 1143.64h2.4v2.4h-2.4zM225.6 1146.2h2.4v2.4h-2.4zM229.37 1147.52h2.4v2.4h-2.4zM233.24 1148.67h2.4v2.4h-2.4zM228.02 1151.28h2.4v2.4h-2.4zM234.25 1152.53h2.4v2.4h-2.4zM230.72 1153.84h2.4v2.4h-2.4zM225.6 1156.4h2.4v2.4h-2.4zM229.37 1157.72h2.4v2.4h-2.4zM233.24 1158.87h2.4v2.4h-2.4zM228.02 1161.48h2.4v2.4h-2.4zM234.25 1162.73h2.4v2.4h-2.4zM230.72 1164.04h2.4v2.4h-2.4zM225.6 1166.6h2.4v2.4h-2.4zM229.37 1167.92h2.4v2.4h-2.4zM233.24 1169.07h2.4v2.4h-2.4zM228.02 1171.68h2.4v2.4h-2.4zM234.25 1172.93h2.4v2.4h-2.4zM230.72 1174.24h2.4v2.4h-2.4zM225.6 1176.8h2.4v2.4h-2.4zM229.37 1178.12h2.4v2.4h-2.4zM233.24 1179.27h2.4v2.4h-2.4zM228.02 1181.88h2.4v2.4h-2.4zM234.25 1183.13h2.4v2.4h-2.4zM230.72 1184.44h2.4v2.4h-2.4zM225.6 1187h2.4v2.4h-2.4zM229.37 1188.32h2.4v2.4h-2.4zM233.24 1189.47h2.4v2.4h-2.4zM228.02 1192.08h2.4v2.4h-2.4zM234.25 1193.33h2.4v2.4h-2.4zM230.72 1194.64h2.4v2.4h-2.4zM225.6 1197.2h2.4v2.4h-2.4zM229.37 1198.52h2.4v2.4h-2.4zM233.24 1199.67h2.4v2.4h-2.4zM228.02 1202.28h2.4v2.4h-2.4zM234.25 1203.53h2.4v2.4h-2.4zM230.72 1204.84h2.4v2.4h-2.4zM225.6 1207.4h2.4v2.4h-2.4zM229.37 1208.72h2.4v2.4h-2.4zM233.24 1209.87h2.4v2.4h-2.4zM228.02 1212.48h2.4v2.4h-2.4zM234.25 1213.73h2.4v2.4h-2.4zM230.72 1215.04h2.4v2.4h-2.4zM225.6 1217.6h2.4v2.4h-2.4zM229.37 1218.92h2.4v2.4h-2.4zM233.24 1220.07h2.4v2.4h-2.4zM228.02 1222.68h2.4v2.4h-2.4zM234.25 1223.93h2.4v2.4h-2.4zM230.72 1225.24h2.4v2.4h-2.4zM225.6 1227.8h2.4v0.5h-2.4zM240.92 1102.84h0.63v2.4h-0.63zM235.8 1105.4h2.4v2.4h-2.4zM239.57 1106.72h1.98v2.4h-1.98zM238.22 1110.48h2.4v2.4h-2.4zM240.92 1113.04h0.63v2.4h-0.63zM235.8 1115.6h2.4v2.4h-2.4zM239.57 1116.92h1.98v2.4h-1.98zM238.22 1120.68h2.4v2.4h-2.4zM240.92 1123.24h0.63v2.4h-0.63zM235.8 1125.8h2.4v2.4h-2.4zM239.57 1127.12h1.98v2.4h-1.98zM238.22 1130.88h2.4v2.4h-2.4zM240.92 1133.44h0.63v2.4h-0.63zM235.8 1136h2.4v2.4h-2.4zM239.57 1137.32h1.98v2.4h-1.98zM238.22 1141.08h2.4v2.4h-2.4zM240.92 1143.64h0.63v2.4h-0.63zM235.8 1146.2h2.4v2.4h-2.4zM239.57 1147.52h1.98v2.4h-1.98zM238.22 1151.28h2.4v2.4h-2.4zM240.92 1153.84h0.63v2.4h-0.63zM235.8 1156.4h2.4v2.4h-2.4zM239.57 1157.72h1.98v2.4h-1.98zM238.22 1161.48h2.4v2.4h-2.4zM240.92 1164.04h0.63v2.4h-0.63zM235.8 1166.6h2.4v2.4h-2.4zM239.57 1167.92h1.98v2.4h-1.98zM238.22 1171.68h2.4v2.4h-2.4zM240.92 1174.24h0.63v2.4h-0.63zM235.8 1176.8h2.4v2.4h-2.4zM239.57 1178.12h1.98v2.4h-1.98zM238.22 1181.88h2.4v2.4h-2.4zM240.92 1184.44h0.63v2.4h-0.63zM235.8 1187h2.4v2.4h-2.4zM239.57 1188.32h1.98v2.4h-1.98zM238.22 1192.08h2.4v2.4h-2.4zM240.92 1194.64h0.63v2.4h-0.63zM235.8 1197.2h2.4v2.4h-2.4zM239.57 1198.52h1.98v2.4h-1.98zM238.22 1202.28h2.4v2.4h-2.4zM240.92 1204.84h0.63v2.4h-0.63zM235.8 1207.4h2.4v2.4h-2.4zM239.57 1208.72h1.98v2.4h-1.98zM238.22 1212.48h2.4v2.4h-2.4zM240.92 1215.04h0.63v2.4h-0.63zM235.8 1217.6h2.4v2.4h-2.4zM239.57 1218.92h1.98v2.4h-1.98zM238.22 1222.68h2.4v2.4h-2.4zM240.92 1225.24h0.63v2.4h-0.63zM235.8 1227.8h2.4v0.5h-2.4z" fill="#000"/>
<rect x="217.05" y="1102.53" width="24.5" height="125.77" fill="none" stroke="#000" stroke-width="1.45"/>
<path d="M229.3 1098.83 V1106.23 M226.2 1098.83 H232.4 M226.2 1106.23 H232.4" stroke="#000" stroke-width="1.3" fill="none"/>
<rect x="241.55" y="1150.34" width="24.5" height="77.96" fill="url(#brk)" stroke="#000" stroke-width="1.45"/>
<path d="M253.8 1148.84 V1151.84 M250.7 1148.84 H256.9 M250.7 1151.84 H256.9" stroke="#000" stroke-width="1.3" fill="none"/>
<path d="M26.9 1081.2 V1228.3 M22.4 1228.3 H26.9 M22.4 1209.91 H26.9 M22.4 1191.53 H26.9 M22.4 1173.14 H26.9 M22.4 1154.75 H26.9 M22.4 1136.36 H26.9 M22.4 1117.97 H26.9 M22.4 1099.59 H26.9 M22.4 1081.2 H26.9 M26.9 1228.3 H284.4 M26.9 1228.3 V1232.8 M113 1228.3 V1232.8 M198.7 1228.3 V1232.8 M284.4 1228.3 V1232.8" stroke="#7f7f7f" stroke-width="1.4" fill="none"/>
<text x="15.3" y="1232.9" text-anchor="end" class="t">0</text>
<text x="15.3" y="1214.51" text-anchor="end" class="t">1</text>
<text x="15.3" y="1196.12" text-anchor="end" class="t">2</text>
<text x="15.3" y="1177.74" text-anchor="end" class="t">3</text>
<text x="15.3" y="1159.35" text-anchor="end" class="t">4</text>
<text x="15.3" y="1140.96" text-anchor="end" class="t">5</text>
<text x="15.3" y="1122.57" text-anchor="end" class="t">6</text>
<text x="15.3" y="1104.19" text-anchor="end" class="t">7</text>
<text x="15.3" y="1085.8" text-anchor="end" class="t">8</text>
<text x="70.15" y="1249.6" text-anchor="middle" class="t">0 dpi</text>
<text x="155.85" y="1249.6" text-anchor="middle" class="t">3 dpi</text>
<text x="241.55" y="1249.6" text-anchor="middle" class="t">10 dpi</text>
<rect x="305.35" y="1148.85" width="7.1" height="7.1" fill="#111" stroke="#000" stroke-width="1.3"/>
<rect x="306.7" y="1152.2" width="4" height="3" fill="#fff"/>
<rect x="305.35" y="1172.25" width="7.1" height="7.1" fill="#fff" stroke="#000" stroke-width="1.3"/>
<path d="M307.2 1174.1 L311.2 1178.1" stroke="#000" stroke-width="1"/>
<text x="315.7" y="1156.3" class="lg" textLength="13.4" lengthAdjust="spacingAndGlyphs">C4</text>
<text x="316.4" y="1179.7" class="lg" textLength="6.0" lengthAdjust="spacingAndGlyphs">K</text>
<text transform="translate(44.98 1105.1) scale(0.24641 0.25793)" class="L">k</text>
<rect x="340.5" y="1067.1" width="342.8" height="192.3" fill="none" stroke="#000" stroke-width="1.4"/>
<rect x="384.75" y="1210.63" width="24.4" height="21.57" fill="#fff"/>
<path d="M384.85 1210.63h2.4v1.27h-2.4zM385.86 1213.35h2.4v2.4h-2.4zM384.85 1219.65h2.4v2.4h-2.4zM385.86 1223.5h2.4v2.4h-2.4zM384.85 1229.8h2.4v2.4h-2.4zM395 1210.63h2.4v1.27h-2.4zM389.81 1212.1h2.4v2.4h-2.4zM396.01 1213.35h2.4v2.4h-2.4zM392.5 1214.65h2.4v2.4h-2.4zM387.4 1217.2h2.4v2.4h-2.4zM391.15 1218.52h2.4v2.4h-2.4zM395 1219.65h2.4v2.4h-2.4zM389.81 1222.25h2.4v2.4h-2.4zM396.01 1223.5h2.4v2.4h-2.4zM392.5 1224.8h2.4v2.4h-2.4zM387.4 1227.35h2.4v2.4h-2.4zM391.15 1228.67h2.4v2.4h-2.4zM395 1229.8h2.4v2.4h-2.4zM405.15 1210.63h2.4v1.27h-2.4zM399.96 1212.1h2.4v2.4h-2.4zM406.16 1213.35h2.4v2.4h-2.4zM402.65 1214.65h2.4v2.4h-2.4zM397.55 1217.2h2.4v2.4h-2.4zM401.3 1218.52h2.4v2.4h-2.4zM405.15 1219.65h2.4v2.4h-2.4zM399.96 1222.25h2.4v2.4h-2.4zM406.16 1223.5h2.4v2.4h-2.4zM402.65 1224.8h2.4v2.4h-2.4zM397.55 1227.35h2.4v2.4h-2.4zM401.3 1228.67h2.4v2.4h-2.4zM405.15 1229.8h2.4v2.4h-2.4zM407.7 1217.2h1.45v2.4h-1.45zM407.7 1227.35h1.45v2.4h-1.45z" fill="#000"/>
<rect x="384.75" y="1210.63" width="24.4" height="21.57" fill="none" stroke="#000" stroke-width="1.45"/>
<path d="M393.85 1210.63 H400.05" stroke="#000" stroke-width="1.3" fill="none"/>
<rect x="409.15" y="1210.63" width="24.4" height="21.57" fill="url(#brl)" stroke="#000" stroke-width="1.45"/>
<path d="M418.25 1210.63 H424.45" stroke="#000" stroke-width="1.3" fill="none"/>
<rect x="469.85" y="1158.21" width="24.4" height="73.99" fill="#fff"/>
<path d="M469.85 1158.21h1.15v0.49h-1.15zM472.35 1158.21h2.4v1.81h-2.4zM476.2 1158.75h2.4v2.4h-2.4zM471.01 1161.35h2.4v2.4h-2.4zM477.21 1162.6h2.4v2.4h-2.4zM473.7 1163.9h2.4v2.4h-2.4zM469.85 1166.45h1.15v2.4h-1.15zM472.35 1167.77h2.4v2.4h-2.4zM476.2 1168.9h2.4v2.4h-2.4zM471.01 1171.5h2.4v2.4h-2.4zM477.21 1172.75h2.4v2.4h-2.4zM473.7 1174.05h2.4v2.4h-2.4zM469.85 1176.6h1.15v2.4h-1.15zM472.35 1177.92h2.4v2.4h-2.4zM476.2 1179.05h2.4v2.4h-2.4zM471.01 1181.65h2.4v2.4h-2.4zM477.21 1182.9h2.4v2.4h-2.4zM473.7 1184.2h2.4v2.4h-2.4zM469.85 1186.75h1.15v2.4h-1.15zM472.35 1188.07h2.4v2.4h-2.4zM476.2 1189.2h2.4v2.4h-2.4zM471.01 1191.8h2.4v2.4h-2.4zM477.21 1193.05h2.4v2.4h-2.4zM473.7 1194.35h2.4v2.4h-2.4zM469.85 1196.9h1.15v2.4h-1.15zM472.35 1198.22h2.4v2.4h-2.4zM476.2 1199.35h2.4v2.4h-2.4zM471.01 1201.95h2.4v2.4h-2.4zM477.21 1203.2h2.4v2.4h-2.4zM473.7 1204.5h2.4v2.4h-2.4zM469.85 1207.05h1.15v2.4h-1.15zM472.35 1208.37h2.4v2.4h-2.4zM476.2 1209.5h2.4v2.4h-2.4zM471.01 1212.1h2.4v2.4h-2.4zM477.21 1213.35h2.4v2.4h-2.4zM473.7 1214.65h2.4v2.4h-2.4zM469.85 1217.2h1.15v2.4h-1.15zM472.35 1218.52h2.4v2.4h-2.4zM476.2 1219.65h2.4v2.4h-2.4zM471.01 1222.25h2.4v2.4h-2.4zM477.21 1223.5h2.4v2.4h-2.4zM473.7 1224.8h2.4v2.4h-2.4zM469.85 1227.35h1.15v2.4h-1.15zM472.35 1228.67h2.4v2.4h-2.4zM476.2 1229.8h2.4v2.4h-2.4zM478.75 1158.21h2.4v0.49h-2.4zM482.5 1158.21h2.4v1.81h-2.4zM486.35 1158.75h2.4v2.4h-2.4zM481.16 1161.35h2.4v2.4h-2.4zM487.36 1162.6h2.4v2.4h-2.4zM483.85 1163.9h2.4v2.4h-2.4zM478.75 1166.45h2.4v2.4h-2.4zM482.5 1167.77h2.4v2.4h-2.4zM486.35 1168.9h2.4v2.4h-2.4zM481.16 1171.5h2.4v2.4h-2.4zM487.36 1172.75h2.4v2.4h-2.4zM483.85 1174.05h2.4v2.4h-2.4zM478.75 1176.6h2.4v2.4h-2.4zM482.5 1177.92h2.4v2.4h-2.4zM486.35 1179.05h2.4v2.4h-2.4zM481.16 1181.65h2.4v2.4h-2.4zM487.36 1182.9h2.4v2.4h-2.4zM483.85 1184.2h2.4v2.4h-2.4zM478.75 1186.75h2.4v2.4h-2.4zM482.5 1188.07h2.4v2.4h-2.4zM486.35 1189.2h2.4v2.4h-2.4zM481.16 1191.8h2.4v2.4h-2.4zM487.36 1193.05h2.4v2.4h-2.4zM483.85 1194.35h2.4v2.4h-2.4zM478.75 1196.9h2.4v2.4h-2.4zM482.5 1198.22h2.4v2.4h-2.4zM486.35 1199.35h2.4v2.4h-2.4zM481.16 1201.95h2.4v2.4h-2.4zM487.36 1203.2h2.4v2.4h-2.4zM483.85 1204.5h2.4v2.4h-2.4zM478.75 1207.05h2.4v2.4h-2.4zM482.5 1208.37h2.4v2.4h-2.4zM486.35 1209.5h2.4v2.4h-2.4zM481.16 1212.1h2.4v2.4h-2.4zM487.36 1213.35h2.4v2.4h-2.4zM483.85 1214.65h2.4v2.4h-2.4zM478.75 1217.2h2.4v2.4h-2.4zM482.5 1218.52h2.4v2.4h-2.4zM486.35 1219.65h2.4v2.4h-2.4zM481.16 1222.25h2.4v2.4h-2.4zM487.36 1223.5h2.4v2.4h-2.4zM483.85 1224.8h2.4v2.4h-2.4zM478.75 1227.35h2.4v2.4h-2.4zM482.5 1228.67h2.4v2.4h-2.4zM486.35 1229.8h2.4v2.4h-2.4zM488.9 1158.21h2.4v0.49h-2.4zM492.65 1158.21h1.6v1.81h-1.6zM491.31 1161.35h2.4v2.4h-2.4zM488.9 1166.45h2.4v2.4h-2.4zM492.65 1167.77h1.6v2.4h-1.6zM491.31 1171.5h2.4v2.4h-2.4zM488.9 1176.6h2.4v2.4h-2.4zM492.65 1177.92h1.6v2.4h-1.6zM491.31 1181.65h2.4v2.4h-2.4zM488.9 1186.75h2.4v2.4h-2.4zM492.65 1188.07h1.6v2.4h-1.6zM491.31 1191.8h2.4v2.4h-2.4zM488.9 1196.9h2.4v2.4h-2.4zM492.65 1198.22h1.6v2.4h-1.6zM491.31 1201.95h2.4v2.4h-2.4zM488.9 1207.05h2.4v2.4h-2.4zM492.65 1208.37h1.6v2.4h-1.6zM491.31 1212.1h2.4v2.4h-2.4zM488.9 1217.2h2.4v2.4h-2.4zM492.65 1218.52h1.6v2.4h-1.6zM491.31 1222.25h2.4v2.4h-2.4zM488.9 1227.35h2.4v2.4h-2.4zM492.65 1228.67h1.6v2.4h-1.6z" fill="#000"/>
<rect x="469.85" y="1158.21" width="24.4" height="73.99" fill="none" stroke="#000" stroke-width="1.45"/>
<path d="M482.05 1152.01 V1164.41 M478.95 1152.01 H485.15 M478.95 1164.41 H485.15" stroke="#000" stroke-width="1.3" fill="none"/>
<rect x="494.25" y="1118.52" width="24.4" height="113.68" fill="url(#brl)" stroke="#000" stroke-width="1.45"/>
<path d="M506.45 1109.32 V1127.72 M503.35 1109.32 H509.55 M503.35 1127.72 H509.55" stroke="#000" stroke-width="1.3" fill="none"/>
<rect x="554.95" y="1102.56" width="24.4" height="129.64" fill="#fff"/>
<path d="M558.41 1102.56h2.4v1.55h-2.4zM554.95 1103h2.35v2.4h-2.35zM554.95 1106.87h1v2.4h-1zM557.4 1108h2.4v2.4h-2.4zM558.41 1111.85h2.4v2.4h-2.4zM554.95 1113.15h2.35v2.4h-2.35zM554.95 1117.02h1v2.4h-1zM557.4 1118.15h2.4v2.4h-2.4zM558.41 1122h2.4v2.4h-2.4zM554.95 1123.3h2.35v2.4h-2.35zM554.95 1127.17h1v2.4h-1zM557.4 1128.3h2.4v2.4h-2.4zM558.41 1132.15h2.4v2.4h-2.4zM554.95 1133.45h2.35v2.4h-2.35zM554.95 1137.32h1v2.4h-1zM557.4 1138.45h2.4v2.4h-2.4zM558.41 1142.3h2.4v2.4h-2.4zM554.95 1143.6h2.35v2.4h-2.35zM554.95 1147.47h1v2.4h-1zM557.4 1148.6h2.4v2.4h-2.4zM558.41 1152.45h2.4v2.4h-2.4zM554.95 1153.75h2.35v2.4h-2.35zM554.95 1157.62h1v2.4h-1zM557.4 1158.75h2.4v2.4h-2.4zM558.41 1162.6h2.4v2.4h-2.4zM554.95 1163.9h2.35v2.4h-2.35zM554.95 1167.77h1v2.4h-1zM557.4 1168.9h2.4v2.4h-2.4zM558.41 1172.75h2.4v2.4h-2.4zM554.95 1174.05h2.35v2.4h-2.35zM554.95 1177.92h1v2.4h-1zM557.4 1179.05h2.4v2.4h-2.4zM558.41 1182.9h2.4v2.4h-2.4zM554.95 1184.2h2.35v2.4h-2.35zM554.95 1188.07h1v2.4h-1zM557.4 1189.2h2.4v2.4h-2.4zM558.41 1193.05h2.4v2.4h-2.4zM554.95 1194.35h2.35v2.4h-2.35zM554.95 1198.22h1v2.4h-1zM557.4 1199.35h2.4v2.4h-2.4zM558.41 1203.2h2.4v2.4h-2.4zM554.95 1204.5h2.35v2.4h-2.35zM554.95 1208.37h1v2.4h-1zM557.4 1209.5h2.4v2.4h-2.4zM558.41 1213.35h2.4v2.4h-2.4zM554.95 1214.65h2.35v2.4h-2.35zM554.95 1218.52h1v2.4h-1zM557.4 1219.65h2.4v2.4h-2.4zM558.41 1223.5h2.4v2.4h-2.4zM554.95 1224.8h2.35v2.4h-2.35zM554.95 1228.67h1v2.4h-1zM557.4 1229.8h2.4v2.4h-2.4zM568.56 1102.56h2.4v1.55h-2.4zM565.05 1103h2.4v2.4h-2.4zM559.95 1105.55h2.4v2.4h-2.4zM563.7 1106.87h2.4v2.4h-2.4zM567.55 1108h2.4v2.4h-2.4zM562.36 1110.6h2.4v2.4h-2.4zM568.56 1111.85h2.4v2.4h-2.4zM565.05 1113.15h2.4v2.4h-2.4zM559.95 1115.7h2.4v2.4h-2.4zM563.7 1117.02h2.4v2.4h-2.4zM567.55 1118.15h2.4v2.4h-2.4zM562.36 1120.75h2.4v2.4h-2.4zM568.56 1122h2.4v2.4h-2.4zM565.05 1123.3h2.4v2.4h-2.4zM559.95 1125.85h2.4v2.4h-2.4zM563.7 1127.17h2.4v2.4h-2.4zM567.55 1128.3h2.4v2.4h-2.4zM562.36 1130.9h2.4v2.4h-2.4zM568.56 1132.15h2.4v2.4h-2.4zM565.05 1133.45h2.4v2.4h-2.4zM559.95 1136h2.4v2.4h-2.4zM563.7 1137.32h2.4v2.4h-2.4zM567.55 1138.45h2.4v2.4h-2.4zM562.36 1141.05h2.4v2.4h-2.4zM568.56 1142.3h2.4v2.4h-2.4zM565.05 1143.6h2.4v2.4h-2.4zM559.95 1146.15h2.4v2.4h-2.4zM563.7 1147.47h2.4v2.4h-2.4zM567.55 1148.6h2.4v2.4h-2.4zM562.36 1151.2h2.4v2.4h-2.4zM568.56 1152.45h2.4v2.4h-2.4zM565.05 1153.75h2.4v2.4h-2.4zM559.95 1156.3h2.4v2.4h-2.4zM563.7 1157.62h2.4v2.4h-2.4zM567.55 1158.75h2.4v2.4h-2.4zM562.36 1161.35h2.4v2.4h-2.4zM568.56 1162.6h2.4v2.4h-2.4zM565.05 1163.9h2.4v2.4h-2.4zM559.95 1166.45h2.4v2.4h-2.4zM563.7 1167.77h2.4v2.4h-2.4zM567.55 1168.9h2.4v2.4h-2.4zM562.36 1171.5h2.4v2.4h-2.4zM568.56 1172.75h2.4v2.4h-2.4zM565.05 1174.05h2.4v2.4h-2.4zM559.95 1176.6h2.4v2.4h-2.4zM563.7 1177.92h2.4v2.4h-2.4zM567.55 1179.05h2.4v2.4h-2.4zM562.36 1181.65h2.4v2.4h-2.4zM568.56 1182.9h2.4v2.4h-2.4zM565.05 1184.2h2.4v2.4h-2.4zM559.95 1186.75h2.4v2.4h-2.4zM563.7 1188.07h2.4v2.4h-2.4zM567.55 1189.2h2.4v2.4h-2.4zM562.36 1191.8h2.4v2.4h-2.4zM568.56 1193.05h2.4v2.4h-2.4zM565.05 1194.35h2.4v2.4h-2.4zM559.95 1196.9h2.4v2.4h-2.4zM563.7 1198.22h2.4v2.4h-2.4zM567.55 1199.35h2.4v2.4h-2.4zM562.36 1201.95h2.4v2.4h-2.4zM568.56 1203.2h2.4v2.4h-2.4zM565.05 1204.5h2.4v2.4h-2.4zM559.95 1207.05h2.4v2.4h-2.4zM563.7 1208.37h2.4v2.4h-2.4zM567.55 1209.5h2.4v2.4h-2.4zM562.36 1212.1h2.4v2.4h-2.4zM568.56 1213.35h2.4v2.4h-2.4zM565.05 1214.65h2.4v2.4h-2.4zM559.95 1217.2h2.4v2.4h-2.4zM563.7 1218.52h2.4v2.4h-2.4zM567.55 1219.65h2.4v2.4h-2.4zM562.36 1222.25h2.4v2.4h-2.4zM568.56 1223.5h2.4v2.4h-2.4zM565.05 1224.8h2.4v2.4h-2.4zM559.95 1227.35h2.4v2.4h-2.4zM563.7 1228.67h2.4v2.4h-2.4zM567.55 1229.8h2.4v2.4h-2.4zM578.71 1102.56h0.64v1.55h-0.64zM575.2 1103h2.4v2.4h-2.4zM570.1 1105.55h2.4v2.4h-2.4zM573.85 1106.87h2.4v2.4h-2.4zM577.7 1108h1.65v2.4h-1.65zM572.51 1110.6h2.4v2.4h-2.4zM578.71 1111.85h0.64v2.4h-0.64zM575.2 1113.15h2.4v2.4h-2.4zM570.1 1115.7h2.4v2.4h-2.4zM573.85 1117.02h2.4v2.4h-2.4zM577.7 1118.15h1.65v2.4h-1.65zM572.51 1120.75h2.4v2.4h-2.4zM578.71 1122h0.64v2.4h-0.64zM575.2 1123.3h2.4v2.4h-2.4zM570.1 1125.85h2.4v2.4h-2.4zM573.85 1127.17h2.4v2.4h-2.4zM577.7 1128.3h1.65v2.4h-1.65zM572.51 1130.9h2.4v2.4h-2.4zM578.71 1132.15h0.64v2.4h-0.64zM575.2 1133.45h2.4v2.4h-2.4zM570.1 1136h2.4v2.4h-2.4zM573.85 1137.32h2.4v2.4h-2.4zM577.7 1138.45h1.65v2.4h-1.65zM572.51 1141.05h2.4v2.4h-2.4zM578.71 1142.3h0.64v2.4h-0.64zM575.2 1143.6h2.4v2.4h-2.4zM570.1 1146.15h2.4v2.4h-2.4zM573.85 1147.47h2.4v2.4h-2.4zM577.7 1148.6h1.65v2.4h-1.65zM572.51 1151.2h2.4v2.4h-2.4zM578.71 1152.45h0.64v2.4h-0.64zM575.2 1153.75h2.4v2.4h-2.4zM570.1 1156.3h2.4v2.4h-2.4zM573.85 1157.62h2.4v2.4h-2.4zM577.7 1158.75h1.65v2.4h-1.65zM572.51 1161.35h2.4v2.4h-2.4zM578.71 1162.6h0.64v2.4h-0.64zM575.2 1163.9h2.4v2.4h-2.4zM570.1 1166.45h2.4v2.4h-2.4zM573.85 1167.77h2.4v2.4h-2.4zM577.7 1168.9h1.65v2.4h-1.65zM572.51 1171.5h2.4v2.4h-2.4zM578.71 1172.75h0.64v2.4h-0.64zM575.2 1174.05h2.4v2.4h-2.4zM570.1 1176.6h2.4v2.4h-2.4zM573.85 1177.92h2.4v2.4h-2.4zM577.7 1179.05h1.65v2.4h-1.65zM572.51 1181.65h2.4v2.4h-2.4zM578.71 1182.9h0.64v2.4h-0.64zM575.2 1184.2h2.4v2.4h-2.4zM570.1 1186.75h2.4v2.4h-2.4zM573.85 1188.07h2.4v2.4h-2.4zM577.7 1189.2h1.65v2.4h-1.65zM572.51 1191.8h2.4v2.4h-2.4zM578.71 1193.05h0.64v2.4h-0.64zM575.2 1194.35h2.4v2.4h-2.4zM570.1 1196.9h2.4v2.4h-2.4zM573.85 1198.22h2.4v2.4h-2.4zM577.7 1199.35h1.65v2.4h-1.65zM572.51 1201.95h2.4v2.4h-2.4zM578.71 1203.2h0.64v2.4h-0.64zM575.2 1204.5h2.4v2.4h-2.4zM570.1 1207.05h2.4v2.4h-2.4zM573.85 1208.37h2.4v2.4h-2.4zM577.7 1209.5h1.65v2.4h-1.65zM572.51 1212.1h2.4v2.4h-2.4zM578.71 1213.35h0.64v2.4h-0.64zM575.2 1214.65h2.4v2.4h-2.4zM570.1 1217.2h2.4v2.4h-2.4zM573.85 1218.52h2.4v2.4h-2.4zM577.7 1219.65h1.65v2.4h-1.65zM572.51 1222.25h2.4v2.4h-2.4zM578.71 1223.5h0.64v2.4h-0.64zM575.2 1224.8h2.4v2.4h-2.4zM570.1 1227.35h2.4v2.4h-2.4zM573.85 1228.67h2.4v2.4h-2.4zM577.7 1229.8h1.65v2.4h-1.65z" fill="#000"/>
<rect x="554.95" y="1102.56" width="24.4" height="129.64" fill="none" stroke="#000" stroke-width="1.45"/>
<path d="M567.15 1098.06 V1107.06 M564.05 1098.06 H570.25 M564.05 1107.06 H570.25" stroke="#000" stroke-width="1.3" fill="none"/>
<rect x="579.35" y="1137.07" width="24.4" height="95.13" fill="url(#brl)" stroke="#000" stroke-width="1.45"/>
<path d="M591.55 1134.57 V1139.57 M588.45 1134.57 H594.65 M588.45 1139.57 H594.65" stroke="#000" stroke-width="1.3" fill="none"/>
<path d="M366.6 1081.2 V1232.2 M362.1 1232.2 H366.6 M362.1 1210.63 H366.6 M362.1 1189.06 H366.6 M362.1 1167.49 H366.6 M362.1 1145.91 H366.6 M362.1 1124.34 H366.6 M362.1 1102.77 H366.6 M362.1 1081.2 H366.6 M366.6 1232.2 H621.9 M366.6 1232.2 V1236.7 M451.7 1232.2 V1236.7 M536.8 1232.2 V1236.7 M621.9 1232.2 V1236.7" stroke="#7f7f7f" stroke-width="1.4" fill="none"/>
<text x="355" y="1236.8" text-anchor="end" class="t">0</text>
<text x="355" y="1215.23" text-anchor="end" class="t">1</text>
<text x="355" y="1193.66" text-anchor="end" class="t">2</text>
<text x="355" y="1172.09" text-anchor="end" class="t">3</text>
<text x="355" y="1150.51" text-anchor="end" class="t">4</text>
<text x="355" y="1128.94" text-anchor="end" class="t">5</text>
<text x="355" y="1107.37" text-anchor="end" class="t">6</text>
<text x="355" y="1085.8" text-anchor="end" class="t">7</text>
<text x="409.15" y="1253.5" text-anchor="middle" class="t">0 dpi</text>
<text x="494.25" y="1253.5" text-anchor="middle" class="t">3 dpi</text>
<text x="579.35" y="1253.5" text-anchor="middle" class="t">10 dpi</text>
<rect x="642.25" y="1151.05" width="7.1" height="7.1" fill="#fff" stroke="#000" stroke-width="1.3"/>
<rect x="644.6" y="1153.4" width="2.6" height="2.6" fill="#000"/>
<rect x="642.25" y="1173.95" width="7.1" height="7.1" fill="#fff" stroke="#000" stroke-width="1.3"/>
<path d="M644.1 1175.8 L648.1 1179.8" stroke="#000" stroke-width="1"/>
<text x="652.6" y="1158.5" class="lg" textLength="13.4" lengthAdjust="spacingAndGlyphs">C4</text>
<text x="653.3" y="1181.4" class="lg" textLength="6.0" lengthAdjust="spacingAndGlyphs">K</text>
<rect x="392.8" y="1088.2" width="3.4" height="18.4" rx="0.6" fill="#000"/>
<rect x="339.5" y="1260.2" width="346" height="0.8" fill="#888"/>
</svg>
</body></html>
